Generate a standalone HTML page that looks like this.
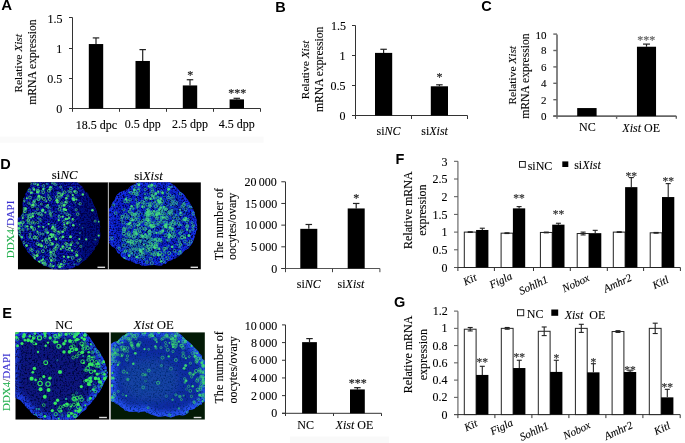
<!DOCTYPE html>
<html><head><meta charset="utf-8"><style>
html,body{margin:0;padding:0;background:#fff;}
body{width:685px;height:443px;overflow:hidden;position:relative;}
svg{position:absolute;left:0;top:0;}
</style></head><body>
<svg width="685" height="443" viewBox="0 0 685 443">
<rect x="0" y="136.6" width="263.5" height="6.2" fill="#fafafa"/>
<rect x="290" y="436.5" width="99" height="6.5" fill="#f9f9f9"/>
<filter id="soft" x="-5%" y="-5%" width="110%" height="110%"><feGaussianBlur stdDeviation="0.4"/></filter>
<filter id="rimblur" x="-10%" y="-10%" width="120%" height="120%"><feGaussianBlur stdDeviation="2.5"/></filter>
<filter id="hazeblur" x="-30%" y="-30%" width="160%" height="160%"><feGaussianBlur stdDeviation="4"/></filter>
<clipPath id="cd1"><rect x="17.8" y="182.2" width="90.2" height="87.4"/></clipPath>
<clipPath id="bd1"><path d="M31.4,181.4 L46.8,180.7 L61.1,180.9 L76.0,181.3 L77.4,182.6 L80.5,185.2 L82.5,186.8 L83.9,189.8 L85.4,192.1 L88.0,193.1 L88.7,196.6 L91.6,199.2 L92.5,202.1 L93.7,205.1 L95.6,208.6 L96.8,211.5 L97.5,214.9 L98.2,217.6 L99.6,221.4 L99.6,223.5 L100.3,226.9 L99.4,228.8 L100.1,232.2 L100.3,234.8 L100.1,238.0 L98.6,240.4 L98.4,243.1 L97.1,245.3 L95.1,247.0 L94.6,249.4 L92.4,251.7 L90.9,254.3 L88.4,256.5 L86.5,259.3 L84.4,260.6 L82.2,262.0 L79.6,264.5 L78.5,265.5 L75.7,266.0 L73.7,268.1 L71.9,268.3 L69.9,268.7 L67.4,270.3 L63.4,269.8 L59.0,269.9 L55.7,269.2 L53.4,269.4 L51.4,268.6 L49.2,267.5 L46.4,266.3 L43.3,265.8 L41.5,263.9 L38.9,262.5 L36.3,260.6 L34.0,259.1 L32.0,256.5 L29.2,253.7 L27.2,251.7 L26.6,249.8 L25.2,247.7 L23.1,245.6 L22.5,242.2 L20.7,239.7 L20.5,237.5 L18.7,235.3 L17.9,232.1 L16.6,230.0 L16.6,226.1 L17.3,222.7 L16.8,219.2 L17.8,218.0 L19.7,216.7 L20.7,216.5 L21.9,213.9 L22.8,212.8 L22.8,210.1 L22.8,207.4 L22.6,203.9 L23.0,200.2 L23.4,198.5 L25.0,195.9 L25.2,193.9 L26.4,192.0 L27.4,190.3 L28.2,188.2 L30.3,186.4 L30.5,183.9Z"/></clipPath>
<filter id="nd1" x="17.8" y="182.2" width="90.2" height="87.4" filterUnits="userSpaceOnUse"><feTurbulence type="fractalNoise" baseFrequency="0.6" numOctaves="2" seed="11"/><feColorMatrix type="matrix" values="0 0 0 0 0.00  0 0 0 0 0.00  0 0 0 0 0.06  3.4 0 0 0 -1.3"/></filter>
<g clip-path="url(#cd1)">
<rect x="17.8" y="182.2" width="90.2" height="87.4" fill="#000"/>
<g filter="url(#soft)">

<path d="M31.4,181.4 L46.8,180.7 L61.1,180.9 L76.0,181.3 L77.4,182.6 L80.5,185.2 L82.5,186.8 L83.9,189.8 L85.4,192.1 L88.0,193.1 L88.7,196.6 L91.6,199.2 L92.5,202.1 L93.7,205.1 L95.6,208.6 L96.8,211.5 L97.5,214.9 L98.2,217.6 L99.6,221.4 L99.6,223.5 L100.3,226.9 L99.4,228.8 L100.1,232.2 L100.3,234.8 L100.1,238.0 L98.6,240.4 L98.4,243.1 L97.1,245.3 L95.1,247.0 L94.6,249.4 L92.4,251.7 L90.9,254.3 L88.4,256.5 L86.5,259.3 L84.4,260.6 L82.2,262.0 L79.6,264.5 L78.5,265.5 L75.7,266.0 L73.7,268.1 L71.9,268.3 L69.9,268.7 L67.4,270.3 L63.4,269.8 L59.0,269.9 L55.7,269.2 L53.4,269.4 L51.4,268.6 L49.2,267.5 L46.4,266.3 L43.3,265.8 L41.5,263.9 L38.9,262.5 L36.3,260.6 L34.0,259.1 L32.0,256.5 L29.2,253.7 L27.2,251.7 L26.6,249.8 L25.2,247.7 L23.1,245.6 L22.5,242.2 L20.7,239.7 L20.5,237.5 L18.7,235.3 L17.9,232.1 L16.6,230.0 L16.6,226.1 L17.3,222.7 L16.8,219.2 L17.8,218.0 L19.7,216.7 L20.7,216.5 L21.9,213.9 L22.8,212.8 L22.8,210.1 L22.8,207.4 L22.6,203.9 L23.0,200.2 L23.4,198.5 L25.0,195.9 L25.2,193.9 L26.4,192.0 L27.4,190.3 L28.2,188.2 L30.3,186.4 L30.5,183.9Z" fill="#0a18b4"/>
<g clip-path="url(#bd1)">
<ellipse cx="90" cy="228" rx="14" ry="42" fill="#000a40" fill-opacity="0.45" filter="url(#hazeblur)"/>
<rect x="17.8" y="182.2" width="90.2" height="87.4" filter="url(#nd1)"/>
<g opacity="0.95"><circle cx="55.1" cy="231.1" r="1.2" fill="none" stroke="#50ee70" stroke-width="0.6"/><circle cx="66.3" cy="198.3" r="1.3" fill="#50ee70"/><circle cx="25.6" cy="208.7" r="1.4" fill="#50ee70"/><circle cx="30.8" cy="183.5" r="0.9" fill="none" stroke="#50ee70" stroke-width="0.6"/><circle cx="37.8" cy="184.8" r="1.2" fill="#50ee70"/><circle cx="60.6" cy="238.2" r="1.3" fill="none" stroke="#50ee70" stroke-width="0.6"/><circle cx="76.2" cy="209.8" r="1.1" fill="none" stroke="#50ee70" stroke-width="0.6"/><circle cx="49.7" cy="265.9" r="0.9" fill="none" stroke="#50ee70" stroke-width="0.6"/><circle cx="50.6" cy="188.6" r="1.4" fill="none" stroke="#50ee70" stroke-width="0.7"/><circle cx="25.0" cy="211.3" r="1.4" fill="none" stroke="#50ee70" stroke-width="0.7"/><circle cx="38.1" cy="191.0" r="1.4" fill="none" stroke="#50ee70" stroke-width="0.7"/><circle cx="63.9" cy="221.3" r="1.3" fill="none" stroke="#50ee70" stroke-width="0.7"/><circle cx="70.9" cy="192.4" r="1.0" fill="none" stroke="#50ee70" stroke-width="0.6"/><circle cx="42.9" cy="259.5" r="1.1" fill="#50ee70"/><circle cx="35.4" cy="204.8" r="1.1" fill="none" stroke="#50ee70" stroke-width="0.6"/><circle cx="65.9" cy="203.4" r="1.1" fill="none" stroke="#50ee70" stroke-width="0.6"/><circle cx="38.4" cy="198.8" r="1.5" fill="none" stroke="#50ee70" stroke-width="0.7"/><circle cx="67.6" cy="219.0" r="0.9" fill="#50ee70"/><circle cx="37.5" cy="243.8" r="1.4" fill="none" stroke="#50ee70" stroke-width="0.7"/><circle cx="42.0" cy="197.5" r="0.9" fill="none" stroke="#50ee70" stroke-width="0.6"/><circle cx="63.9" cy="256.7" r="1.1" fill="#50ee70"/><circle cx="34.6" cy="183.6" r="1.2" fill="none" stroke="#50ee70" stroke-width="0.6"/><circle cx="32.3" cy="214.4" r="1.0" fill="none" stroke="#50ee70" stroke-width="0.6"/><circle cx="72.0" cy="242.6" r="1.0" fill="none" stroke="#50ee70" stroke-width="0.6"/><circle cx="57.6" cy="246.0" r="1.5" fill="none" stroke="#50ee70" stroke-width="0.7"/><circle cx="62.8" cy="246.6" r="1.3" fill="#50ee70"/><circle cx="46.8" cy="242.1" r="1.4" fill="none" stroke="#50ee70" stroke-width="0.7"/><circle cx="69.4" cy="215.6" r="1.3" fill="none" stroke="#50ee70" stroke-width="0.6"/><circle cx="57.5" cy="202.3" r="1.2" fill="#50ee70"/><circle cx="73.7" cy="199.9" r="1.4" fill="#50ee70"/><circle cx="54.3" cy="260.1" r="1.3" fill="none" stroke="#50ee70" stroke-width="0.6"/><circle cx="53.3" cy="252.6" r="1.4" fill="none" stroke="#50ee70" stroke-width="0.7"/><circle cx="65.9" cy="209.9" r="1.2" fill="#50ee70"/><circle cx="40.6" cy="197.0" r="1.1" fill="none" stroke="#50ee70" stroke-width="0.6"/><circle cx="51.9" cy="236.9" r="1.1" fill="#50ee70"/><circle cx="98.8" cy="221.7" r="0.9" fill="#50ee70"/><circle cx="64.9" cy="209.2" r="0.9" fill="none" stroke="#50ee70" stroke-width="0.6"/><circle cx="55.3" cy="184.4" r="1.0" fill="none" stroke="#50ee70" stroke-width="0.6"/><circle cx="21.7" cy="237.2" r="1.3" fill="#50ee70"/><circle cx="74.3" cy="199.6" r="1.0" fill="none" stroke="#50ee70" stroke-width="0.6"/><circle cx="56.8" cy="244.6" r="1.1" fill="none" stroke="#50ee70" stroke-width="0.6"/><circle cx="55.2" cy="236.9" r="1.1" fill="none" stroke="#50ee70" stroke-width="0.6"/><circle cx="56.1" cy="239.1" r="1.3" fill="#50ee70"/><circle cx="70.7" cy="244.9" r="1.4" fill="#50ee70"/><circle cx="44.2" cy="261.7" r="1.1" fill="none" stroke="#50ee70" stroke-width="0.6"/><circle cx="54.2" cy="230.3" r="1.2" fill="none" stroke="#50ee70" stroke-width="0.6"/><circle cx="82.8" cy="194.5" r="1.2" fill="#50ee70"/><circle cx="58.4" cy="265.2" r="1.0" fill="none" stroke="#50ee70" stroke-width="0.6"/><circle cx="41.7" cy="245.9" r="1.2" fill="#50ee70"/><circle cx="64.0" cy="209.4" r="1.4" fill="#50ee70"/><circle cx="35.0" cy="256.6" r="1.2" fill="none" stroke="#50ee70" stroke-width="0.6"/><circle cx="34.4" cy="229.0" r="1.3" fill="none" stroke="#50ee70" stroke-width="0.6"/><circle cx="51.9" cy="265.8" r="1.1" fill="none" stroke="#50ee70" stroke-width="0.6"/><circle cx="28.3" cy="220.1" r="1.4" fill="none" stroke="#50ee70" stroke-width="0.7"/><circle cx="44.0" cy="198.9" r="1.5" fill="none" stroke="#50ee70" stroke-width="0.7"/><circle cx="33.8" cy="202.1" r="1.1" fill="none" stroke="#50ee70" stroke-width="0.6"/><circle cx="68.9" cy="191.4" r="1.0" fill="none" stroke="#50ee70" stroke-width="0.6"/><circle cx="38.5" cy="199.5" r="1.2" fill="none" stroke="#50ee70" stroke-width="0.6"/><circle cx="51.9" cy="228.5" r="1.0" fill="#50ee70"/><circle cx="68.3" cy="257.1" r="1.3" fill="#50ee70"/><circle cx="28.8" cy="203.1" r="1.1" fill="none" stroke="#50ee70" stroke-width="0.6"/><circle cx="28.2" cy="217.4" r="0.9" fill="none" stroke="#50ee70" stroke-width="0.6"/><circle cx="27.3" cy="226.4" r="1.2" fill="#50ee70"/><circle cx="33.4" cy="188.4" r="0.9" fill="none" stroke="#50ee70" stroke-width="0.6"/><circle cx="60.3" cy="231.9" r="1.0" fill="none" stroke="#50ee70" stroke-width="0.6"/><circle cx="55.9" cy="249.0" r="1.2" fill="none" stroke="#50ee70" stroke-width="0.6"/><circle cx="53.3" cy="234.7" r="1.3" fill="#50ee70"/><circle cx="32.8" cy="221.9" r="1.1" fill="none" stroke="#50ee70" stroke-width="0.6"/><circle cx="31.4" cy="227.0" r="1.4" fill="#50ee70"/><circle cx="51.2" cy="234.6" r="1.5" fill="#50ee70"/><circle cx="39.1" cy="261.8" r="1.4" fill="#50ee70"/><circle cx="51.3" cy="260.6" r="1.3" fill="#50ee70"/><circle cx="23.6" cy="212.1" r="0.9" fill="none" stroke="#50ee70" stroke-width="0.6"/><circle cx="70.5" cy="236.7" r="1.5" fill="#50ee70"/><circle cx="45.7" cy="239.9" r="1.2" fill="none" stroke="#50ee70" stroke-width="0.6"/><circle cx="19.7" cy="236.0" r="1.1" fill="none" stroke="#50ee70" stroke-width="0.6"/><circle cx="48.8" cy="190.8" r="1.4" fill="none" stroke="#50ee70" stroke-width="0.7"/><circle cx="59.7" cy="266.7" r="1.5" fill="#50ee70"/><circle cx="67.1" cy="248.6" r="1.5" fill="none" stroke="#50ee70" stroke-width="0.7"/><circle cx="56.7" cy="197.0" r="1.3" fill="none" stroke="#50ee70" stroke-width="0.6"/><circle cx="67.1" cy="214.2" r="1.3" fill="none" stroke="#50ee70" stroke-width="0.6"/><circle cx="41.2" cy="244.8" r="0.9" fill="none" stroke="#50ee70" stroke-width="0.6"/><circle cx="61.0" cy="264.1" r="1.2" fill="#50ee70"/><circle cx="69.3" cy="222.0" r="0.9" fill="none" stroke="#50ee70" stroke-width="0.6"/><circle cx="28.1" cy="220.9" r="1.2" fill="none" stroke="#50ee70" stroke-width="0.6"/><circle cx="65.8" cy="218.9" r="1.2" fill="#50ee70"/><circle cx="37.5" cy="192.2" r="1.4" fill="#50ee70"/><circle cx="47.4" cy="205.9" r="1.2" fill="none" stroke="#50ee70" stroke-width="0.6"/><circle cx="70.0" cy="248.0" r="1.0" fill="#50ee70"/><circle cx="40.1" cy="219.4" r="1.0" fill="none" stroke="#50ee70" stroke-width="0.6"/><circle cx="48.6" cy="224.0" r="1.1" fill="#50ee70"/><circle cx="69.3" cy="249.4" r="1.2" fill="none" stroke="#50ee70" stroke-width="0.6"/><circle cx="63.1" cy="247.4" r="1.2" fill="none" stroke="#50ee70" stroke-width="0.6"/><circle cx="64.3" cy="224.6" r="1.1" fill="#50ee70"/><circle cx="24.1" cy="200.8" r="0.9" fill="none" stroke="#50ee70" stroke-width="0.6"/><circle cx="77.6" cy="242.9" r="1.0" fill="none" stroke="#50ee70" stroke-width="0.6"/><circle cx="77.7" cy="214.2" r="1.3" fill="none" stroke="#50ee70" stroke-width="0.7"/><circle cx="42.9" cy="210.0" r="1.5" fill="#50ee70"/><circle cx="38.3" cy="213.8" r="1.1" fill="none" stroke="#50ee70" stroke-width="0.6"/><circle cx="49.8" cy="199.2" r="1.4" fill="none" stroke="#50ee70" stroke-width="0.7"/><circle cx="80.4" cy="259.2" r="0.9" fill="none" stroke="#50ee70" stroke-width="0.6"/><circle cx="62.7" cy="231.8" r="1.3" fill="#50ee70"/><circle cx="23.1" cy="230.0" r="1.0" fill="none" stroke="#50ee70" stroke-width="0.6"/><circle cx="78.6" cy="260.8" r="1.3" fill="none" stroke="#50ee70" stroke-width="0.6"/><circle cx="79.3" cy="238.9" r="1.0" fill="#50ee70"/><circle cx="60.8" cy="249.0" r="1.1" fill="#50ee70"/><circle cx="73.3" cy="225.3" r="1.3" fill="#50ee70"/><circle cx="76.4" cy="252.3" r="1.2" fill="none" stroke="#50ee70" stroke-width="0.6"/><circle cx="48.8" cy="196.9" r="1.2" fill="none" stroke="#50ee70" stroke-width="0.6"/><circle cx="43.2" cy="192.2" r="1.4" fill="none" stroke="#50ee70" stroke-width="0.7"/><circle cx="22.9" cy="222.3" r="1.4" fill="none" stroke="#50ee70" stroke-width="0.7"/><circle cx="26.8" cy="198.3" r="1.0" fill="#50ee70"/><circle cx="66.9" cy="201.8" r="1.1" fill="none" stroke="#50ee70" stroke-width="0.6"/><circle cx="46.0" cy="230.0" r="1.2" fill="none" stroke="#50ee70" stroke-width="0.6"/><circle cx="60.4" cy="206.2" r="1.3" fill="none" stroke="#50ee70" stroke-width="0.6"/><circle cx="18.7" cy="223.5" r="1.4" fill="#50ee70"/><circle cx="67.8" cy="195.9" r="1.1" fill="none" stroke="#50ee70" stroke-width="0.6"/><circle cx="61.9" cy="195.4" r="0.9" fill="#50ee70"/><circle cx="40.1" cy="244.8" r="1.2" fill="none" stroke="#50ee70" stroke-width="0.6"/><circle cx="42.8" cy="251.2" r="1.5" fill="none" stroke="#50ee70" stroke-width="0.7"/><circle cx="61.2" cy="196.0" r="1.1" fill="none" stroke="#50ee70" stroke-width="0.6"/><circle cx="24.1" cy="208.9" r="1.3" fill="none" stroke="#50ee70" stroke-width="0.7"/><circle cx="74.5" cy="191.4" r="1.2" fill="#50ee70"/><circle cx="86.2" cy="239.4" r="1.1" fill="#50ee70"/><circle cx="37.4" cy="231.5" r="0.9" fill="#50ee70"/><circle cx="41.8" cy="215.1" r="1.1" fill="none" stroke="#50ee70" stroke-width="0.6"/><circle cx="50.2" cy="240.5" r="1.0" fill="#50ee70"/><circle cx="45.0" cy="264.8" r="1.3" fill="none" stroke="#50ee70" stroke-width="0.7"/><circle cx="29.4" cy="190.5" r="1.3" fill="none" stroke="#50ee70" stroke-width="0.7"/><circle cx="51.0" cy="255.3" r="1.0" fill="none" stroke="#50ee70" stroke-width="0.6"/><circle cx="30.8" cy="193.0" r="0.9" fill="#50ee70"/><circle cx="53.0" cy="226.9" r="1.4" fill="#50ee70"/><circle cx="49.6" cy="211.2" r="0.9" fill="none" stroke="#50ee70" stroke-width="0.6"/><circle cx="46.0" cy="239.1" r="1.1" fill="none" stroke="#50ee70" stroke-width="0.6"/><circle cx="30.9" cy="249.2" r="1.2" fill="none" stroke="#50ee70" stroke-width="0.6"/><circle cx="59.1" cy="194.6" r="1.5" fill="none" stroke="#50ee70" stroke-width="0.7"/><circle cx="76.8" cy="255.2" r="1.5" fill="#50ee70"/><circle cx="34.1" cy="189.5" r="1.2" fill="#50ee70"/><circle cx="45.0" cy="263.4" r="1.2" fill="none" stroke="#50ee70" stroke-width="0.6"/><circle cx="64.0" cy="205.3" r="1.5" fill="#50ee70"/><circle cx="41.6" cy="260.6" r="1.2" fill="#50ee70"/><circle cx="33.1" cy="230.1" r="0.9" fill="none" stroke="#50ee70" stroke-width="0.6"/><circle cx="34.3" cy="223.1" r="1.1" fill="none" stroke="#50ee70" stroke-width="0.6"/><circle cx="32.1" cy="227.6" r="1.2" fill="none" stroke="#50ee70" stroke-width="0.6"/><circle cx="67.3" cy="223.3" r="1.3" fill="#50ee70"/><circle cx="64.5" cy="261.3" r="1.2" fill="none" stroke="#50ee70" stroke-width="0.6"/><circle cx="92.4" cy="210.2" r="1.3" fill="#50ee70"/><circle cx="42.9" cy="234.1" r="1.0" fill="none" stroke="#50ee70" stroke-width="0.6"/><circle cx="59.3" cy="216.9" r="1.3" fill="none" stroke="#50ee70" stroke-width="0.7"/><circle cx="37.5" cy="209.0" r="1.0" fill="none" stroke="#50ee70" stroke-width="0.6"/><circle cx="72.7" cy="257.9" r="1.4" fill="none" stroke="#50ee70" stroke-width="0.7"/><circle cx="28.0" cy="229.2" r="0.9" fill="none" stroke="#50ee70" stroke-width="0.6"/><circle cx="42.5" cy="210.6" r="1.4" fill="#50ee70"/><circle cx="50.6" cy="213.4" r="0.9" fill="none" stroke="#50ee70" stroke-width="0.6"/><circle cx="56.8" cy="200.2" r="1.5" fill="#50ee70"/><circle cx="33.9" cy="255.4" r="1.2" fill="none" stroke="#50ee70" stroke-width="0.6"/><circle cx="34.5" cy="237.5" r="1.4" fill="none" stroke="#50ee70" stroke-width="0.7"/><circle cx="26.6" cy="245.6" r="1.4" fill="#50ee70"/><circle cx="95.2" cy="221.1" r="1.0" fill="none" stroke="#50ee70" stroke-width="0.6"/><circle cx="76.4" cy="199.4" r="1.0" fill="#50ee70"/><circle cx="42.6" cy="263.2" r="1.1" fill="#50ee70"/><circle cx="54.1" cy="228.4" r="0.9" fill="none" stroke="#50ee70" stroke-width="0.6"/><circle cx="41.3" cy="204.1" r="1.0" fill="none" stroke="#50ee70" stroke-width="0.6"/><circle cx="80.1" cy="203.7" r="1.2" fill="none" stroke="#50ee70" stroke-width="0.6"/><circle cx="20.6" cy="222.5" r="1.1" fill="#50ee70"/><circle cx="59.0" cy="197.9" r="1.3" fill="none" stroke="#50ee70" stroke-width="0.6"/><circle cx="72.1" cy="250.6" r="1.2" fill="#50ee70"/><circle cx="32.1" cy="250.3" r="1.3" fill="none" stroke="#50ee70" stroke-width="0.6"/><circle cx="54.1" cy="249.8" r="1.4" fill="none" stroke="#50ee70" stroke-width="0.7"/><circle cx="58.1" cy="201.5" r="1.2" fill="none" stroke="#50ee70" stroke-width="0.6"/><circle cx="67.0" cy="244.7" r="1.4" fill="none" stroke="#50ee70" stroke-width="0.7"/><circle cx="58.7" cy="220.2" r="1.1" fill="#50ee70"/><circle cx="64.7" cy="229.7" r="1.0" fill="none" stroke="#50ee70" stroke-width="0.6"/><circle cx="43.5" cy="185.9" r="1.3" fill="none" stroke="#50ee70" stroke-width="0.6"/><circle cx="39.6" cy="233.7" r="1.4" fill="none" stroke="#50ee70" stroke-width="0.7"/><circle cx="38.8" cy="196.2" r="1.4" fill="#50ee70"/><circle cx="22.8" cy="218.1" r="1.0" fill="#50ee70"/><circle cx="21.3" cy="225.0" r="1.5" fill="none" stroke="#50ee70" stroke-width="0.7"/><circle cx="55.4" cy="247.3" r="1.0" fill="#50ee70"/><circle cx="29.5" cy="216.5" r="1.2" fill="none" stroke="#50ee70" stroke-width="0.6"/><circle cx="80.8" cy="246.4" r="1.1" fill="none" stroke="#50ee70" stroke-width="0.6"/><circle cx="37.7" cy="222.5" r="1.1" fill="none" stroke="#50ee70" stroke-width="0.6"/><circle cx="98.7" cy="235.6" r="1.1" fill="#50ee70"/><circle cx="35.6" cy="212.6" r="1.2" fill="none" stroke="#50ee70" stroke-width="0.6"/><circle cx="34.6" cy="200.9" r="1.1" fill="none" stroke="#50ee70" stroke-width="0.6"/><circle cx="23.8" cy="242.6" r="1.1" fill="none" stroke="#50ee70" stroke-width="0.6"/><circle cx="32.8" cy="205.1" r="1.5" fill="#50ee70"/><circle cx="40.0" cy="213.8" r="1.5" fill="none" stroke="#50ee70" stroke-width="0.7"/><circle cx="49.5" cy="189.5" r="1.1" fill="#50ee70"/><circle cx="60.6" cy="187.0" r="1.0" fill="none" stroke="#50ee70" stroke-width="0.6"/><circle cx="30.2" cy="234.2" r="1.1" fill="none" stroke="#50ee70" stroke-width="0.6"/><circle cx="62.7" cy="194.1" r="1.1" fill="#50ee70"/><circle cx="72.8" cy="195.1" r="1.1" fill="#50ee70"/><circle cx="51.2" cy="216.0" r="1.0" fill="none" stroke="#50ee70" stroke-width="0.6"/><circle cx="46.3" cy="201.1" r="0.9" fill="#50ee70"/><circle cx="42.4" cy="240.8" r="1.0" fill="#50ee70"/><circle cx="37.2" cy="237.5" r="1.2" fill="none" stroke="#50ee70" stroke-width="0.6"/><circle cx="22.8" cy="215.7" r="1.2" fill="none" stroke="#50ee70" stroke-width="0.6"/><circle cx="30.9" cy="217.4" r="1.0" fill="#50ee70"/><circle cx="37.6" cy="190.3" r="1.2" fill="none" stroke="#50ee70" stroke-width="0.6"/><circle cx="65.9" cy="243.5" r="1.3" fill="none" stroke="#50ee70" stroke-width="0.7"/><circle cx="50.1" cy="214.0" r="1.1" fill="none" stroke="#50ee70" stroke-width="0.6"/><circle cx="58.7" cy="233.4" r="1.1" fill="none" stroke="#50ee70" stroke-width="0.6"/><circle cx="72.9" cy="198.5" r="1.3" fill="#50ee70"/><circle cx="47.7" cy="232.6" r="1.4" fill="#50ee70"/><circle cx="69.0" cy="218.1" r="1.1" fill="#50ee70"/><circle cx="59.6" cy="209.2" r="1.5" fill="none" stroke="#50ee70" stroke-width="0.7"/><circle cx="33.7" cy="202.2" r="1.0" fill="none" stroke="#50ee70" stroke-width="0.6"/><circle cx="62.7" cy="216.6" r="1.2" fill="#50ee70"/><circle cx="63.0" cy="236.8" r="1.4" fill="#50ee70"/><circle cx="45.3" cy="212.5" r="1.1" fill="#50ee70"/><circle cx="58.3" cy="231.5" r="1.1" fill="#50ee70"/><circle cx="61.8" cy="202.9" r="1.1" fill="none" stroke="#50ee70" stroke-width="0.6"/><circle cx="60.2" cy="193.2" r="0.9" fill="none" stroke="#50ee70" stroke-width="0.6"/><circle cx="75.9" cy="192.1" r="1.4" fill="none" stroke="#50ee70" stroke-width="0.7"/><circle cx="38.7" cy="226.6" r="1.1" fill="#50ee70"/><circle cx="38.6" cy="244.8" r="1.1" fill="#50ee70"/><circle cx="52.5" cy="244.0" r="1.4" fill="#50ee70"/><circle cx="28.1" cy="215.1" r="1.0" fill="none" stroke="#50ee70" stroke-width="0.6"/><circle cx="18.9" cy="233.4" r="1.5" fill="none" stroke="#50ee70" stroke-width="0.7"/><circle cx="50.5" cy="263.8" r="0.9" fill="#50ee70"/><circle cx="41.4" cy="246.1" r="1.0" fill="none" stroke="#50ee70" stroke-width="0.6"/><circle cx="20.0" cy="229.6" r="1.1" fill="none" stroke="#50ee70" stroke-width="0.6"/><circle cx="50.1" cy="236.2" r="1.5" fill="none" stroke="#50ee70" stroke-width="0.7"/><circle cx="29.9" cy="197.5" r="1.5" fill="none" stroke="#50ee70" stroke-width="0.7"/><circle cx="58.1" cy="192.7" r="0.9" fill="none" stroke="#50ee70" stroke-width="0.6"/><circle cx="29.6" cy="236.9" r="1.0" fill="none" stroke="#50ee70" stroke-width="0.6"/><circle cx="48.0" cy="204.9" r="0.9" fill="#50ee70"/><circle cx="43.3" cy="189.1" r="1.2" fill="#50ee70"/><circle cx="34.5" cy="258.0" r="1.1" fill="#50ee70"/><circle cx="50.5" cy="187.2" r="1.3" fill="#50ee70"/><circle cx="54.4" cy="255.1" r="1.0" fill="none" stroke="#50ee70" stroke-width="0.6"/><circle cx="31.7" cy="192.6" r="1.1" fill="#50ee70"/><circle cx="43.4" cy="227.1" r="1.0" fill="#50ee70"/><circle cx="18.7" cy="228.3" r="1.4" fill="#50ee70"/><circle cx="50.7" cy="252.4" r="1.4" fill="#50ee70"/><circle cx="51.0" cy="243.8" r="1.4" fill="none" stroke="#50ee70" stroke-width="0.7"/><circle cx="65.4" cy="202.1" r="1.1" fill="#50ee70"/><circle cx="47.0" cy="206.6" r="1.1" fill="none" stroke="#50ee70" stroke-width="0.6"/><circle cx="45.4" cy="247.0" r="1.3" fill="none" stroke="#50ee70" stroke-width="0.7"/><circle cx="73.9" cy="197.7" r="1.0" fill="none" stroke="#50ee70" stroke-width="0.6"/><circle cx="53.3" cy="183.0" r="1.1" fill="none" stroke="#50ee70" stroke-width="0.6"/><circle cx="62.1" cy="265.4" r="1.4" fill="none" stroke="#50ee70" stroke-width="0.7"/><circle cx="53.3" cy="266.3" r="1.1" fill="#50ee70"/><circle cx="32.5" cy="206.1" r="1.5" fill="none" stroke="#50ee70" stroke-width="0.7"/><circle cx="32.9" cy="213.4" r="1.0" fill="#50ee70"/><circle cx="49.0" cy="238.5" r="1.3" fill="#50ee70"/><circle cx="64.6" cy="192.2" r="1.3" fill="none" stroke="#50ee70" stroke-width="0.7"/><circle cx="72.7" cy="218.9" r="1.0" fill="#50ee70"/><circle cx="65.0" cy="227.2" r="1.3" fill="none" stroke="#50ee70" stroke-width="0.6"/><circle cx="30.3" cy="223.2" r="1.3" fill="none" stroke="#50ee70" stroke-width="0.7"/><circle cx="51.0" cy="258.0" r="1.5" fill="none" stroke="#50ee70" stroke-width="0.7"/><circle cx="37.1" cy="255.6" r="1.5" fill="#50ee70"/><circle cx="55.3" cy="229.1" r="1.0" fill="none" stroke="#50ee70" stroke-width="0.6"/><circle cx="70.9" cy="188.6" r="1.4" fill="none" stroke="#50ee70" stroke-width="0.7"/><circle cx="37.7" cy="252.1" r="1.4" fill="none" stroke="#50ee70" stroke-width="0.7"/><circle cx="30.3" cy="214.2" r="0.9" fill="none" stroke="#50ee70" stroke-width="0.6"/><circle cx="32.8" cy="216.2" r="1.3" fill="#50ee70"/><circle cx="34.9" cy="237.2" r="1.3" fill="none" stroke="#50ee70" stroke-width="0.7"/><circle cx="72.9" cy="219.8" r="1.1" fill="none" stroke="#50ee70" stroke-width="0.6"/></g>
<g opacity="0.6"><circle cx="69.7" cy="206.5" r="0.8" fill="#30c8a0"/><circle cx="28.4" cy="242.8" r="0.6" fill="#30c8a0"/><circle cx="74.9" cy="246.5" r="0.7" fill="#30c8a0"/><circle cx="29.9" cy="237.4" r="0.9" fill="#30c8a0"/><circle cx="55.5" cy="226.5" r="0.7" fill="#30c8a0"/><circle cx="37.2" cy="232.8" r="0.9" fill="#30c8a0"/><circle cx="67.4" cy="221.4" r="0.7" fill="#30c8a0"/><circle cx="54.2" cy="265.6" r="0.8" fill="#30c8a0"/><circle cx="38.0" cy="218.2" r="0.9" fill="#30c8a0"/><circle cx="52.5" cy="212.1" r="0.9" fill="#30c8a0"/><circle cx="62.8" cy="190.9" r="0.5" fill="#30c8a0"/><circle cx="48.7" cy="245.4" r="0.7" fill="#30c8a0"/><circle cx="70.0" cy="223.2" r="0.7" fill="#30c8a0"/><circle cx="50.4" cy="254.6" r="0.9" fill="#30c8a0"/><circle cx="23.3" cy="222.6" r="0.8" fill="#30c8a0"/><circle cx="48.3" cy="194.7" r="0.9" fill="#30c8a0"/><circle cx="31.6" cy="238.9" r="0.9" fill="#30c8a0"/><circle cx="27.7" cy="223.2" r="0.9" fill="#30c8a0"/><circle cx="46.8" cy="229.0" r="0.6" fill="#30c8a0"/><circle cx="42.7" cy="226.5" r="0.8" fill="#30c8a0"/><circle cx="25.1" cy="227.0" r="0.9" fill="#30c8a0"/><circle cx="51.9" cy="186.9" r="0.7" fill="#30c8a0"/><circle cx="55.7" cy="256.6" r="0.9" fill="#30c8a0"/><circle cx="51.9" cy="183.1" r="0.9" fill="#30c8a0"/><circle cx="70.8" cy="256.3" r="0.7" fill="#30c8a0"/><circle cx="39.3" cy="192.0" r="0.7" fill="#30c8a0"/><circle cx="50.3" cy="208.4" r="0.6" fill="#30c8a0"/><circle cx="53.2" cy="223.9" r="0.7" fill="#30c8a0"/><circle cx="22.9" cy="228.3" r="0.7" fill="#30c8a0"/><circle cx="26.0" cy="214.7" r="0.7" fill="#30c8a0"/><circle cx="79.6" cy="224.8" r="0.7" fill="#30c8a0"/><circle cx="18.4" cy="234.1" r="0.7" fill="#30c8a0"/><circle cx="48.2" cy="208.5" r="0.8" fill="#30c8a0"/><circle cx="58.8" cy="227.3" r="0.5" fill="#30c8a0"/><circle cx="38.6" cy="205.8" r="0.7" fill="#30c8a0"/><circle cx="51.0" cy="207.2" r="0.5" fill="#30c8a0"/><circle cx="21.8" cy="236.8" r="1.0" fill="#30c8a0"/><circle cx="79.9" cy="232.9" r="0.9" fill="#30c8a0"/><circle cx="49.0" cy="221.3" r="0.6" fill="#30c8a0"/><circle cx="78.4" cy="188.4" r="0.9" fill="#30c8a0"/><circle cx="63.0" cy="192.1" r="0.7" fill="#30c8a0"/><circle cx="64.0" cy="262.8" r="0.7" fill="#30c8a0"/><circle cx="56.8" cy="184.9" r="0.7" fill="#30c8a0"/><circle cx="49.8" cy="250.2" r="0.9" fill="#30c8a0"/><circle cx="66.1" cy="199.9" r="0.6" fill="#30c8a0"/><circle cx="66.6" cy="227.6" r="0.8" fill="#30c8a0"/><circle cx="47.4" cy="233.2" r="1.0" fill="#30c8a0"/><circle cx="75.3" cy="202.6" r="0.9" fill="#30c8a0"/><circle cx="39.0" cy="187.8" r="0.7" fill="#30c8a0"/><circle cx="53.5" cy="236.2" r="1.0" fill="#30c8a0"/><circle cx="55.4" cy="224.7" r="0.9" fill="#30c8a0"/><circle cx="43.1" cy="256.3" r="0.8" fill="#30c8a0"/><circle cx="63.3" cy="211.3" r="1.0" fill="#30c8a0"/><circle cx="35.8" cy="199.6" r="0.8" fill="#30c8a0"/><circle cx="38.4" cy="184.0" r="0.6" fill="#30c8a0"/><circle cx="38.7" cy="193.7" r="0.6" fill="#30c8a0"/><circle cx="40.7" cy="226.7" r="0.6" fill="#30c8a0"/><circle cx="47.7" cy="251.0" r="0.7" fill="#30c8a0"/><circle cx="64.5" cy="212.7" r="1.0" fill="#30c8a0"/><circle cx="95.4" cy="239.6" r="1.0" fill="#30c8a0"/><circle cx="43.3" cy="258.4" r="0.8" fill="#30c8a0"/><circle cx="20.2" cy="232.1" r="0.8" fill="#30c8a0"/><circle cx="82.5" cy="227.8" r="0.8" fill="#30c8a0"/><circle cx="61.2" cy="213.2" r="0.6" fill="#30c8a0"/><circle cx="52.2" cy="224.7" r="0.7" fill="#30c8a0"/><circle cx="42.6" cy="211.5" r="1.0" fill="#30c8a0"/><circle cx="19.5" cy="225.0" r="0.8" fill="#30c8a0"/><circle cx="68.4" cy="263.8" r="0.8" fill="#30c8a0"/><circle cx="65.7" cy="248.4" r="0.5" fill="#30c8a0"/><circle cx="46.4" cy="183.5" r="0.6" fill="#30c8a0"/><circle cx="61.2" cy="211.5" r="0.7" fill="#30c8a0"/><circle cx="30.2" cy="204.3" r="0.9" fill="#30c8a0"/><circle cx="37.5" cy="239.4" r="0.8" fill="#30c8a0"/><circle cx="42.7" cy="211.0" r="0.8" fill="#30c8a0"/><circle cx="62.4" cy="189.1" r="0.6" fill="#30c8a0"/><circle cx="52.0" cy="268.7" r="0.7" fill="#30c8a0"/><circle cx="29.0" cy="251.2" r="0.7" fill="#30c8a0"/><circle cx="49.1" cy="207.3" r="0.9" fill="#30c8a0"/><circle cx="59.0" cy="215.4" r="1.0" fill="#30c8a0"/><circle cx="34.8" cy="258.9" r="1.0" fill="#30c8a0"/><circle cx="76.7" cy="264.8" r="0.6" fill="#30c8a0"/><circle cx="55.2" cy="214.7" r="0.6" fill="#30c8a0"/><circle cx="23.7" cy="198.4" r="0.5" fill="#30c8a0"/><circle cx="32.9" cy="192.9" r="0.8" fill="#30c8a0"/><circle cx="24.5" cy="201.7" r="0.7" fill="#30c8a0"/><circle cx="45.1" cy="231.9" r="0.9" fill="#30c8a0"/><circle cx="55.7" cy="234.9" r="0.7" fill="#30c8a0"/><circle cx="50.8" cy="186.7" r="0.6" fill="#30c8a0"/><circle cx="35.3" cy="183.9" r="0.9" fill="#30c8a0"/><circle cx="71.6" cy="222.8" r="0.5" fill="#30c8a0"/><circle cx="68.8" cy="214.5" r="0.8" fill="#30c8a0"/><circle cx="47.2" cy="259.5" r="0.7" fill="#30c8a0"/><circle cx="55.8" cy="211.3" r="0.6" fill="#30c8a0"/><circle cx="31.2" cy="226.7" r="0.6" fill="#30c8a0"/><circle cx="41.2" cy="190.7" r="0.7" fill="#30c8a0"/><circle cx="58.8" cy="262.8" r="0.7" fill="#30c8a0"/><circle cx="58.8" cy="205.7" r="0.8" fill="#30c8a0"/><circle cx="25.2" cy="225.7" r="0.8" fill="#30c8a0"/><circle cx="40.9" cy="220.9" r="0.9" fill="#30c8a0"/><circle cx="63.6" cy="264.9" r="0.7" fill="#30c8a0"/><circle cx="34.0" cy="201.0" r="0.9" fill="#30c8a0"/><circle cx="32.3" cy="253.4" r="0.6" fill="#30c8a0"/><circle cx="19.7" cy="226.9" r="0.9" fill="#30c8a0"/><circle cx="64.7" cy="264.7" r="0.7" fill="#30c8a0"/><circle cx="47.0" cy="184.2" r="0.9" fill="#30c8a0"/><circle cx="60.4" cy="209.8" r="0.6" fill="#30c8a0"/><circle cx="74.4" cy="264.5" r="1.0" fill="#30c8a0"/><circle cx="45.3" cy="206.6" r="0.7" fill="#30c8a0"/><circle cx="79.2" cy="204.0" r="0.8" fill="#30c8a0"/><circle cx="44.8" cy="188.3" r="0.7" fill="#30c8a0"/></g>

</g></g>
<rect x="97.5" y="266.6" width="7.6" height="1.4" fill="#ddd"/>
</g>
<clipPath id="cd2"><rect x="108.8" y="182.2" width="92.1" height="87.4"/></clipPath>
<clipPath id="bd2"><path d="M139.5,181.7 L147.8,180.3 L158.7,181.4 L168.1,180.7 L171.1,183.6 L174.3,185.4 L177.2,188.2 L180.2,191.7 L183.0,193.4 L184.7,195.4 L186.2,197.9 L188.9,201.2 L190.9,204.9 L192.4,207.2 L193.1,209.2 L194.5,212.2 L195.3,216.4 L196.1,218.0 L197.0,221.8 L196.9,224.2 L197.2,226.2 L196.7,228.8 L197.5,228.3 L197.0,229.9 L196.3,230.4 L195.3,234.6 L194.3,238.0 L193.0,241.6 L192.1,243.4 L189.8,246.6 L188.3,248.4 L185.0,250.3 L183.3,252.1 L181.2,254.4 L178.7,255.9 L176.3,257.9 L173.1,259.0 L170.9,260.5 L167.9,261.3 L165.7,263.9 L163.8,263.4 L161.9,265.4 L160.0,265.4 L154.3,265.0 L148.7,265.2 L142.6,266.0 L140.2,264.7 L139.3,263.5 L136.1,263.8 L134.0,262.5 L130.9,260.9 L128.7,260.4 L126.1,259.8 L123.5,258.3 L121.0,256.5 L120.5,254.3 L117.7,253.0 L116.2,249.9 L115.4,248.2 L112.1,246.6 L111.2,245.4 L109.4,243.1 L108.2,241.6 L108.4,240.4 L108.6,231.7 L108.6,223.0 L108.0,213.6 L109.1,211.4 L109.0,209.2 L111.1,206.4 L111.6,204.8 L112.5,202.4 L114.2,200.6 L115.2,198.9 L115.7,197.1 L117.4,194.3 L119.6,192.6 L122.0,191.5 L125.0,190.3 L128.5,188.8 L130.2,186.4 L133.0,185.1 L135.4,184.1 L137.3,181.9Z"/></clipPath>
<filter id="nd2" x="108.8" y="182.2" width="92.1" height="87.4" filterUnits="userSpaceOnUse"><feTurbulence type="fractalNoise" baseFrequency="0.6" numOctaves="2" seed="22"/><feColorMatrix type="matrix" values="0 0 0 0 0.00  0 0 0 0 0.00  0 0 0 0 0.06  3.2 0 0 0 -1.35"/></filter>
<g clip-path="url(#cd2)">
<rect x="108.8" y="182.2" width="92.1" height="87.4" fill="#000"/>
<g filter="url(#soft)">

<path d="M139.5,181.7 L147.8,180.3 L158.7,181.4 L168.1,180.7 L171.1,183.6 L174.3,185.4 L177.2,188.2 L180.2,191.7 L183.0,193.4 L184.7,195.4 L186.2,197.9 L188.9,201.2 L190.9,204.9 L192.4,207.2 L193.1,209.2 L194.5,212.2 L195.3,216.4 L196.1,218.0 L197.0,221.8 L196.9,224.2 L197.2,226.2 L196.7,228.8 L197.5,228.3 L197.0,229.9 L196.3,230.4 L195.3,234.6 L194.3,238.0 L193.0,241.6 L192.1,243.4 L189.8,246.6 L188.3,248.4 L185.0,250.3 L183.3,252.1 L181.2,254.4 L178.7,255.9 L176.3,257.9 L173.1,259.0 L170.9,260.5 L167.9,261.3 L165.7,263.9 L163.8,263.4 L161.9,265.4 L160.0,265.4 L154.3,265.0 L148.7,265.2 L142.6,266.0 L140.2,264.7 L139.3,263.5 L136.1,263.8 L134.0,262.5 L130.9,260.9 L128.7,260.4 L126.1,259.8 L123.5,258.3 L121.0,256.5 L120.5,254.3 L117.7,253.0 L116.2,249.9 L115.4,248.2 L112.1,246.6 L111.2,245.4 L109.4,243.1 L108.2,241.6 L108.4,240.4 L108.6,231.7 L108.6,223.0 L108.0,213.6 L109.1,211.4 L109.0,209.2 L111.1,206.4 L111.6,204.8 L112.5,202.4 L114.2,200.6 L115.2,198.9 L115.7,197.1 L117.4,194.3 L119.6,192.6 L122.0,191.5 L125.0,190.3 L128.5,188.8 L130.2,186.4 L133.0,185.1 L135.4,184.1 L137.3,181.9Z" fill="#0b22d0"/>
<g clip-path="url(#bd2)">
<path d="M139.5,181.7 L147.8,180.3 L158.7,181.4 L168.1,180.7 L171.1,183.6 L174.3,185.4 L177.2,188.2 L180.2,191.7 L183.0,193.4 L184.7,195.4 L186.2,197.9 L188.9,201.2 L190.9,204.9 L192.4,207.2 L193.1,209.2 L194.5,212.2 L195.3,216.4 L196.1,218.0 L197.0,221.8 L196.9,224.2 L197.2,226.2 L196.7,228.8 L197.5,228.3 L197.0,229.9 L196.3,230.4 L195.3,234.6 L194.3,238.0 L193.0,241.6 L192.1,243.4 L189.8,246.6 L188.3,248.4 L185.0,250.3 L183.3,252.1 L181.2,254.4 L178.7,255.9 L176.3,257.9 L173.1,259.0 L170.9,260.5 L167.9,261.3 L165.7,263.9 L163.8,263.4 L161.9,265.4 L160.0,265.4 L154.3,265.0 L148.7,265.2 L142.6,266.0 L140.2,264.7 L139.3,263.5 L136.1,263.8 L134.0,262.5 L130.9,260.9 L128.7,260.4 L126.1,259.8 L123.5,258.3 L121.0,256.5 L120.5,254.3 L117.7,253.0 L116.2,249.9 L115.4,248.2 L112.1,246.6 L111.2,245.4 L109.4,243.1 L108.2,241.6 L108.4,240.4 L108.6,231.7 L108.6,223.0 L108.0,213.6 L109.1,211.4 L109.0,209.2 L111.1,206.4 L111.6,204.8 L112.5,202.4 L114.2,200.6 L115.2,198.9 L115.7,197.1 L117.4,194.3 L119.6,192.6 L122.0,191.5 L125.0,190.3 L128.5,188.8 L130.2,186.4 L133.0,185.1 L135.4,184.1 L137.3,181.9Z" fill="none" stroke="#1a3cff" stroke-width="8" stroke-opacity="0.7" filter="url(#rimblur)"/>
<ellipse cx="140" cy="246" rx="16" ry="10" fill="#30e070" fill-opacity="0.35" filter="url(#hazeblur)"/>
<ellipse cx="165" cy="215" rx="20" ry="18" fill="#20c0a0" fill-opacity="0.15" filter="url(#hazeblur)"/>
<rect x="108.8" y="182.2" width="92.1" height="87.4" filter="url(#nd2)"/>
<g opacity="0.9"><circle cx="139.4" cy="256.7" r="1.6" fill="none" stroke="#48ea7c" stroke-width="0.7"/><circle cx="190.7" cy="241.5" r="1.5" fill="none" stroke="#48ea7c" stroke-width="0.6"/><circle cx="168.0" cy="197.7" r="1.3" fill="none" stroke="#48ea7c" stroke-width="0.6"/><circle cx="136.0" cy="213.5" r="1.1" fill="none" stroke="#48ea7c" stroke-width="0.6"/><circle cx="157.0" cy="218.5" r="1.3" fill="none" stroke="#48ea7c" stroke-width="0.6"/><circle cx="124.0" cy="228.0" r="1.1" fill="none" stroke="#48ea7c" stroke-width="0.6"/><circle cx="126.7" cy="240.3" r="1.2" fill="none" stroke="#48ea7c" stroke-width="0.6"/><circle cx="153.0" cy="226.1" r="1.6" fill="none" stroke="#48ea7c" stroke-width="0.7"/><circle cx="150.7" cy="243.1" r="1.1" fill="none" stroke="#48ea7c" stroke-width="0.6"/><circle cx="147.3" cy="204.7" r="1.6" fill="none" stroke="#48ea7c" stroke-width="0.7"/><circle cx="142.3" cy="253.3" r="1.0" fill="none" stroke="#48ea7c" stroke-width="0.6"/><circle cx="150.0" cy="203.1" r="1.1" fill="none" stroke="#48ea7c" stroke-width="0.6"/><circle cx="142.5" cy="235.9" r="1.5" fill="#48ea7c"/><circle cx="154.3" cy="198.0" r="1.0" fill="none" stroke="#48ea7c" stroke-width="0.6"/><circle cx="143.1" cy="237.2" r="1.0" fill="none" stroke="#48ea7c" stroke-width="0.6"/><circle cx="142.5" cy="202.0" r="1.6" fill="none" stroke="#48ea7c" stroke-width="0.7"/><circle cx="155.5" cy="246.5" r="1.6" fill="none" stroke="#48ea7c" stroke-width="0.7"/><circle cx="180.3" cy="251.4" r="0.9" fill="none" stroke="#48ea7c" stroke-width="0.6"/><circle cx="145.3" cy="234.4" r="1.1" fill="#48ea7c"/><circle cx="166.6" cy="209.1" r="1.1" fill="none" stroke="#48ea7c" stroke-width="0.6"/><circle cx="190.9" cy="207.2" r="1.1" fill="none" stroke="#48ea7c" stroke-width="0.6"/><circle cx="148.3" cy="210.0" r="1.2" fill="none" stroke="#48ea7c" stroke-width="0.6"/><circle cx="140.2" cy="250.4" r="1.3" fill="#48ea7c"/><circle cx="193.8" cy="213.6" r="1.6" fill="none" stroke="#48ea7c" stroke-width="0.7"/><circle cx="136.3" cy="193.8" r="1.6" fill="none" stroke="#48ea7c" stroke-width="0.7"/><circle cx="149.5" cy="235.1" r="1.4" fill="none" stroke="#48ea7c" stroke-width="0.6"/><circle cx="168.3" cy="212.4" r="0.9" fill="none" stroke="#48ea7c" stroke-width="0.6"/><circle cx="160.7" cy="207.6" r="1.4" fill="#48ea7c"/><circle cx="138.7" cy="215.6" r="1.0" fill="none" stroke="#48ea7c" stroke-width="0.6"/><circle cx="159.6" cy="232.6" r="1.3" fill="none" stroke="#48ea7c" stroke-width="0.6"/><circle cx="160.3" cy="201.3" r="1.0" fill="none" stroke="#48ea7c" stroke-width="0.6"/><circle cx="172.1" cy="201.7" r="1.2" fill="none" stroke="#48ea7c" stroke-width="0.6"/><circle cx="147.9" cy="250.0" r="1.6" fill="none" stroke="#48ea7c" stroke-width="0.7"/><circle cx="141.7" cy="222.1" r="1.0" fill="none" stroke="#48ea7c" stroke-width="0.6"/><circle cx="131.3" cy="219.4" r="1.4" fill="none" stroke="#48ea7c" stroke-width="0.6"/><circle cx="170.0" cy="227.3" r="1.6" fill="#48ea7c"/><circle cx="148.9" cy="214.5" r="1.3" fill="#48ea7c"/><circle cx="143.3" cy="206.4" r="1.5" fill="none" stroke="#48ea7c" stroke-width="0.6"/><circle cx="133.8" cy="236.0" r="1.5" fill="none" stroke="#48ea7c" stroke-width="0.6"/><circle cx="182.6" cy="220.3" r="0.9" fill="none" stroke="#48ea7c" stroke-width="0.6"/><circle cx="164.8" cy="207.9" r="1.4" fill="none" stroke="#48ea7c" stroke-width="0.6"/><circle cx="125.5" cy="214.9" r="1.5" fill="none" stroke="#48ea7c" stroke-width="0.6"/><circle cx="188.5" cy="244.0" r="1.5" fill="none" stroke="#48ea7c" stroke-width="0.6"/><circle cx="129.1" cy="211.7" r="1.0" fill="none" stroke="#48ea7c" stroke-width="0.6"/><circle cx="146.9" cy="246.4" r="1.1" fill="none" stroke="#48ea7c" stroke-width="0.6"/><circle cx="140.3" cy="241.4" r="0.9" fill="none" stroke="#48ea7c" stroke-width="0.6"/><circle cx="143.6" cy="258.5" r="1.0" fill="none" stroke="#48ea7c" stroke-width="0.6"/><circle cx="178.5" cy="223.0" r="1.3" fill="none" stroke="#48ea7c" stroke-width="0.6"/><circle cx="154.4" cy="202.3" r="0.9" fill="none" stroke="#48ea7c" stroke-width="0.6"/><circle cx="158.1" cy="224.4" r="1.0" fill="none" stroke="#48ea7c" stroke-width="0.6"/><circle cx="168.8" cy="240.1" r="1.3" fill="none" stroke="#48ea7c" stroke-width="0.6"/><circle cx="136.0" cy="249.3" r="1.0" fill="none" stroke="#48ea7c" stroke-width="0.6"/><circle cx="137.7" cy="204.5" r="1.0" fill="none" stroke="#48ea7c" stroke-width="0.6"/><circle cx="151.9" cy="226.1" r="1.0" fill="none" stroke="#48ea7c" stroke-width="0.6"/><circle cx="151.7" cy="223.6" r="1.6" fill="none" stroke="#48ea7c" stroke-width="0.7"/><circle cx="157.2" cy="239.5" r="1.6" fill="none" stroke="#48ea7c" stroke-width="0.7"/><circle cx="161.5" cy="215.4" r="1.4" fill="none" stroke="#48ea7c" stroke-width="0.6"/><circle cx="171.5" cy="230.0" r="0.9" fill="none" stroke="#48ea7c" stroke-width="0.6"/><circle cx="150.2" cy="186.4" r="1.0" fill="none" stroke="#48ea7c" stroke-width="0.6"/><circle cx="155.1" cy="186.2" r="1.0" fill="none" stroke="#48ea7c" stroke-width="0.6"/><circle cx="154.2" cy="254.5" r="1.5" fill="none" stroke="#48ea7c" stroke-width="0.6"/><circle cx="157.1" cy="242.7" r="1.3" fill="none" stroke="#48ea7c" stroke-width="0.6"/><circle cx="157.9" cy="211.9" r="1.2" fill="none" stroke="#48ea7c" stroke-width="0.6"/><circle cx="132.9" cy="208.3" r="1.1" fill="none" stroke="#48ea7c" stroke-width="0.6"/><circle cx="155.3" cy="244.7" r="1.0" fill="none" stroke="#48ea7c" stroke-width="0.6"/><circle cx="166.9" cy="248.0" r="1.0" fill="none" stroke="#48ea7c" stroke-width="0.6"/><circle cx="153.4" cy="245.0" r="1.3" fill="none" stroke="#48ea7c" stroke-width="0.6"/><circle cx="158.5" cy="201.6" r="0.9" fill="none" stroke="#48ea7c" stroke-width="0.6"/><circle cx="181.9" cy="231.1" r="1.3" fill="none" stroke="#48ea7c" stroke-width="0.6"/><circle cx="164.8" cy="213.9" r="1.0" fill="none" stroke="#48ea7c" stroke-width="0.6"/><circle cx="135.3" cy="219.6" r="1.3" fill="none" stroke="#48ea7c" stroke-width="0.6"/><circle cx="123.4" cy="222.6" r="1.4" fill="none" stroke="#48ea7c" stroke-width="0.6"/><circle cx="184.9" cy="219.7" r="1.3" fill="#48ea7c"/><circle cx="165.0" cy="248.7" r="1.2" fill="none" stroke="#48ea7c" stroke-width="0.6"/><circle cx="153.8" cy="226.6" r="1.1" fill="#48ea7c"/><circle cx="139.8" cy="222.3" r="1.1" fill="none" stroke="#48ea7c" stroke-width="0.6"/><circle cx="132.1" cy="213.5" r="1.2" fill="none" stroke="#48ea7c" stroke-width="0.6"/><circle cx="179.3" cy="247.1" r="0.9" fill="none" stroke="#48ea7c" stroke-width="0.6"/><circle cx="126.5" cy="218.2" r="1.1" fill="none" stroke="#48ea7c" stroke-width="0.6"/><circle cx="148.5" cy="186.5" r="1.0" fill="#48ea7c"/><circle cx="148.1" cy="222.7" r="1.2" fill="none" stroke="#48ea7c" stroke-width="0.6"/><circle cx="173.8" cy="200.6" r="0.9" fill="none" stroke="#48ea7c" stroke-width="0.6"/><circle cx="180.3" cy="193.8" r="1.2" fill="none" stroke="#48ea7c" stroke-width="0.6"/><circle cx="131.7" cy="241.5" r="1.6" fill="none" stroke="#48ea7c" stroke-width="0.7"/><circle cx="161.9" cy="209.7" r="1.0" fill="none" stroke="#48ea7c" stroke-width="0.6"/><circle cx="155.5" cy="239.1" r="0.9" fill="none" stroke="#48ea7c" stroke-width="0.6"/><circle cx="152.1" cy="246.2" r="1.2" fill="none" stroke="#48ea7c" stroke-width="0.6"/><circle cx="126.3" cy="235.2" r="1.5" fill="none" stroke="#48ea7c" stroke-width="0.6"/><circle cx="118.9" cy="248.2" r="1.1" fill="none" stroke="#48ea7c" stroke-width="0.6"/><circle cx="165.0" cy="225.8" r="1.2" fill="#48ea7c"/><circle cx="158.4" cy="200.4" r="1.2" fill="#48ea7c"/><circle cx="172.2" cy="246.8" r="1.4" fill="#48ea7c"/><circle cx="149.9" cy="232.1" r="1.5" fill="none" stroke="#48ea7c" stroke-width="0.7"/><circle cx="148.3" cy="220.4" r="1.3" fill="#48ea7c"/><circle cx="164.2" cy="251.1" r="1.0" fill="none" stroke="#48ea7c" stroke-width="0.6"/><circle cx="156.9" cy="248.1" r="1.2" fill="none" stroke="#48ea7c" stroke-width="0.6"/><circle cx="150.1" cy="238.0" r="1.1" fill="none" stroke="#48ea7c" stroke-width="0.6"/><circle cx="129.2" cy="255.8" r="1.3" fill="#48ea7c"/><circle cx="181.1" cy="214.3" r="1.4" fill="none" stroke="#48ea7c" stroke-width="0.6"/><circle cx="123.9" cy="209.8" r="1.1" fill="none" stroke="#48ea7c" stroke-width="0.6"/><circle cx="162.9" cy="230.7" r="1.4" fill="#48ea7c"/><circle cx="130.5" cy="235.5" r="1.2" fill="none" stroke="#48ea7c" stroke-width="0.6"/><circle cx="166.5" cy="227.6" r="1.1" fill="#48ea7c"/><circle cx="161.6" cy="191.8" r="1.0" fill="none" stroke="#48ea7c" stroke-width="0.6"/><circle cx="142.5" cy="206.7" r="1.2" fill="#48ea7c"/><circle cx="149.8" cy="215.7" r="1.1" fill="none" stroke="#48ea7c" stroke-width="0.6"/><circle cx="165.2" cy="222.6" r="1.5" fill="none" stroke="#48ea7c" stroke-width="0.6"/><circle cx="159.0" cy="213.8" r="1.1" fill="#48ea7c"/><circle cx="152.0" cy="226.6" r="1.3" fill="none" stroke="#48ea7c" stroke-width="0.6"/><circle cx="113.6" cy="205.0" r="1.1" fill="none" stroke="#48ea7c" stroke-width="0.6"/><circle cx="158.3" cy="255.2" r="1.2" fill="#48ea7c"/><circle cx="173.4" cy="236.2" r="1.5" fill="none" stroke="#48ea7c" stroke-width="0.6"/><circle cx="130.2" cy="222.9" r="1.4" fill="#48ea7c"/><circle cx="123.8" cy="233.6" r="1.6" fill="none" stroke="#48ea7c" stroke-width="0.7"/><circle cx="151.2" cy="212.2" r="1.4" fill="none" stroke="#48ea7c" stroke-width="0.6"/><circle cx="137.0" cy="240.6" r="1.2" fill="none" stroke="#48ea7c" stroke-width="0.6"/><circle cx="170.9" cy="198.4" r="1.0" fill="none" stroke="#48ea7c" stroke-width="0.6"/><circle cx="160.9" cy="232.6" r="1.3" fill="none" stroke="#48ea7c" stroke-width="0.6"/><circle cx="179.8" cy="252.6" r="1.6" fill="none" stroke="#48ea7c" stroke-width="0.7"/><circle cx="149.8" cy="186.0" r="1.4" fill="none" stroke="#48ea7c" stroke-width="0.6"/><circle cx="159.3" cy="209.6" r="1.3" fill="#48ea7c"/><circle cx="124.0" cy="229.3" r="1.6" fill="none" stroke="#48ea7c" stroke-width="0.7"/><circle cx="147.2" cy="219.5" r="1.2" fill="none" stroke="#48ea7c" stroke-width="0.6"/><circle cx="158.0" cy="213.6" r="1.5" fill="none" stroke="#48ea7c" stroke-width="0.6"/><circle cx="145.0" cy="193.8" r="0.9" fill="none" stroke="#48ea7c" stroke-width="0.6"/><circle cx="147.2" cy="237.3" r="1.1" fill="none" stroke="#48ea7c" stroke-width="0.6"/><circle cx="149.6" cy="230.7" r="1.1" fill="none" stroke="#48ea7c" stroke-width="0.6"/><circle cx="163.7" cy="206.9" r="1.2" fill="#48ea7c"/><circle cx="126.0" cy="199.2" r="1.2" fill="#48ea7c"/><circle cx="132.5" cy="220.2" r="1.3" fill="#48ea7c"/><circle cx="140.1" cy="240.5" r="0.9" fill="none" stroke="#48ea7c" stroke-width="0.6"/><circle cx="152.3" cy="195.8" r="1.0" fill="none" stroke="#48ea7c" stroke-width="0.6"/><circle cx="161.8" cy="201.3" r="1.6" fill="none" stroke="#48ea7c" stroke-width="0.7"/><circle cx="152.3" cy="214.3" r="1.3" fill="none" stroke="#48ea7c" stroke-width="0.6"/><circle cx="111.9" cy="238.4" r="1.4" fill="none" stroke="#48ea7c" stroke-width="0.6"/><circle cx="169.2" cy="253.2" r="1.6" fill="none" stroke="#48ea7c" stroke-width="0.7"/><circle cx="157.4" cy="254.0" r="1.5" fill="none" stroke="#48ea7c" stroke-width="0.6"/><circle cx="125.4" cy="251.2" r="1.1" fill="none" stroke="#48ea7c" stroke-width="0.6"/><circle cx="176.0" cy="215.2" r="0.9" fill="none" stroke="#48ea7c" stroke-width="0.6"/><circle cx="168.6" cy="189.3" r="1.5" fill="#48ea7c"/><circle cx="135.4" cy="232.9" r="1.0" fill="none" stroke="#48ea7c" stroke-width="0.6"/><circle cx="163.2" cy="217.7" r="1.5" fill="none" stroke="#48ea7c" stroke-width="0.6"/><circle cx="132.4" cy="214.4" r="1.5" fill="none" stroke="#48ea7c" stroke-width="0.6"/><circle cx="172.8" cy="220.7" r="1.0" fill="#48ea7c"/><circle cx="154.2" cy="254.9" r="1.1" fill="none" stroke="#48ea7c" stroke-width="0.6"/><circle cx="162.0" cy="231.7" r="1.3" fill="none" stroke="#48ea7c" stroke-width="0.6"/><circle cx="154.7" cy="248.1" r="0.9" fill="#48ea7c"/><circle cx="168.8" cy="234.1" r="1.0" fill="none" stroke="#48ea7c" stroke-width="0.6"/><circle cx="149.5" cy="219.4" r="1.3" fill="none" stroke="#48ea7c" stroke-width="0.6"/><circle cx="159.2" cy="248.8" r="1.2" fill="#48ea7c"/><circle cx="137.3" cy="225.5" r="1.0" fill="#48ea7c"/><circle cx="149.3" cy="221.4" r="1.2" fill="none" stroke="#48ea7c" stroke-width="0.6"/><circle cx="126.8" cy="224.5" r="0.9" fill="none" stroke="#48ea7c" stroke-width="0.6"/><circle cx="148.8" cy="211.1" r="0.9" fill="none" stroke="#48ea7c" stroke-width="0.6"/><circle cx="145.9" cy="221.3" r="1.4" fill="none" stroke="#48ea7c" stroke-width="0.6"/><circle cx="155.9" cy="206.2" r="1.6" fill="none" stroke="#48ea7c" stroke-width="0.7"/><circle cx="169.8" cy="235.0" r="1.5" fill="#48ea7c"/><circle cx="124.1" cy="258.6" r="1.4" fill="#48ea7c"/><circle cx="121.4" cy="219.6" r="1.3" fill="none" stroke="#48ea7c" stroke-width="0.6"/><circle cx="152.4" cy="198.0" r="1.4" fill="none" stroke="#48ea7c" stroke-width="0.6"/><circle cx="168.6" cy="230.9" r="1.4" fill="none" stroke="#48ea7c" stroke-width="0.6"/><circle cx="169.1" cy="187.5" r="1.3" fill="none" stroke="#48ea7c" stroke-width="0.6"/><circle cx="161.6" cy="217.9" r="1.2" fill="none" stroke="#48ea7c" stroke-width="0.6"/><circle cx="174.6" cy="250.8" r="1.3" fill="none" stroke="#48ea7c" stroke-width="0.6"/><circle cx="147.2" cy="217.4" r="1.0" fill="none" stroke="#48ea7c" stroke-width="0.6"/><circle cx="164.1" cy="248.6" r="1.4" fill="none" stroke="#48ea7c" stroke-width="0.6"/><circle cx="184.5" cy="235.6" r="1.2" fill="none" stroke="#48ea7c" stroke-width="0.6"/><circle cx="131.2" cy="252.9" r="1.1" fill="none" stroke="#48ea7c" stroke-width="0.6"/><circle cx="174.7" cy="221.8" r="0.9" fill="none" stroke="#48ea7c" stroke-width="0.6"/><circle cx="133.9" cy="236.8" r="1.5" fill="none" stroke="#48ea7c" stroke-width="0.6"/><circle cx="182.1" cy="237.7" r="1.5" fill="none" stroke="#48ea7c" stroke-width="0.6"/><circle cx="133.7" cy="193.6" r="1.2" fill="none" stroke="#48ea7c" stroke-width="0.6"/><circle cx="134.7" cy="215.1" r="1.1" fill="none" stroke="#48ea7c" stroke-width="0.6"/><circle cx="143.3" cy="249.0" r="1.0" fill="#48ea7c"/><circle cx="139.7" cy="202.8" r="0.9" fill="#48ea7c"/><circle cx="139.1" cy="249.2" r="1.1" fill="none" stroke="#48ea7c" stroke-width="0.6"/><circle cx="178.8" cy="239.1" r="1.2" fill="none" stroke="#48ea7c" stroke-width="0.6"/><circle cx="154.7" cy="196.8" r="1.3" fill="none" stroke="#48ea7c" stroke-width="0.6"/><circle cx="136.2" cy="199.6" r="0.9" fill="none" stroke="#48ea7c" stroke-width="0.6"/><circle cx="140.9" cy="251.2" r="1.3" fill="#48ea7c"/><circle cx="148.6" cy="211.8" r="1.5" fill="none" stroke="#48ea7c" stroke-width="0.6"/><circle cx="129.5" cy="240.5" r="1.5" fill="none" stroke="#48ea7c" stroke-width="0.6"/><circle cx="166.5" cy="224.9" r="1.6" fill="none" stroke="#48ea7c" stroke-width="0.7"/><circle cx="182.3" cy="206.7" r="1.4" fill="none" stroke="#48ea7c" stroke-width="0.6"/><circle cx="160.2" cy="240.3" r="1.2" fill="none" stroke="#48ea7c" stroke-width="0.6"/><circle cx="151.3" cy="204.0" r="1.3" fill="none" stroke="#48ea7c" stroke-width="0.6"/><circle cx="145.3" cy="236.0" r="1.5" fill="none" stroke="#48ea7c" stroke-width="0.6"/><circle cx="152.7" cy="191.1" r="1.2" fill="none" stroke="#48ea7c" stroke-width="0.6"/><circle cx="154.7" cy="239.4" r="1.1" fill="none" stroke="#48ea7c" stroke-width="0.6"/><circle cx="158.9" cy="240.1" r="1.2" fill="none" stroke="#48ea7c" stroke-width="0.6"/><circle cx="185.0" cy="241.4" r="1.4" fill="none" stroke="#48ea7c" stroke-width="0.6"/><circle cx="171.1" cy="213.9" r="1.5" fill="none" stroke="#48ea7c" stroke-width="0.6"/><circle cx="135.0" cy="186.5" r="1.4" fill="none" stroke="#48ea7c" stroke-width="0.6"/><circle cx="179.5" cy="225.0" r="1.2" fill="none" stroke="#48ea7c" stroke-width="0.6"/><circle cx="171.2" cy="223.0" r="1.2" fill="none" stroke="#48ea7c" stroke-width="0.6"/><circle cx="145.7" cy="229.3" r="1.0" fill="none" stroke="#48ea7c" stroke-width="0.6"/><circle cx="128.1" cy="201.6" r="1.3" fill="none" stroke="#48ea7c" stroke-width="0.6"/><circle cx="148.9" cy="246.7" r="1.5" fill="none" stroke="#48ea7c" stroke-width="0.6"/><circle cx="171.9" cy="210.2" r="1.1" fill="none" stroke="#48ea7c" stroke-width="0.6"/><circle cx="172.7" cy="224.4" r="1.6" fill="none" stroke="#48ea7c" stroke-width="0.7"/><circle cx="146.3" cy="214.4" r="1.3" fill="none" stroke="#48ea7c" stroke-width="0.6"/><circle cx="157.6" cy="198.4" r="1.3" fill="none" stroke="#48ea7c" stroke-width="0.6"/><circle cx="134.4" cy="189.9" r="1.4" fill="#48ea7c"/><circle cx="154.7" cy="247.4" r="1.5" fill="#48ea7c"/><circle cx="170.8" cy="212.2" r="1.5" fill="none" stroke="#48ea7c" stroke-width="0.6"/><circle cx="138.2" cy="223.9" r="1.5" fill="none" stroke="#48ea7c" stroke-width="0.6"/><circle cx="151.9" cy="214.2" r="1.1" fill="none" stroke="#48ea7c" stroke-width="0.6"/><circle cx="141.6" cy="251.3" r="1.3" fill="none" stroke="#48ea7c" stroke-width="0.6"/><circle cx="134.4" cy="224.2" r="1.1" fill="none" stroke="#48ea7c" stroke-width="0.6"/><circle cx="185.1" cy="237.8" r="1.1" fill="#48ea7c"/><circle cx="187.0" cy="221.3" r="1.3" fill="none" stroke="#48ea7c" stroke-width="0.6"/><circle cx="157.5" cy="205.5" r="1.2" fill="none" stroke="#48ea7c" stroke-width="0.6"/><circle cx="149.0" cy="197.6" r="1.0" fill="none" stroke="#48ea7c" stroke-width="0.6"/><circle cx="131.1" cy="192.8" r="1.4" fill="none" stroke="#48ea7c" stroke-width="0.6"/><circle cx="185.6" cy="209.5" r="1.5" fill="none" stroke="#48ea7c" stroke-width="0.6"/><circle cx="163.8" cy="261.6" r="1.1" fill="none" stroke="#48ea7c" stroke-width="0.6"/><circle cx="166.9" cy="218.2" r="1.5" fill="none" stroke="#48ea7c" stroke-width="0.6"/><circle cx="153.9" cy="232.2" r="1.3" fill="none" stroke="#48ea7c" stroke-width="0.6"/><circle cx="155.8" cy="216.6" r="1.2" fill="none" stroke="#48ea7c" stroke-width="0.6"/><circle cx="122.7" cy="216.8" r="1.3" fill="none" stroke="#48ea7c" stroke-width="0.6"/><circle cx="167.4" cy="192.6" r="1.1" fill="none" stroke="#48ea7c" stroke-width="0.6"/><circle cx="173.7" cy="217.6" r="1.0" fill="none" stroke="#48ea7c" stroke-width="0.6"/><circle cx="134.8" cy="232.5" r="1.5" fill="none" stroke="#48ea7c" stroke-width="0.6"/><circle cx="162.4" cy="255.1" r="1.6" fill="none" stroke="#48ea7c" stroke-width="0.7"/><circle cx="160.7" cy="203.6" r="1.5" fill="none" stroke="#48ea7c" stroke-width="0.7"/><circle cx="146.3" cy="197.8" r="1.0" fill="none" stroke="#48ea7c" stroke-width="0.6"/><circle cx="162.6" cy="193.0" r="1.4" fill="#48ea7c"/><circle cx="159.2" cy="213.0" r="0.9" fill="#48ea7c"/><circle cx="186.0" cy="218.1" r="1.1" fill="#48ea7c"/><circle cx="169.5" cy="211.6" r="1.2" fill="none" stroke="#48ea7c" stroke-width="0.6"/><circle cx="193.5" cy="225.5" r="1.0" fill="none" stroke="#48ea7c" stroke-width="0.6"/><circle cx="188.0" cy="219.4" r="1.2" fill="none" stroke="#48ea7c" stroke-width="0.6"/><circle cx="134.4" cy="242.5" r="1.6" fill="none" stroke="#48ea7c" stroke-width="0.7"/><circle cx="130.3" cy="208.7" r="1.0" fill="#48ea7c"/><circle cx="136.7" cy="257.1" r="1.3" fill="#48ea7c"/><circle cx="155.8" cy="212.5" r="1.2" fill="none" stroke="#48ea7c" stroke-width="0.6"/><circle cx="146.5" cy="199.2" r="1.3" fill="none" stroke="#48ea7c" stroke-width="0.6"/><circle cx="115.7" cy="213.1" r="1.4" fill="none" stroke="#48ea7c" stroke-width="0.6"/><circle cx="127.3" cy="227.8" r="1.1" fill="none" stroke="#48ea7c" stroke-width="0.6"/><circle cx="152.1" cy="189.6" r="1.3" fill="none" stroke="#48ea7c" stroke-width="0.6"/><circle cx="163.8" cy="226.8" r="1.3" fill="none" stroke="#48ea7c" stroke-width="0.6"/><circle cx="157.2" cy="217.1" r="1.2" fill="none" stroke="#48ea7c" stroke-width="0.6"/><circle cx="141.5" cy="236.4" r="1.5" fill="none" stroke="#48ea7c" stroke-width="0.6"/><circle cx="170.4" cy="224.0" r="1.2" fill="none" stroke="#48ea7c" stroke-width="0.6"/><circle cx="159.9" cy="254.8" r="1.0" fill="none" stroke="#48ea7c" stroke-width="0.6"/><circle cx="187.4" cy="225.4" r="1.3" fill="none" stroke="#48ea7c" stroke-width="0.6"/><circle cx="169.6" cy="195.1" r="1.2" fill="none" stroke="#48ea7c" stroke-width="0.6"/><circle cx="156.7" cy="214.5" r="1.6" fill="#48ea7c"/><circle cx="154.0" cy="211.1" r="1.1" fill="#48ea7c"/><circle cx="150.9" cy="193.5" r="1.4" fill="none" stroke="#48ea7c" stroke-width="0.6"/><circle cx="163.1" cy="217.6" r="1.2" fill="#48ea7c"/><circle cx="161.6" cy="259.1" r="1.4" fill="none" stroke="#48ea7c" stroke-width="0.6"/><circle cx="154.7" cy="213.6" r="1.5" fill="none" stroke="#48ea7c" stroke-width="0.6"/><circle cx="137.0" cy="204.9" r="1.0" fill="none" stroke="#48ea7c" stroke-width="0.6"/><circle cx="151.9" cy="239.3" r="1.1" fill="none" stroke="#48ea7c" stroke-width="0.6"/><circle cx="151.8" cy="263.1" r="1.5" fill="none" stroke="#48ea7c" stroke-width="0.6"/><circle cx="151.5" cy="212.5" r="1.0" fill="none" stroke="#48ea7c" stroke-width="0.6"/><circle cx="163.5" cy="210.0" r="1.4" fill="none" stroke="#48ea7c" stroke-width="0.6"/><circle cx="187.5" cy="226.4" r="1.2" fill="none" stroke="#48ea7c" stroke-width="0.6"/><circle cx="123.5" cy="239.6" r="1.3" fill="none" stroke="#48ea7c" stroke-width="0.6"/><circle cx="147.5" cy="213.1" r="1.5" fill="none" stroke="#48ea7c" stroke-width="0.6"/><circle cx="156.2" cy="246.4" r="1.5" fill="none" stroke="#48ea7c" stroke-width="0.6"/><circle cx="176.7" cy="202.6" r="1.0" fill="none" stroke="#48ea7c" stroke-width="0.6"/><circle cx="132.8" cy="214.6" r="1.3" fill="none" stroke="#48ea7c" stroke-width="0.6"/><circle cx="123.8" cy="231.3" r="1.3" fill="none" stroke="#48ea7c" stroke-width="0.6"/><circle cx="165.6" cy="226.6" r="1.4" fill="#48ea7c"/><circle cx="149.7" cy="206.1" r="1.4" fill="none" stroke="#48ea7c" stroke-width="0.6"/><circle cx="147.1" cy="214.0" r="1.3" fill="none" stroke="#48ea7c" stroke-width="0.6"/><circle cx="139.4" cy="224.2" r="1.1" fill="#48ea7c"/><circle cx="156.7" cy="202.1" r="1.5" fill="none" stroke="#48ea7c" stroke-width="0.6"/><circle cx="184.9" cy="219.1" r="1.6" fill="none" stroke="#48ea7c" stroke-width="0.7"/><circle cx="150.7" cy="225.3" r="1.5" fill="#48ea7c"/><circle cx="133.0" cy="249.0" r="1.0" fill="none" stroke="#48ea7c" stroke-width="0.6"/><circle cx="158.2" cy="213.4" r="1.3" fill="none" stroke="#48ea7c" stroke-width="0.6"/><circle cx="149.0" cy="232.1" r="1.4" fill="none" stroke="#48ea7c" stroke-width="0.6"/><circle cx="138.3" cy="205.7" r="1.3" fill="none" stroke="#48ea7c" stroke-width="0.6"/><circle cx="150.9" cy="258.7" r="1.5" fill="none" stroke="#48ea7c" stroke-width="0.6"/><circle cx="136.6" cy="234.0" r="1.4" fill="#48ea7c"/><circle cx="138.6" cy="183.9" r="1.2" fill="none" stroke="#48ea7c" stroke-width="0.6"/><circle cx="138.2" cy="219.7" r="1.4" fill="none" stroke="#48ea7c" stroke-width="0.6"/><circle cx="162.0" cy="213.3" r="1.5" fill="none" stroke="#48ea7c" stroke-width="0.6"/><circle cx="173.9" cy="203.9" r="1.3" fill="none" stroke="#48ea7c" stroke-width="0.6"/><circle cx="151.2" cy="253.7" r="1.0" fill="none" stroke="#48ea7c" stroke-width="0.6"/><circle cx="159.9" cy="252.9" r="1.6" fill="none" stroke="#48ea7c" stroke-width="0.7"/><circle cx="148.1" cy="209.2" r="1.1" fill="none" stroke="#48ea7c" stroke-width="0.6"/><circle cx="146.9" cy="210.6" r="1.2" fill="none" stroke="#48ea7c" stroke-width="0.6"/><circle cx="180.0" cy="209.7" r="0.9" fill="#48ea7c"/><circle cx="139.5" cy="231.1" r="1.2" fill="none" stroke="#48ea7c" stroke-width="0.6"/><circle cx="147.7" cy="212.0" r="1.3" fill="#48ea7c"/><circle cx="137.2" cy="230.7" r="1.5" fill="none" stroke="#48ea7c" stroke-width="0.6"/><circle cx="177.9" cy="218.6" r="1.5" fill="none" stroke="#48ea7c" stroke-width="0.6"/><circle cx="192.7" cy="226.4" r="1.1" fill="none" stroke="#48ea7c" stroke-width="0.6"/><circle cx="150.3" cy="206.2" r="1.0" fill="none" stroke="#48ea7c" stroke-width="0.6"/><circle cx="131.3" cy="219.4" r="1.3" fill="none" stroke="#48ea7c" stroke-width="0.6"/><circle cx="168.6" cy="214.4" r="0.9" fill="none" stroke="#48ea7c" stroke-width="0.6"/><circle cx="140.3" cy="253.5" r="1.3" fill="none" stroke="#48ea7c" stroke-width="0.6"/><circle cx="147.5" cy="214.7" r="1.2" fill="none" stroke="#48ea7c" stroke-width="0.6"/><circle cx="125.4" cy="251.1" r="1.2" fill="none" stroke="#48ea7c" stroke-width="0.6"/><circle cx="182.1" cy="237.1" r="1.6" fill="none" stroke="#48ea7c" stroke-width="0.7"/><circle cx="145.3" cy="198.0" r="1.2" fill="none" stroke="#48ea7c" stroke-width="0.6"/><circle cx="143.9" cy="244.7" r="0.9" fill="#48ea7c"/><circle cx="124.9" cy="229.9" r="1.1" fill="none" stroke="#48ea7c" stroke-width="0.6"/><circle cx="166.0" cy="225.1" r="1.3" fill="#48ea7c"/><circle cx="154.9" cy="251.9" r="1.0" fill="none" stroke="#48ea7c" stroke-width="0.6"/><circle cx="129.4" cy="236.5" r="1.1" fill="none" stroke="#48ea7c" stroke-width="0.6"/><circle cx="153.3" cy="195.1" r="1.3" fill="none" stroke="#48ea7c" stroke-width="0.6"/><circle cx="128.9" cy="232.7" r="1.5" fill="none" stroke="#48ea7c" stroke-width="0.6"/><circle cx="137.3" cy="207.2" r="1.0" fill="none" stroke="#48ea7c" stroke-width="0.6"/><circle cx="155.0" cy="225.3" r="1.2" fill="none" stroke="#48ea7c" stroke-width="0.6"/><circle cx="166.0" cy="235.2" r="1.4" fill="none" stroke="#48ea7c" stroke-width="0.6"/><circle cx="156.5" cy="232.9" r="1.1" fill="#48ea7c"/><circle cx="192.0" cy="222.7" r="1.0" fill="none" stroke="#48ea7c" stroke-width="0.6"/><circle cx="151.9" cy="185.0" r="1.6" fill="#48ea7c"/><circle cx="150.1" cy="249.2" r="1.5" fill="none" stroke="#48ea7c" stroke-width="0.6"/><circle cx="140.2" cy="233.5" r="1.5" fill="none" stroke="#48ea7c" stroke-width="0.6"/><circle cx="147.0" cy="262.1" r="1.3" fill="none" stroke="#48ea7c" stroke-width="0.6"/><circle cx="150.6" cy="198.9" r="1.2" fill="#48ea7c"/><circle cx="180.6" cy="212.6" r="1.1" fill="#48ea7c"/><circle cx="174.4" cy="234.7" r="1.4" fill="none" stroke="#48ea7c" stroke-width="0.6"/><circle cx="128.5" cy="233.9" r="1.4" fill="none" stroke="#48ea7c" stroke-width="0.6"/><circle cx="128.9" cy="224.1" r="1.5" fill="#48ea7c"/><circle cx="134.2" cy="218.2" r="1.4" fill="none" stroke="#48ea7c" stroke-width="0.6"/><circle cx="172.5" cy="228.6" r="1.3" fill="#48ea7c"/><circle cx="138.9" cy="188.9" r="1.1" fill="none" stroke="#48ea7c" stroke-width="0.6"/><circle cx="161.0" cy="261.4" r="1.2" fill="#48ea7c"/><circle cx="144.9" cy="228.8" r="1.6" fill="none" stroke="#48ea7c" stroke-width="0.7"/><circle cx="153.0" cy="196.4" r="0.9" fill="none" stroke="#48ea7c" stroke-width="0.6"/><circle cx="156.9" cy="244.6" r="1.0" fill="none" stroke="#48ea7c" stroke-width="0.6"/><circle cx="161.2" cy="241.2" r="1.1" fill="none" stroke="#48ea7c" stroke-width="0.6"/><circle cx="155.8" cy="193.5" r="1.5" fill="#48ea7c"/><circle cx="184.1" cy="203.5" r="1.1" fill="none" stroke="#48ea7c" stroke-width="0.6"/><circle cx="170.3" cy="235.8" r="1.0" fill="none" stroke="#48ea7c" stroke-width="0.6"/><circle cx="161.0" cy="221.8" r="1.4" fill="none" stroke="#48ea7c" stroke-width="0.6"/><circle cx="166.0" cy="217.2" r="1.4" fill="none" stroke="#48ea7c" stroke-width="0.6"/><circle cx="128.3" cy="216.7" r="1.1" fill="none" stroke="#48ea7c" stroke-width="0.6"/><circle cx="174.9" cy="223.7" r="1.1" fill="none" stroke="#48ea7c" stroke-width="0.6"/><circle cx="142.8" cy="220.5" r="1.1" fill="none" stroke="#48ea7c" stroke-width="0.6"/><circle cx="180.2" cy="245.0" r="1.2" fill="none" stroke="#48ea7c" stroke-width="0.6"/><circle cx="188.6" cy="206.2" r="1.1" fill="none" stroke="#48ea7c" stroke-width="0.6"/><circle cx="188.9" cy="235.6" r="1.5" fill="#48ea7c"/><circle cx="149.0" cy="241.8" r="1.2" fill="none" stroke="#48ea7c" stroke-width="0.6"/><circle cx="129.8" cy="242.3" r="1.2" fill="none" stroke="#48ea7c" stroke-width="0.6"/><circle cx="123.8" cy="245.5" r="1.4" fill="none" stroke="#48ea7c" stroke-width="0.6"/><circle cx="159.6" cy="202.2" r="1.6" fill="#48ea7c"/><circle cx="165.9" cy="209.4" r="1.0" fill="none" stroke="#48ea7c" stroke-width="0.6"/><circle cx="146.5" cy="236.9" r="1.5" fill="none" stroke="#48ea7c" stroke-width="0.6"/><circle cx="158.3" cy="191.7" r="1.2" fill="#48ea7c"/><circle cx="151.4" cy="226.9" r="1.3" fill="none" stroke="#48ea7c" stroke-width="0.6"/><circle cx="157.8" cy="253.7" r="1.0" fill="#48ea7c"/><circle cx="130.2" cy="199.7" r="1.3" fill="none" stroke="#48ea7c" stroke-width="0.6"/><circle cx="145.7" cy="219.2" r="1.0" fill="none" stroke="#48ea7c" stroke-width="0.6"/><circle cx="155.3" cy="241.1" r="1.6" fill="none" stroke="#48ea7c" stroke-width="0.7"/><circle cx="138.9" cy="184.9" r="1.3" fill="#48ea7c"/><circle cx="122.1" cy="216.6" r="1.4" fill="none" stroke="#48ea7c" stroke-width="0.6"/><circle cx="148.9" cy="213.2" r="1.6" fill="none" stroke="#48ea7c" stroke-width="0.7"/><circle cx="138.4" cy="227.8" r="1.2" fill="none" stroke="#48ea7c" stroke-width="0.6"/><circle cx="180.0" cy="233.3" r="1.3" fill="none" stroke="#48ea7c" stroke-width="0.6"/><circle cx="160.7" cy="198.6" r="1.3" fill="#48ea7c"/><circle cx="133.9" cy="192.0" r="1.0" fill="none" stroke="#48ea7c" stroke-width="0.6"/><circle cx="173.2" cy="196.9" r="1.3" fill="none" stroke="#48ea7c" stroke-width="0.6"/><circle cx="147.4" cy="216.2" r="1.2" fill="none" stroke="#48ea7c" stroke-width="0.6"/><circle cx="160.5" cy="212.8" r="1.4" fill="none" stroke="#48ea7c" stroke-width="0.6"/><circle cx="134.4" cy="232.9" r="1.5" fill="none" stroke="#48ea7c" stroke-width="0.6"/><circle cx="179.3" cy="241.9" r="1.1" fill="none" stroke="#48ea7c" stroke-width="0.6"/><circle cx="167.4" cy="258.1" r="1.5" fill="none" stroke="#48ea7c" stroke-width="0.6"/><circle cx="131.8" cy="244.0" r="1.4" fill="none" stroke="#48ea7c" stroke-width="0.6"/><circle cx="128.0" cy="242.0" r="1.0" fill="#48ea7c"/><circle cx="143.1" cy="254.5" r="1.5" fill="none" stroke="#48ea7c" stroke-width="0.6"/><circle cx="148.1" cy="225.9" r="1.1" fill="none" stroke="#48ea7c" stroke-width="0.6"/><circle cx="147.8" cy="219.5" r="1.4" fill="none" stroke="#48ea7c" stroke-width="0.6"/><circle cx="137.5" cy="202.9" r="1.2" fill="none" stroke="#48ea7c" stroke-width="0.6"/><circle cx="180.7" cy="244.3" r="1.1" fill="none" stroke="#48ea7c" stroke-width="0.6"/><circle cx="131.2" cy="241.8" r="1.5" fill="none" stroke="#48ea7c" stroke-width="0.6"/><circle cx="173.0" cy="231.5" r="1.5" fill="none" stroke="#48ea7c" stroke-width="0.6"/><circle cx="141.8" cy="228.1" r="1.4" fill="none" stroke="#48ea7c" stroke-width="0.6"/><circle cx="158.1" cy="222.7" r="1.4" fill="none" stroke="#48ea7c" stroke-width="0.6"/><circle cx="192.9" cy="229.3" r="1.0" fill="none" stroke="#48ea7c" stroke-width="0.6"/><circle cx="125.4" cy="201.1" r="1.6" fill="none" stroke="#48ea7c" stroke-width="0.7"/><circle cx="145.9" cy="224.4" r="0.9" fill="none" stroke="#48ea7c" stroke-width="0.6"/><circle cx="171.0" cy="204.7" r="1.0" fill="none" stroke="#48ea7c" stroke-width="0.6"/><circle cx="129.6" cy="250.6" r="1.2" fill="none" stroke="#48ea7c" stroke-width="0.6"/><circle cx="151.1" cy="244.8" r="1.4" fill="none" stroke="#48ea7c" stroke-width="0.6"/><circle cx="145.9" cy="223.8" r="1.4" fill="none" stroke="#48ea7c" stroke-width="0.6"/><circle cx="143.9" cy="202.7" r="1.3" fill="none" stroke="#48ea7c" stroke-width="0.6"/><circle cx="189.9" cy="231.2" r="1.0" fill="none" stroke="#48ea7c" stroke-width="0.6"/><circle cx="168.8" cy="237.3" r="1.2" fill="#48ea7c"/><circle cx="183.7" cy="205.1" r="1.6" fill="none" stroke="#48ea7c" stroke-width="0.7"/><circle cx="187.2" cy="229.8" r="1.1" fill="#48ea7c"/><circle cx="131.6" cy="206.2" r="1.3" fill="#48ea7c"/><circle cx="186.8" cy="227.2" r="1.4" fill="none" stroke="#48ea7c" stroke-width="0.6"/><circle cx="131.0" cy="227.0" r="1.4" fill="none" stroke="#48ea7c" stroke-width="0.6"/><circle cx="171.8" cy="237.3" r="1.0" fill="none" stroke="#48ea7c" stroke-width="0.6"/><circle cx="135.2" cy="231.0" r="1.6" fill="none" stroke="#48ea7c" stroke-width="0.7"/><circle cx="138.8" cy="212.4" r="1.5" fill="none" stroke="#48ea7c" stroke-width="0.6"/><circle cx="138.0" cy="190.7" r="1.6" fill="none" stroke="#48ea7c" stroke-width="0.7"/><circle cx="135.1" cy="214.8" r="1.4" fill="none" stroke="#48ea7c" stroke-width="0.6"/><circle cx="150.0" cy="234.2" r="1.1" fill="none" stroke="#48ea7c" stroke-width="0.6"/><circle cx="145.1" cy="189.5" r="1.1" fill="none" stroke="#48ea7c" stroke-width="0.6"/><circle cx="137.3" cy="194.7" r="1.1" fill="none" stroke="#48ea7c" stroke-width="0.6"/><circle cx="129.8" cy="211.5" r="1.5" fill="none" stroke="#48ea7c" stroke-width="0.6"/></g>
<g opacity="0.6"><circle cx="141.4" cy="249.7" r="1.0" fill="#30d0a0"/><circle cx="137.6" cy="209.9" r="0.6" fill="#30d0a0"/><circle cx="165.9" cy="239.2" r="0.8" fill="#30d0a0"/><circle cx="181.0" cy="248.3" r="0.6" fill="#30d0a0"/><circle cx="139.1" cy="225.1" r="1.0" fill="#30d0a0"/><circle cx="163.9" cy="208.0" r="0.7" fill="#30d0a0"/><circle cx="163.2" cy="258.7" r="0.6" fill="#30d0a0"/><circle cx="150.1" cy="252.4" r="0.6" fill="#30d0a0"/><circle cx="160.9" cy="219.4" r="0.9" fill="#30d0a0"/><circle cx="136.5" cy="218.4" r="0.9" fill="#30d0a0"/><circle cx="169.2" cy="233.8" r="1.0" fill="#30d0a0"/><circle cx="160.3" cy="219.0" r="0.8" fill="#30d0a0"/><circle cx="180.7" cy="213.3" r="0.6" fill="#30d0a0"/><circle cx="159.1" cy="222.3" r="0.6" fill="#30d0a0"/><circle cx="133.7" cy="221.1" r="0.5" fill="#30d0a0"/><circle cx="172.8" cy="236.6" r="0.7" fill="#30d0a0"/><circle cx="137.4" cy="207.7" r="0.8" fill="#30d0a0"/><circle cx="151.3" cy="195.6" r="0.5" fill="#30d0a0"/><circle cx="143.7" cy="219.1" r="0.6" fill="#30d0a0"/><circle cx="175.8" cy="202.0" r="0.6" fill="#30d0a0"/><circle cx="145.0" cy="201.4" r="0.6" fill="#30d0a0"/><circle cx="134.9" cy="190.0" r="0.7" fill="#30d0a0"/><circle cx="175.9" cy="252.2" r="0.8" fill="#30d0a0"/><circle cx="141.3" cy="226.1" r="0.7" fill="#30d0a0"/><circle cx="131.4" cy="225.6" r="1.0" fill="#30d0a0"/><circle cx="152.4" cy="220.9" r="0.5" fill="#30d0a0"/><circle cx="167.3" cy="200.7" r="0.6" fill="#30d0a0"/><circle cx="134.3" cy="254.8" r="0.9" fill="#30d0a0"/><circle cx="167.4" cy="240.4" r="1.0" fill="#30d0a0"/><circle cx="142.8" cy="248.6" r="0.7" fill="#30d0a0"/><circle cx="171.6" cy="233.3" r="0.7" fill="#30d0a0"/><circle cx="123.5" cy="252.2" r="0.6" fill="#30d0a0"/><circle cx="154.2" cy="239.5" r="0.9" fill="#30d0a0"/><circle cx="175.0" cy="223.0" r="0.6" fill="#30d0a0"/><circle cx="133.6" cy="208.8" r="0.8" fill="#30d0a0"/><circle cx="175.2" cy="209.8" r="0.5" fill="#30d0a0"/><circle cx="126.6" cy="197.5" r="0.9" fill="#30d0a0"/><circle cx="158.7" cy="193.4" r="0.5" fill="#30d0a0"/><circle cx="126.5" cy="242.8" r="0.6" fill="#30d0a0"/><circle cx="176.6" cy="237.0" r="0.8" fill="#30d0a0"/><circle cx="136.9" cy="235.3" r="0.6" fill="#30d0a0"/><circle cx="158.1" cy="196.7" r="1.0" fill="#30d0a0"/><circle cx="135.8" cy="214.1" r="1.0" fill="#30d0a0"/><circle cx="123.2" cy="252.5" r="0.7" fill="#30d0a0"/><circle cx="129.1" cy="192.3" r="0.9" fill="#30d0a0"/><circle cx="137.2" cy="216.9" r="0.8" fill="#30d0a0"/><circle cx="154.9" cy="192.0" r="0.6" fill="#30d0a0"/><circle cx="145.0" cy="240.8" r="0.9" fill="#30d0a0"/><circle cx="161.4" cy="238.6" r="0.9" fill="#30d0a0"/><circle cx="129.3" cy="255.1" r="1.0" fill="#30d0a0"/><circle cx="164.0" cy="222.0" r="0.9" fill="#30d0a0"/><circle cx="184.5" cy="214.8" r="0.6" fill="#30d0a0"/><circle cx="134.6" cy="251.5" r="0.8" fill="#30d0a0"/><circle cx="158.8" cy="212.0" r="0.7" fill="#30d0a0"/><circle cx="146.4" cy="197.6" r="0.8" fill="#30d0a0"/><circle cx="168.0" cy="235.1" r="0.9" fill="#30d0a0"/><circle cx="168.7" cy="245.8" r="0.9" fill="#30d0a0"/><circle cx="179.2" cy="232.9" r="0.9" fill="#30d0a0"/><circle cx="128.4" cy="199.7" r="0.6" fill="#30d0a0"/><circle cx="168.7" cy="224.6" r="0.6" fill="#30d0a0"/><circle cx="153.8" cy="222.3" r="0.7" fill="#30d0a0"/><circle cx="158.1" cy="232.5" r="0.7" fill="#30d0a0"/><circle cx="176.8" cy="204.5" r="0.7" fill="#30d0a0"/><circle cx="159.2" cy="238.5" r="0.9" fill="#30d0a0"/><circle cx="172.6" cy="186.1" r="0.7" fill="#30d0a0"/><circle cx="145.9" cy="213.1" r="0.6" fill="#30d0a0"/><circle cx="151.7" cy="253.5" r="0.6" fill="#30d0a0"/><circle cx="153.8" cy="216.0" r="0.9" fill="#30d0a0"/><circle cx="154.5" cy="221.9" r="0.8" fill="#30d0a0"/><circle cx="131.8" cy="253.6" r="0.9" fill="#30d0a0"/><circle cx="167.9" cy="224.5" r="0.6" fill="#30d0a0"/><circle cx="152.0" cy="186.9" r="0.8" fill="#30d0a0"/><circle cx="177.3" cy="244.9" r="0.9" fill="#30d0a0"/><circle cx="165.4" cy="253.0" r="0.9" fill="#30d0a0"/><circle cx="131.6" cy="241.4" r="0.5" fill="#30d0a0"/><circle cx="153.6" cy="222.8" r="0.8" fill="#30d0a0"/><circle cx="167.9" cy="205.6" r="0.8" fill="#30d0a0"/><circle cx="147.4" cy="193.8" r="0.6" fill="#30d0a0"/><circle cx="161.0" cy="221.1" r="0.9" fill="#30d0a0"/><circle cx="188.5" cy="235.9" r="0.6" fill="#30d0a0"/><circle cx="152.1" cy="240.7" r="0.8" fill="#30d0a0"/><circle cx="149.4" cy="234.4" r="0.9" fill="#30d0a0"/><circle cx="157.3" cy="199.9" r="0.7" fill="#30d0a0"/><circle cx="150.2" cy="205.5" r="0.8" fill="#30d0a0"/><circle cx="165.7" cy="224.5" r="0.6" fill="#30d0a0"/><circle cx="127.0" cy="223.8" r="0.8" fill="#30d0a0"/><circle cx="145.3" cy="213.0" r="0.9" fill="#30d0a0"/><circle cx="144.4" cy="215.5" r="1.0" fill="#30d0a0"/><circle cx="181.6" cy="225.2" r="0.9" fill="#30d0a0"/><circle cx="135.6" cy="233.1" r="0.7" fill="#30d0a0"/><circle cx="179.6" cy="224.9" r="0.7" fill="#30d0a0"/><circle cx="134.5" cy="229.4" r="0.9" fill="#30d0a0"/><circle cx="158.8" cy="251.3" r="0.5" fill="#30d0a0"/><circle cx="181.3" cy="232.8" r="0.6" fill="#30d0a0"/><circle cx="151.3" cy="240.4" r="0.7" fill="#30d0a0"/><circle cx="145.6" cy="237.4" r="0.7" fill="#30d0a0"/><circle cx="171.2" cy="187.0" r="1.0" fill="#30d0a0"/><circle cx="154.1" cy="198.9" r="0.6" fill="#30d0a0"/><circle cx="175.3" cy="244.4" r="0.7" fill="#30d0a0"/><circle cx="167.4" cy="222.0" r="0.8" fill="#30d0a0"/><circle cx="161.0" cy="240.2" r="0.6" fill="#30d0a0"/><circle cx="149.5" cy="230.7" r="0.9" fill="#30d0a0"/><circle cx="168.3" cy="246.6" r="0.6" fill="#30d0a0"/><circle cx="158.5" cy="199.3" r="0.6" fill="#30d0a0"/><circle cx="177.9" cy="254.4" r="0.7" fill="#30d0a0"/><circle cx="164.2" cy="236.5" r="0.7" fill="#30d0a0"/><circle cx="163.9" cy="196.6" r="0.9" fill="#30d0a0"/><circle cx="140.4" cy="242.6" r="0.8" fill="#30d0a0"/><circle cx="175.0" cy="230.4" r="0.8" fill="#30d0a0"/><circle cx="134.6" cy="226.5" r="0.9" fill="#30d0a0"/><circle cx="144.5" cy="206.9" r="0.7" fill="#30d0a0"/><circle cx="149.8" cy="223.6" r="0.8" fill="#30d0a0"/><circle cx="141.9" cy="213.7" r="0.8" fill="#30d0a0"/><circle cx="134.8" cy="205.7" r="0.7" fill="#30d0a0"/><circle cx="157.0" cy="210.7" r="0.9" fill="#30d0a0"/><circle cx="154.8" cy="229.4" r="0.8" fill="#30d0a0"/><circle cx="136.5" cy="193.4" r="0.6" fill="#30d0a0"/><circle cx="156.7" cy="252.1" r="0.6" fill="#30d0a0"/><circle cx="172.0" cy="246.5" r="0.7" fill="#30d0a0"/><circle cx="179.8" cy="213.7" r="0.7" fill="#30d0a0"/></g>

</g></g>
<rect x="190.6" y="266.6" width="7.4" height="1.4" fill="#ddd"/>
</g>
<clipPath id="ce1"><rect x="15.3" y="332.2" width="93.8" height="87.5"/></clipPath>
<clipPath id="be1"><path d="M11.7,331.1 L36.2,331.1 L60.8,330.5 L84.4,331.4 L87.0,334.1 L90.1,337.8 L92.2,341.3 L93.9,343.5 L95.8,347.0 L97.5,349.5 L99.6,351.7 L101.5,355.3 L102.9,357.6 L104.7,361.2 L105.6,364.7 L106.8,367.7 L106.7,369.5 L107.2,371.6 L108.1,372.5 L106.9,374.3 L107.6,376.3 L107.0,377.8 L105.4,380.4 L103.8,383.2 L102.7,386.1 L101.1,388.9 L99.5,391.9 L97.5,393.7 L96.0,397.1 L94.3,399.1 L92.3,401.2 L90.3,404.1 L87.5,406.0 L86.0,409.6 L83.0,411.5 L81.2,412.8 L79.0,415.6 L77.9,416.5 L75.8,418.2 L74.2,420.3 L64.0,421.1 L53.1,421.1 L42.5,420.0 L40.7,418.6 L38.1,417.7 L36.5,416.0 L33.4,414.7 L31.2,412.7 L29.4,409.9 L26.4,407.2 L24.1,404.4 L21.6,401.6 L19.9,400.0 L17.1,398.8 L14.7,396.8 L14.6,396.7 L13.1,395.7 L11.9,396.1 L11.4,374.5 L12.2,352.1Z"/></clipPath>
<filter id="ne1" x="15.3" y="332.2" width="93.8" height="87.5" filterUnits="userSpaceOnUse"><feTurbulence type="fractalNoise" baseFrequency="0.55" numOctaves="2" seed="33"/><feColorMatrix type="matrix" values="0 0 0 0 0.00  0 0 0 0 0.00  0 0 0 0 0.03  2.8 0 0 0 -1.25"/></filter>
<g clip-path="url(#ce1)">
<rect x="15.3" y="332.2" width="93.8" height="87.5" fill="#000"/>
<g filter="url(#soft)">

<path d="M11.7,331.1 L36.2,331.1 L60.8,330.5 L84.4,331.4 L87.0,334.1 L90.1,337.8 L92.2,341.3 L93.9,343.5 L95.8,347.0 L97.5,349.5 L99.6,351.7 L101.5,355.3 L102.9,357.6 L104.7,361.2 L105.6,364.7 L106.8,367.7 L106.7,369.5 L107.2,371.6 L108.1,372.5 L106.9,374.3 L107.6,376.3 L107.0,377.8 L105.4,380.4 L103.8,383.2 L102.7,386.1 L101.1,388.9 L99.5,391.9 L97.5,393.7 L96.0,397.1 L94.3,399.1 L92.3,401.2 L90.3,404.1 L87.5,406.0 L86.0,409.6 L83.0,411.5 L81.2,412.8 L79.0,415.6 L77.9,416.5 L75.8,418.2 L74.2,420.3 L64.0,421.1 L53.1,421.1 L42.5,420.0 L40.7,418.6 L38.1,417.7 L36.5,416.0 L33.4,414.7 L31.2,412.7 L29.4,409.9 L26.4,407.2 L24.1,404.4 L21.6,401.6 L19.9,400.0 L17.1,398.8 L14.7,396.8 L14.6,396.7 L13.1,395.7 L11.9,396.1 L11.4,374.5 L12.2,352.1Z" fill="#0a1680"/>
<g clip-path="url(#be1)">
<path d="M11.7,331.1 L36.2,331.1 L60.8,330.5 L84.4,331.4 L87.0,334.1 L90.1,337.8 L92.2,341.3 L93.9,343.5 L95.8,347.0 L97.5,349.5 L99.6,351.7 L101.5,355.3 L102.9,357.6 L104.7,361.2 L105.6,364.7 L106.8,367.7 L106.7,369.5 L107.2,371.6 L108.1,372.5 L106.9,374.3 L107.6,376.3 L107.0,377.8 L105.4,380.4 L103.8,383.2 L102.7,386.1 L101.1,388.9 L99.5,391.9 L97.5,393.7 L96.0,397.1 L94.3,399.1 L92.3,401.2 L90.3,404.1 L87.5,406.0 L86.0,409.6 L83.0,411.5 L81.2,412.8 L79.0,415.6 L77.9,416.5 L75.8,418.2 L74.2,420.3 L64.0,421.1 L53.1,421.1 L42.5,420.0 L40.7,418.6 L38.1,417.7 L36.5,416.0 L33.4,414.7 L31.2,412.7 L29.4,409.9 L26.4,407.2 L24.1,404.4 L21.6,401.6 L19.9,400.0 L17.1,398.8 L14.7,396.8 L14.6,396.7 L13.1,395.7 L11.9,396.1 L11.4,374.5 L12.2,352.1Z" fill="none" stroke="#2248ff" stroke-width="12" stroke-opacity="0.85" filter="url(#rimblur)"/>
<rect x="15.3" y="332.2" width="93.8" height="87.5" filter="url(#ne1)"/>
<g opacity="1.0"><circle cx="104.9" cy="378.4" r="1.8" fill="#34e860"/><circle cx="84.8" cy="343.0" r="1.2" fill="none" stroke="#34e860" stroke-width="0.6"/><circle cx="84.6" cy="381.2" r="1.1" fill="none" stroke="#34e860" stroke-width="0.6"/><circle cx="44.7" cy="337.2" r="1.2" fill="none" stroke="#34e860" stroke-width="0.6"/><circle cx="104.5" cy="374.4" r="1.4" fill="#34e860"/><circle cx="81.3" cy="386.6" r="1.6" fill="#34e860"/><circle cx="73.3" cy="395.3" r="1.1" fill="none" stroke="#34e860" stroke-width="0.6"/><circle cx="78.4" cy="332.8" r="1.4" fill="#34e860"/><circle cx="90.8" cy="344.3" r="1.0" fill="#34e860"/><circle cx="88.7" cy="352.2" r="1.3" fill="#34e860"/><circle cx="85.3" cy="405.3" r="1.0" fill="#34e860"/><circle cx="34.1" cy="343.4" r="1.4" fill="none" stroke="#34e860" stroke-width="0.7"/><circle cx="89.5" cy="379.9" r="1.6" fill="none" stroke="#34e860" stroke-width="0.8"/><circle cx="17.5" cy="339.1" r="1.3" fill="none" stroke="#34e860" stroke-width="0.7"/><circle cx="43.7" cy="405.1" r="1.4" fill="none" stroke="#34e860" stroke-width="0.7"/><circle cx="75.1" cy="415.9" r="1.7" fill="none" stroke="#34e860" stroke-width="0.9"/><circle cx="88.5" cy="366.0" r="1.1" fill="#34e860"/><circle cx="55.2" cy="403.3" r="1.7" fill="#34e860"/><circle cx="86.6" cy="346.0" r="1.0" fill="none" stroke="#34e860" stroke-width="0.6"/><circle cx="100.4" cy="382.0" r="1.8" fill="#34e860"/><circle cx="98.7" cy="378.7" r="1.5" fill="#34e860"/><circle cx="101.9" cy="362.9" r="1.0" fill="none" stroke="#34e860" stroke-width="0.6"/><circle cx="81.8" cy="337.7" r="1.3" fill="#34e860"/><circle cx="81.6" cy="343.7" r="1.7" fill="none" stroke="#34e860" stroke-width="0.9"/><circle cx="73.3" cy="357.5" r="1.5" fill="none" stroke="#34e860" stroke-width="0.7"/><circle cx="74.6" cy="398.7" r="1.6" fill="none" stroke="#34e860" stroke-width="0.8"/><circle cx="77.0" cy="339.5" r="1.7" fill="#34e860"/><circle cx="86.3" cy="380.3" r="1.6" fill="#34e860"/><circle cx="102.2" cy="386.5" r="1.7" fill="none" stroke="#34e860" stroke-width="0.8"/><circle cx="89.7" cy="364.2" r="1.8" fill="#34e860"/><circle cx="98.1" cy="363.6" r="1.7" fill="#34e860"/><circle cx="66.5" cy="405.0" r="1.7" fill="none" stroke="#34e860" stroke-width="0.9"/><circle cx="50.3" cy="377.8" r="1.2" fill="none" stroke="#34e860" stroke-width="0.6"/><circle cx="76.2" cy="349.4" r="1.9" fill="#34e860"/><circle cx="91.1" cy="381.1" r="1.1" fill="none" stroke="#34e860" stroke-width="0.6"/><circle cx="97.5" cy="351.7" r="1.3" fill="none" stroke="#34e860" stroke-width="0.7"/><circle cx="66.1" cy="334.5" r="1.2" fill="none" stroke="#34e860" stroke-width="0.6"/><circle cx="96.3" cy="362.0" r="1.6" fill="none" stroke="#34e860" stroke-width="0.8"/><circle cx="78.8" cy="339.5" r="1.1" fill="#34e860"/><circle cx="67.1" cy="404.1" r="1.7" fill="#34e860"/><circle cx="69.4" cy="351.9" r="1.8" fill="#34e860"/><circle cx="75.2" cy="415.5" r="1.4" fill="none" stroke="#34e860" stroke-width="0.7"/><circle cx="15.9" cy="332.8" r="1.8" fill="#34e860"/><circle cx="44.9" cy="416.3" r="1.4" fill="#34e860"/><circle cx="80.3" cy="409.9" r="1.5" fill="#34e860"/><circle cx="97.2" cy="374.1" r="1.7" fill="#34e860"/><circle cx="84.3" cy="339.2" r="1.7" fill="#34e860"/><circle cx="95.5" cy="378.4" r="1.8" fill="#34e860"/><circle cx="78.8" cy="411.1" r="1.9" fill="#34e860"/><circle cx="75.8" cy="334.4" r="1.3" fill="none" stroke="#34e860" stroke-width="0.7"/><circle cx="93.0" cy="365.1" r="1.3" fill="none" stroke="#34e860" stroke-width="0.6"/><circle cx="25.0" cy="340.3" r="1.3" fill="#34e860"/><circle cx="88.9" cy="384.2" r="1.9" fill="#34e860"/><circle cx="73.5" cy="398.7" r="1.7" fill="none" stroke="#34e860" stroke-width="0.8"/><circle cx="87.7" cy="368.3" r="1.9" fill="none" stroke="#34e860" stroke-width="0.9"/><circle cx="70.3" cy="405.1" r="1.3" fill="none" stroke="#34e860" stroke-width="0.6"/><circle cx="92.0" cy="364.6" r="1.7" fill="#34e860"/><circle cx="98.2" cy="365.6" r="1.8" fill="none" stroke="#34e860" stroke-width="0.9"/><circle cx="75.9" cy="333.7" r="1.4" fill="none" stroke="#34e860" stroke-width="0.7"/><circle cx="92.0" cy="357.4" r="1.1" fill="#34e860"/><circle cx="78.4" cy="406.9" r="1.9" fill="none" stroke="#34e860" stroke-width="0.9"/><circle cx="78.0" cy="404.3" r="1.7" fill="#34e860"/><circle cx="84.9" cy="335.2" r="1.8" fill="#34e860"/><circle cx="80.5" cy="397.1" r="1.7" fill="none" stroke="#34e860" stroke-width="0.8"/><circle cx="91.9" cy="361.3" r="1.8" fill="none" stroke="#34e860" stroke-width="0.9"/><circle cx="65.5" cy="341.0" r="1.4" fill="#34e860"/><circle cx="72.2" cy="341.7" r="1.4" fill="none" stroke="#34e860" stroke-width="0.7"/><circle cx="35.6" cy="379.9" r="1.3" fill="#34e860"/><circle cx="75.7" cy="334.6" r="1.2" fill="none" stroke="#34e860" stroke-width="0.6"/><circle cx="75.5" cy="410.7" r="1.3" fill="#34e860"/><circle cx="103.9" cy="361.7" r="1.6" fill="#34e860"/><circle cx="89.4" cy="379.1" r="1.6" fill="none" stroke="#34e860" stroke-width="0.8"/><circle cx="17.7" cy="332.4" r="1.3" fill="#34e860"/><circle cx="90.6" cy="381.5" r="1.8" fill="#34e860"/><circle cx="70.6" cy="333.9" r="1.3" fill="none" stroke="#34e860" stroke-width="0.7"/><circle cx="82.3" cy="352.2" r="1.8" fill="#34e860"/><circle cx="59.5" cy="409.7" r="1.8" fill="none" stroke="#34e860" stroke-width="0.9"/><circle cx="88.3" cy="381.1" r="1.6" fill="none" stroke="#34e860" stroke-width="0.8"/><circle cx="58.9" cy="337.4" r="1.2" fill="none" stroke="#34e860" stroke-width="0.6"/><circle cx="82.5" cy="345.6" r="1.3" fill="#34e860"/><circle cx="36.1" cy="344.0" r="1.2" fill="#34e860"/><circle cx="73.2" cy="414.4" r="1.1" fill="none" stroke="#34e860" stroke-width="0.6"/><circle cx="33.5" cy="338.3" r="1.5" fill="#34e860"/><circle cx="87.8" cy="348.0" r="1.6" fill="none" stroke="#34e860" stroke-width="0.8"/><circle cx="95.3" cy="391.5" r="1.3" fill="none" stroke="#34e860" stroke-width="0.7"/><circle cx="89.2" cy="356.2" r="1.2" fill="#34e860"/><circle cx="78.1" cy="333.5" r="1.2" fill="#34e860"/><circle cx="92.3" cy="352.4" r="1.2" fill="none" stroke="#34e860" stroke-width="0.6"/><circle cx="94.1" cy="357.0" r="1.0" fill="none" stroke="#34e860" stroke-width="0.6"/><circle cx="93.3" cy="389.6" r="1.4" fill="#34e860"/><circle cx="55.7" cy="414.1" r="1.7" fill="none" stroke="#34e860" stroke-width="0.8"/><circle cx="23.6" cy="336.6" r="1.7" fill="#34e860"/><circle cx="75.2" cy="340.3" r="1.1" fill="#34e860"/><circle cx="60.1" cy="334.3" r="1.8" fill="none" stroke="#34e860" stroke-width="0.9"/><circle cx="82.2" cy="352.2" r="1.5" fill="#34e860"/><circle cx="77.4" cy="401.8" r="1.4" fill="none" stroke="#34e860" stroke-width="0.7"/><circle cx="74.4" cy="399.3" r="1.9" fill="none" stroke="#34e860" stroke-width="0.9"/><circle cx="94.7" cy="371.1" r="1.5" fill="#34e860"/><circle cx="80.6" cy="408.5" r="1.4" fill="none" stroke="#34e860" stroke-width="0.7"/><circle cx="84.3" cy="348.8" r="1.6" fill="none" stroke="#34e860" stroke-width="0.8"/><circle cx="83.7" cy="362.9" r="1.2" fill="#34e860"/><circle cx="69.1" cy="413.5" r="1.6" fill="none" stroke="#34e860" stroke-width="0.8"/><circle cx="73.4" cy="346.4" r="1.7" fill="none" stroke="#34e860" stroke-width="0.8"/><circle cx="72.8" cy="333.5" r="1.1" fill="none" stroke="#34e860" stroke-width="0.6"/><circle cx="85.0" cy="370.1" r="1.1" fill="none" stroke="#34e860" stroke-width="0.6"/><circle cx="76.6" cy="335.1" r="1.4" fill="#34e860"/><circle cx="102.9" cy="373.4" r="1.4" fill="none" stroke="#34e860" stroke-width="0.7"/><circle cx="71.5" cy="413.3" r="1.4" fill="#34e860"/><circle cx="82.6" cy="361.7" r="1.8" fill="none" stroke="#34e860" stroke-width="0.9"/><circle cx="45.0" cy="332.7" r="1.7" fill="#34e860"/><circle cx="60.5" cy="346.5" r="1.1" fill="none" stroke="#34e860" stroke-width="0.6"/><circle cx="73.9" cy="404.8" r="1.6" fill="none" stroke="#34e860" stroke-width="0.8"/><circle cx="64.1" cy="405.2" r="1.1" fill="#34e860"/><circle cx="88.2" cy="360.0" r="1.3" fill="none" stroke="#34e860" stroke-width="0.7"/><circle cx="90.4" cy="378.1" r="1.6" fill="#34e860"/><circle cx="60.5" cy="407.1" r="1.5" fill="none" stroke="#34e860" stroke-width="0.7"/><circle cx="82.5" cy="348.8" r="1.1" fill="none" stroke="#34e860" stroke-width="0.6"/><circle cx="79.3" cy="353.3" r="1.6" fill="none" stroke="#34e860" stroke-width="0.8"/><circle cx="40.4" cy="379.0" r="1.1" fill="none" stroke="#34e860" stroke-width="0.6"/><circle cx="91.1" cy="371.7" r="1.8" fill="none" stroke="#34e860" stroke-width="0.9"/><circle cx="45.3" cy="336.0" r="1.3" fill="#34e860"/><circle cx="68.6" cy="415.9" r="1.7" fill="#34e860"/><circle cx="71.0" cy="406.6" r="1.1" fill="#34e860"/><circle cx="31.6" cy="341.1" r="1.8" fill="#34e860"/><circle cx="96.0" cy="365.8" r="1.5" fill="none" stroke="#34e860" stroke-width="0.7"/><circle cx="99.4" cy="381.8" r="1.6" fill="#34e860"/><circle cx="58.8" cy="418.8" r="1.0" fill="#34e860"/><circle cx="99.5" cy="355.3" r="1.2" fill="none" stroke="#34e860" stroke-width="0.6"/><circle cx="63.9" cy="343.8" r="1.8" fill="#34e860"/><circle cx="69.0" cy="332.8" r="1.2" fill="none" stroke="#34e860" stroke-width="0.6"/><circle cx="57.6" cy="400.3" r="1.7" fill="#34e860"/><circle cx="48.0" cy="342.6" r="1.2" fill="#34e860"/><circle cx="95.1" cy="387.3" r="1.2" fill="none" stroke="#34e860" stroke-width="0.6"/><circle cx="90.3" cy="398.3" r="1.5" fill="#34e860"/><circle cx="24.3" cy="335.2" r="1.4" fill="none" stroke="#34e860" stroke-width="0.7"/><circle cx="33.8" cy="337.1" r="1.5" fill="none" stroke="#34e860" stroke-width="0.8"/><circle cx="81.7" cy="399.5" r="1.8" fill="none" stroke="#34e860" stroke-width="0.9"/><circle cx="86.5" cy="370.3" r="1.3" fill="none" stroke="#34e860" stroke-width="0.7"/><circle cx="88.7" cy="357.3" r="1.4" fill="none" stroke="#34e860" stroke-width="0.7"/><circle cx="61.6" cy="411.0" r="1.1" fill="#34e860"/><circle cx="104.7" cy="378.9" r="1.4" fill="none" stroke="#34e860" stroke-width="0.7"/><circle cx="98.2" cy="378.8" r="1.1" fill="none" stroke="#34e860" stroke-width="0.6"/><circle cx="76.7" cy="356.3" r="1.5" fill="none" stroke="#34e860" stroke-width="0.8"/><circle cx="35.3" cy="415.4" r="1.2" fill="none" stroke="#34e860" stroke-width="0.6"/><circle cx="60.1" cy="411.4" r="1.4" fill="none" stroke="#34e860" stroke-width="0.7"/><circle cx="77.0" cy="397.9" r="1.8" fill="none" stroke="#34e860" stroke-width="0.9"/><circle cx="63.2" cy="406.4" r="1.2" fill="none" stroke="#34e860" stroke-width="0.6"/><circle cx="57.1" cy="342.1" r="1.3" fill="#34e860"/><circle cx="74.4" cy="336.7" r="1.7" fill="#34e860"/><circle cx="71.1" cy="347.5" r="1.7" fill="none" stroke="#34e860" stroke-width="0.9"/></g>
<g opacity="0.7"><circle cx="55.3" cy="339.2" r="1.1" fill="#2ad090"/><circle cx="52.5" cy="340.6" r="0.9" fill="none" stroke="#2ad090" stroke-width="0.6"/><circle cx="75.9" cy="341.8" r="0.9" fill="#2ad090"/><circle cx="87.2" cy="359.9" r="0.7" fill="#2ad090"/><circle cx="99.0" cy="386.9" r="0.9" fill="none" stroke="#2ad090" stroke-width="0.6"/><circle cx="85.2" cy="345.7" r="0.8" fill="none" stroke="#2ad090" stroke-width="0.6"/><circle cx="95.0" cy="396.3" r="0.9" fill="none" stroke="#2ad090" stroke-width="0.6"/><circle cx="94.0" cy="358.5" r="1.1" fill="none" stroke="#2ad090" stroke-width="0.6"/><circle cx="75.9" cy="334.5" r="1.0" fill="#2ad090"/><circle cx="99.5" cy="373.5" r="0.9" fill="#2ad090"/><circle cx="92.0" cy="376.8" r="1.1" fill="none" stroke="#2ad090" stroke-width="0.6"/><circle cx="72.0" cy="333.8" r="0.8" fill="#2ad090"/><circle cx="43.7" cy="332.9" r="0.9" fill="#2ad090"/><circle cx="57.6" cy="337.4" r="1.2" fill="#2ad090"/><circle cx="90.9" cy="385.1" r="0.9" fill="#2ad090"/><circle cx="69.5" cy="408.8" r="1.1" fill="none" stroke="#2ad090" stroke-width="0.6"/><circle cx="105.6" cy="370.8" r="1.1" fill="#2ad090"/><circle cx="57.4" cy="360.2" r="0.7" fill="none" stroke="#2ad090" stroke-width="0.6"/><circle cx="90.7" cy="348.2" r="0.7" fill="#2ad090"/><circle cx="93.8" cy="384.2" r="0.8" fill="#2ad090"/><circle cx="89.9" cy="358.2" r="0.8" fill="none" stroke="#2ad090" stroke-width="0.6"/><circle cx="40.8" cy="414.2" r="0.9" fill="none" stroke="#2ad090" stroke-width="0.6"/><circle cx="106.4" cy="376.7" r="1.0" fill="#2ad090"/><circle cx="101.7" cy="383.7" r="1.0" fill="#2ad090"/><circle cx="95.3" cy="349.0" r="1.0" fill="#2ad090"/><circle cx="90.3" cy="382.2" r="0.9" fill="none" stroke="#2ad090" stroke-width="0.6"/><circle cx="90.7" cy="391.0" r="0.8" fill="#2ad090"/><circle cx="66.1" cy="398.9" r="1.2" fill="#2ad090"/><circle cx="92.5" cy="345.1" r="1.1" fill="none" stroke="#2ad090" stroke-width="0.6"/><circle cx="99.6" cy="360.7" r="1.1" fill="#2ad090"/><circle cx="90.9" cy="377.5" r="0.9" fill="#2ad090"/><circle cx="85.4" cy="333.4" r="1.2" fill="#2ad090"/><circle cx="83.3" cy="348.0" r="0.7" fill="none" stroke="#2ad090" stroke-width="0.6"/><circle cx="83.2" cy="356.0" r="1.0" fill="#2ad090"/><circle cx="89.2" cy="400.2" r="0.8" fill="none" stroke="#2ad090" stroke-width="0.6"/><circle cx="88.9" cy="370.3" r="1.0" fill="#2ad090"/><circle cx="36.5" cy="408.9" r="0.9" fill="#2ad090"/><circle cx="100.8" cy="368.9" r="0.8" fill="none" stroke="#2ad090" stroke-width="0.6"/><circle cx="94.6" cy="390.5" r="1.0" fill="#2ad090"/><circle cx="87.6" cy="400.0" r="0.8" fill="none" stroke="#2ad090" stroke-width="0.6"/><circle cx="93.4" cy="351.8" r="1.1" fill="none" stroke="#2ad090" stroke-width="0.6"/><circle cx="76.5" cy="392.9" r="1.1" fill="none" stroke="#2ad090" stroke-width="0.6"/><circle cx="65.1" cy="338.3" r="0.7" fill="none" stroke="#2ad090" stroke-width="0.6"/><circle cx="23.8" cy="338.2" r="1.2" fill="none" stroke="#2ad090" stroke-width="0.6"/><circle cx="62.3" cy="415.2" r="1.0" fill="none" stroke="#2ad090" stroke-width="0.6"/><circle cx="99.5" cy="366.7" r="1.1" fill="#2ad090"/><circle cx="38.9" cy="409.1" r="1.1" fill="#2ad090"/><circle cx="101.7" cy="384.4" r="1.1" fill="none" stroke="#2ad090" stroke-width="0.6"/><circle cx="76.4" cy="333.4" r="0.9" fill="none" stroke="#2ad090" stroke-width="0.6"/><circle cx="88.4" cy="366.5" r="0.8" fill="#2ad090"/></g>
<circle cx="31.6" cy="378.7" r="2.11" fill="#34e860"/><circle cx="40.1" cy="383.5" r="2.2" fill="none" stroke="#34e860" stroke-width="1.1"/><circle cx="48" cy="384" r="2.2" fill="none" stroke="#34e860" stroke-width="1.1"/><circle cx="40.6" cy="389.3" r="2.02" fill="#34e860"/><circle cx="48.6" cy="389.9" r="2.02" fill="#34e860"/><circle cx="44.8" cy="396.8" r="1.94" fill="#34e860"/><circle cx="43.8" cy="376.6" r="1.58" fill="#34e860"/><circle cx="49.6" cy="378.2" r="1.5" fill="#34e860"/><circle cx="52.3" cy="410.6" r="1.58" fill="#34e860"/><circle cx="34.4" cy="368.4" r="1.76" fill="#34e860"/><circle cx="32.8" cy="372.3" r="1.41" fill="#34e860"/><circle cx="45.7" cy="362.7" r="1.94" fill="none" stroke="#34e860" stroke-width="1.1"/><circle cx="45.7" cy="345.8" r="1.23" fill="#34e860"/><circle cx="16.4" cy="337.3" r="1.58" fill="#34e860"/><circle cx="24.3" cy="334.5" r="1.58" fill="#34e860"/><circle cx="28.2" cy="340.2" r="1.85" fill="#34e860"/><circle cx="22" cy="343.5" r="1.58" fill="#34e860"/><circle cx="17.5" cy="345.8" r="1.5" fill="#34e860"/><circle cx="29.9" cy="336.2" r="1.32" fill="#34e860"/><circle cx="39.5" cy="337.9" r="2.02" fill="none" stroke="#34e860" stroke-width="1.1"/><circle cx="50.2" cy="337.9" r="1.67" fill="#34e860"/><circle cx="55.3" cy="336.2" r="1.58" fill="none" stroke="#34e860" stroke-width="1.1"/><circle cx="54.8" cy="341.9" r="1.76" fill="#34e860"/><circle cx="58.7" cy="346.4" r="1.85" fill="none" stroke="#34e860" stroke-width="1.1"/><circle cx="59.3" cy="335.1" r="1.41" fill="#34e860"/><circle cx="35" cy="333.5" r="1.32" fill="#34e860"/><circle cx="45" cy="334" r="1.41" fill="#34e860"/><circle cx="66" cy="334" r="1.58" fill="#34e860"/><circle cx="70" cy="341" r="1.94" fill="#34e860"/><circle cx="64" cy="352" r="1.76" fill="#34e860"/><circle cx="72" cy="350" r="1.58" fill="none" stroke="#34e860" stroke-width="1.1"/><circle cx="38" cy="352" r="1.14" fill="#34e860"/><circle cx="60" cy="372" r="2.11" fill="#34e860"/>
</g></g>
<rect x="99.1" y="416.8" width="7.8" height="1.4" fill="#ddd"/>
</g>
<clipPath id="ce2"><rect x="111" y="332.2" width="93.9" height="87.5"/></clipPath>
<clipPath id="be2"><path d="M110.2,344.5 L112.5,343.1 L113.9,342.1 L117.5,341.3 L119.3,338.9 L121.1,337.5 L122.6,335.8 L124.1,335.4 L126.7,333.4 L128.0,330.4 L143.2,331.2 L160.0,331.6 L176.3,330.3 L178.0,333.1 L179.9,334.1 L182.1,335.8 L185.8,339.7 L188.0,341.2 L191.5,344.2 L194.0,347.3 L195.8,349.0 L198.5,351.6 L199.2,353.5 L201.8,355.2 L201.9,358.4 L203.4,359.7 L204.8,360.8 L206.9,362.0 L205.8,374.8 L206.2,387.8 L205.7,401.5 L204.6,401.9 L204.5,401.8 L201.9,402.8 L201.7,404.6 L199.3,405.1 L197.7,406.4 L195.3,407.6 L194.7,408.8 L192.2,409.5 L188.8,410.1 L188.3,412.8 L185.1,414.9 L182.7,415.4 L179.2,415.0 L176.6,415.6 L170.9,417.5 L165.3,416.1 L159.2,416.7 L157.6,416.4 L153.8,415.2 L152.2,415.1 L148.6,413.3 L146.2,412.4 L145.1,411.3 L141.1,411.7 L138.6,412.5 L135.5,411.5 L134.5,411.4 L132.7,411.7 L129.2,411.7 L126.7,410.7 L124.9,410.5 L123.8,408.7 L120.2,406.5 L118.4,404.6 L116.2,404.0 L113.8,401.8 L113.0,402.0 L110.9,400.9 L111.0,382.7 L111.0,364.3Z"/></clipPath>
<filter id="ne2" x="111" y="332.2" width="93.9" height="87.5" filterUnits="userSpaceOnUse"><feTurbulence type="fractalNoise" baseFrequency="0.6" numOctaves="2" seed="44"/><feColorMatrix type="matrix" values="0 0 0 0 0.00  0 0 0 0 0.02  0 0 0 0 0.16  2.8 0 0 0 -1.3"/></filter>
<g clip-path="url(#ce2)">
<rect x="111" y="332.2" width="93.9" height="87.5" fill="#031a06"/>
<g filter="url(#soft)">

<path d="M110.2,344.5 L112.5,343.1 L113.9,342.1 L117.5,341.3 L119.3,338.9 L121.1,337.5 L122.6,335.8 L124.1,335.4 L126.7,333.4 L128.0,330.4 L143.2,331.2 L160.0,331.6 L176.3,330.3 L178.0,333.1 L179.9,334.1 L182.1,335.8 L185.8,339.7 L188.0,341.2 L191.5,344.2 L194.0,347.3 L195.8,349.0 L198.5,351.6 L199.2,353.5 L201.8,355.2 L201.9,358.4 L203.4,359.7 L204.8,360.8 L206.9,362.0 L205.8,374.8 L206.2,387.8 L205.7,401.5 L204.6,401.9 L204.5,401.8 L201.9,402.8 L201.7,404.6 L199.3,405.1 L197.7,406.4 L195.3,407.6 L194.7,408.8 L192.2,409.5 L188.8,410.1 L188.3,412.8 L185.1,414.9 L182.7,415.4 L179.2,415.0 L176.6,415.6 L170.9,417.5 L165.3,416.1 L159.2,416.7 L157.6,416.4 L153.8,415.2 L152.2,415.1 L148.6,413.3 L146.2,412.4 L145.1,411.3 L141.1,411.7 L138.6,412.5 L135.5,411.5 L134.5,411.4 L132.7,411.7 L129.2,411.7 L126.7,410.7 L124.9,410.5 L123.8,408.7 L120.2,406.5 L118.4,404.6 L116.2,404.0 L113.8,401.8 L113.0,402.0 L110.9,400.9 L111.0,382.7 L111.0,364.3Z" fill="#0e2aa4"/>
<g clip-path="url(#be2)">
<path d="M110.2,344.5 L112.5,343.1 L113.9,342.1 L117.5,341.3 L119.3,338.9 L121.1,337.5 L122.6,335.8 L124.1,335.4 L126.7,333.4 L128.0,330.4 L143.2,331.2 L160.0,331.6 L176.3,330.3 L178.0,333.1 L179.9,334.1 L182.1,335.8 L185.8,339.7 L188.0,341.2 L191.5,344.2 L194.0,347.3 L195.8,349.0 L198.5,351.6 L199.2,353.5 L201.8,355.2 L201.9,358.4 L203.4,359.7 L204.8,360.8 L206.9,362.0 L205.8,374.8 L206.2,387.8 L205.7,401.5 L204.6,401.9 L204.5,401.8 L201.9,402.8 L201.7,404.6 L199.3,405.1 L197.7,406.4 L195.3,407.6 L194.7,408.8 L192.2,409.5 L188.8,410.1 L188.3,412.8 L185.1,414.9 L182.7,415.4 L179.2,415.0 L176.6,415.6 L170.9,417.5 L165.3,416.1 L159.2,416.7 L157.6,416.4 L153.8,415.2 L152.2,415.1 L148.6,413.3 L146.2,412.4 L145.1,411.3 L141.1,411.7 L138.6,412.5 L135.5,411.5 L134.5,411.4 L132.7,411.7 L129.2,411.7 L126.7,410.7 L124.9,410.5 L123.8,408.7 L120.2,406.5 L118.4,404.6 L116.2,404.0 L113.8,401.8 L113.0,402.0 L110.9,400.9 L111.0,382.7 L111.0,364.3Z" fill="none" stroke="#2858ff" stroke-width="10" stroke-opacity="0.9" filter="url(#rimblur)"/>
<ellipse cx="150" cy="380" rx="30" ry="22" fill="#20a0a0" fill-opacity="0.2" filter="url(#hazeblur)"/>
<rect x="111" y="332.2" width="93.9" height="87.5" filter="url(#ne2)"/>
<g opacity="0.9"><circle cx="127.6" cy="351.4" r="1.0" fill="none" stroke="#3ee070" stroke-width="0.6"/><circle cx="175.9" cy="360.0" r="1.5" fill="none" stroke="#3ee070" stroke-width="0.7"/><circle cx="121.5" cy="338.2" r="1.6" fill="none" stroke="#3ee070" stroke-width="0.7"/><circle cx="169.7" cy="414.9" r="1.2" fill="none" stroke="#3ee070" stroke-width="0.6"/><circle cx="135.3" cy="353.3" r="1.4" fill="#3ee070"/><circle cx="152.0" cy="335.4" r="1.4" fill="none" stroke="#3ee070" stroke-width="0.6"/><circle cx="115.1" cy="345.6" r="0.9" fill="none" stroke="#3ee070" stroke-width="0.6"/><circle cx="144.5" cy="349.2" r="1.1" fill="#3ee070"/><circle cx="168.0" cy="337.3" r="0.9" fill="none" stroke="#3ee070" stroke-width="0.6"/><circle cx="122.5" cy="347.5" r="1.5" fill="none" stroke="#3ee070" stroke-width="0.7"/><circle cx="111.6" cy="355.6" r="1.3" fill="none" stroke="#3ee070" stroke-width="0.6"/><circle cx="172.7" cy="338.5" r="1.4" fill="#3ee070"/><circle cx="183.4" cy="356.0" r="1.5" fill="none" stroke="#3ee070" stroke-width="0.7"/><circle cx="201.4" cy="395.5" r="1.2" fill="none" stroke="#3ee070" stroke-width="0.6"/><circle cx="175.9" cy="394.9" r="1.1" fill="none" stroke="#3ee070" stroke-width="0.6"/><circle cx="130.9" cy="343.2" r="0.9" fill="none" stroke="#3ee070" stroke-width="0.6"/><circle cx="185.7" cy="342.2" r="1.0" fill="none" stroke="#3ee070" stroke-width="0.6"/><circle cx="194.3" cy="402.7" r="1.1" fill="none" stroke="#3ee070" stroke-width="0.6"/><circle cx="173.0" cy="346.9" r="1.2" fill="#3ee070"/><circle cx="193.4" cy="374.5" r="1.2" fill="#3ee070"/><circle cx="114.9" cy="351.4" r="0.9" fill="none" stroke="#3ee070" stroke-width="0.6"/><circle cx="199.6" cy="369.5" r="1.5" fill="none" stroke="#3ee070" stroke-width="0.7"/><circle cx="142.9" cy="374.6" r="1.3" fill="none" stroke="#3ee070" stroke-width="0.6"/><circle cx="117.9" cy="364.9" r="1.1" fill="#3ee070"/><circle cx="203.3" cy="377.6" r="1.3" fill="#3ee070"/><circle cx="113.5" cy="348.9" r="1.4" fill="none" stroke="#3ee070" stroke-width="0.6"/><circle cx="112.3" cy="353.3" r="1.3" fill="none" stroke="#3ee070" stroke-width="0.6"/><circle cx="166.2" cy="345.8" r="1.4" fill="none" stroke="#3ee070" stroke-width="0.6"/><circle cx="196.1" cy="371.0" r="1.6" fill="none" stroke="#3ee070" stroke-width="0.7"/><circle cx="202.9" cy="379.9" r="1.1" fill="#3ee070"/><circle cx="197.2" cy="380.7" r="1.5" fill="none" stroke="#3ee070" stroke-width="0.7"/><circle cx="197.7" cy="379.1" r="1.3" fill="none" stroke="#3ee070" stroke-width="0.6"/><circle cx="143.7" cy="334.1" r="1.3" fill="none" stroke="#3ee070" stroke-width="0.6"/><circle cx="196.8" cy="362.1" r="0.9" fill="none" stroke="#3ee070" stroke-width="0.6"/><circle cx="184.7" cy="378.8" r="1.2" fill="none" stroke="#3ee070" stroke-width="0.6"/><circle cx="200.4" cy="358.4" r="1.0" fill="none" stroke="#3ee070" stroke-width="0.6"/><circle cx="112.9" cy="358.9" r="1.1" fill="none" stroke="#3ee070" stroke-width="0.6"/><circle cx="198.1" cy="358.7" r="1.6" fill="none" stroke="#3ee070" stroke-width="0.7"/><circle cx="118.3" cy="391.4" r="1.0" fill="none" stroke="#3ee070" stroke-width="0.6"/><circle cx="112.0" cy="361.5" r="1.6" fill="none" stroke="#3ee070" stroke-width="0.7"/><circle cx="113.9" cy="396.0" r="1.5" fill="none" stroke="#3ee070" stroke-width="0.7"/><circle cx="187.3" cy="412.4" r="0.9" fill="none" stroke="#3ee070" stroke-width="0.6"/><circle cx="190.2" cy="390.9" r="1.4" fill="none" stroke="#3ee070" stroke-width="0.6"/><circle cx="189.3" cy="356.7" r="1.0" fill="none" stroke="#3ee070" stroke-width="0.6"/><circle cx="203.5" cy="365.5" r="1.5" fill="#3ee070"/><circle cx="130.5" cy="338.3" r="1.4" fill="none" stroke="#3ee070" stroke-width="0.6"/><circle cx="117.5" cy="341.9" r="1.1" fill="#3ee070"/><circle cx="202.7" cy="401.3" r="1.0" fill="#3ee070"/><circle cx="150.1" cy="335.0" r="1.1" fill="none" stroke="#3ee070" stroke-width="0.6"/><circle cx="114.4" cy="393.4" r="1.1" fill="none" stroke="#3ee070" stroke-width="0.6"/><circle cx="181.4" cy="399.6" r="1.0" fill="none" stroke="#3ee070" stroke-width="0.6"/><circle cx="121.7" cy="349.9" r="1.0" fill="none" stroke="#3ee070" stroke-width="0.6"/><circle cx="203.8" cy="385.3" r="1.5" fill="none" stroke="#3ee070" stroke-width="0.7"/><circle cx="156.1" cy="340.0" r="1.0" fill="none" stroke="#3ee070" stroke-width="0.6"/><circle cx="178.8" cy="341.6" r="1.2" fill="#3ee070"/><circle cx="149.9" cy="336.2" r="1.4" fill="none" stroke="#3ee070" stroke-width="0.6"/><circle cx="161.7" cy="339.4" r="1.0" fill="none" stroke="#3ee070" stroke-width="0.6"/><circle cx="201.0" cy="376.4" r="1.1" fill="none" stroke="#3ee070" stroke-width="0.6"/><circle cx="142.8" cy="332.4" r="1.3" fill="none" stroke="#3ee070" stroke-width="0.6"/><circle cx="195.8" cy="357.5" r="1.3" fill="none" stroke="#3ee070" stroke-width="0.6"/><circle cx="203.1" cy="360.7" r="1.0" fill="none" stroke="#3ee070" stroke-width="0.6"/><circle cx="176.1" cy="339.0" r="1.1" fill="none" stroke="#3ee070" stroke-width="0.6"/><circle cx="127.5" cy="356.0" r="1.2" fill="none" stroke="#3ee070" stroke-width="0.6"/><circle cx="190.1" cy="373.6" r="1.4" fill="none" stroke="#3ee070" stroke-width="0.6"/><circle cx="117.5" cy="349.6" r="1.2" fill="none" stroke="#3ee070" stroke-width="0.6"/><circle cx="158.1" cy="382.8" r="1.6" fill="none" stroke="#3ee070" stroke-width="0.7"/><circle cx="126.9" cy="359.7" r="1.3" fill="none" stroke="#3ee070" stroke-width="0.6"/><circle cx="204.7" cy="382.8" r="1.4" fill="none" stroke="#3ee070" stroke-width="0.6"/><circle cx="145.2" cy="332.9" r="1.1" fill="#3ee070"/><circle cx="196.3" cy="361.7" r="1.4" fill="none" stroke="#3ee070" stroke-width="0.6"/><circle cx="185.6" cy="340.5" r="1.3" fill="#3ee070"/><circle cx="136.6" cy="335.5" r="1.6" fill="none" stroke="#3ee070" stroke-width="0.7"/><circle cx="175.7" cy="345.9" r="1.5" fill="none" stroke="#3ee070" stroke-width="0.7"/><circle cx="126.7" cy="338.6" r="1.1" fill="none" stroke="#3ee070" stroke-width="0.6"/><circle cx="168.7" cy="356.4" r="1.2" fill="#3ee070"/><circle cx="203.9" cy="381.6" r="1.0" fill="none" stroke="#3ee070" stroke-width="0.6"/><circle cx="197.4" cy="391.1" r="0.9" fill="#3ee070"/><circle cx="127.5" cy="348.0" r="1.4" fill="none" stroke="#3ee070" stroke-width="0.6"/><circle cx="197.1" cy="353.3" r="1.0" fill="#3ee070"/><circle cx="130.1" cy="339.4" r="1.0" fill="none" stroke="#3ee070" stroke-width="0.6"/><circle cx="167.0" cy="335.9" r="0.9" fill="none" stroke="#3ee070" stroke-width="0.6"/><circle cx="191.5" cy="396.4" r="1.2" fill="none" stroke="#3ee070" stroke-width="0.6"/><circle cx="202.8" cy="376.4" r="1.3" fill="none" stroke="#3ee070" stroke-width="0.6"/><circle cx="175.4" cy="335.8" r="1.6" fill="#3ee070"/><circle cx="128.4" cy="338.4" r="1.0" fill="none" stroke="#3ee070" stroke-width="0.6"/><circle cx="204.8" cy="396.0" r="1.3" fill="none" stroke="#3ee070" stroke-width="0.6"/><circle cx="201.0" cy="382.4" r="1.0" fill="none" stroke="#3ee070" stroke-width="0.6"/><circle cx="197.0" cy="360.2" r="1.4" fill="none" stroke="#3ee070" stroke-width="0.6"/><circle cx="131.8" cy="345.4" r="1.0" fill="none" stroke="#3ee070" stroke-width="0.6"/><circle cx="190.4" cy="363.2" r="1.1" fill="none" stroke="#3ee070" stroke-width="0.6"/><circle cx="162.5" cy="357.7" r="1.5" fill="none" stroke="#3ee070" stroke-width="0.7"/><circle cx="131.9" cy="345.6" r="1.4" fill="#3ee070"/><circle cx="204.1" cy="398.2" r="1.3" fill="none" stroke="#3ee070" stroke-width="0.6"/><circle cx="112.4" cy="373.1" r="1.1" fill="#3ee070"/><circle cx="133.3" cy="348.3" r="1.1" fill="none" stroke="#3ee070" stroke-width="0.6"/><circle cx="191.6" cy="345.7" r="1.2" fill="#3ee070"/><circle cx="117.8" cy="350.5" r="1.0" fill="none" stroke="#3ee070" stroke-width="0.6"/><circle cx="133.9" cy="336.0" r="1.6" fill="none" stroke="#3ee070" stroke-width="0.7"/><circle cx="111.2" cy="377.5" r="1.2" fill="none" stroke="#3ee070" stroke-width="0.6"/><circle cx="124.1" cy="349.2" r="1.2" fill="#3ee070"/><circle cx="167.7" cy="349.9" r="1.5" fill="none" stroke="#3ee070" stroke-width="0.7"/><circle cx="184.5" cy="342.2" r="1.0" fill="none" stroke="#3ee070" stroke-width="0.6"/><circle cx="124.0" cy="337.2" r="1.3" fill="none" stroke="#3ee070" stroke-width="0.6"/><circle cx="115.5" cy="361.4" r="1.1" fill="none" stroke="#3ee070" stroke-width="0.6"/><circle cx="123.8" cy="371.6" r="1.5" fill="none" stroke="#3ee070" stroke-width="0.7"/><circle cx="188.6" cy="386.3" r="1.2" fill="none" stroke="#3ee070" stroke-width="0.6"/><circle cx="203.2" cy="366.1" r="1.5" fill="none" stroke="#3ee070" stroke-width="0.7"/><circle cx="131.1" cy="341.9" r="1.0" fill="none" stroke="#3ee070" stroke-width="0.6"/><circle cx="204.9" cy="394.7" r="1.4" fill="none" stroke="#3ee070" stroke-width="0.6"/><circle cx="183.1" cy="352.9" r="1.2" fill="none" stroke="#3ee070" stroke-width="0.6"/><circle cx="156.8" cy="342.0" r="0.9" fill="#3ee070"/><circle cx="199.7" cy="394.9" r="1.5" fill="#3ee070"/><circle cx="191.6" cy="376.9" r="1.2" fill="none" stroke="#3ee070" stroke-width="0.6"/><circle cx="182.1" cy="345.7" r="1.5" fill="none" stroke="#3ee070" stroke-width="0.7"/><circle cx="184.1" cy="338.2" r="1.0" fill="none" stroke="#3ee070" stroke-width="0.6"/><circle cx="156.1" cy="348.3" r="0.9" fill="none" stroke="#3ee070" stroke-width="0.6"/><circle cx="183.3" cy="341.6" r="1.5" fill="none" stroke="#3ee070" stroke-width="0.7"/><circle cx="138.1" cy="345.6" r="1.6" fill="none" stroke="#3ee070" stroke-width="0.7"/><circle cx="173.9" cy="341.1" r="1.3" fill="none" stroke="#3ee070" stroke-width="0.6"/><circle cx="126.2" cy="334.0" r="1.1" fill="none" stroke="#3ee070" stroke-width="0.6"/><circle cx="125.7" cy="335.3" r="1.2" fill="#3ee070"/><circle cx="124.7" cy="350.9" r="1.3" fill="none" stroke="#3ee070" stroke-width="0.6"/><circle cx="151.5" cy="335.3" r="1.0" fill="none" stroke="#3ee070" stroke-width="0.6"/><circle cx="195.1" cy="372.7" r="1.0" fill="none" stroke="#3ee070" stroke-width="0.6"/><circle cx="115.3" cy="353.0" r="1.4" fill="#3ee070"/><circle cx="185.6" cy="365.5" r="1.5" fill="#3ee070"/><circle cx="158.7" cy="332.3" r="1.5" fill="#3ee070"/><circle cx="183.0" cy="347.8" r="1.4" fill="none" stroke="#3ee070" stroke-width="0.6"/><circle cx="199.7" cy="371.7" r="1.4" fill="none" stroke="#3ee070" stroke-width="0.6"/><circle cx="174.7" cy="338.4" r="1.4" fill="none" stroke="#3ee070" stroke-width="0.6"/><circle cx="162.8" cy="338.4" r="1.3" fill="none" stroke="#3ee070" stroke-width="0.6"/><circle cx="132.8" cy="335.8" r="1.2" fill="none" stroke="#3ee070" stroke-width="0.6"/><circle cx="170.2" cy="337.7" r="0.9" fill="none" stroke="#3ee070" stroke-width="0.6"/><circle cx="201.8" cy="362.7" r="1.5" fill="#3ee070"/><circle cx="172.6" cy="342.7" r="1.3" fill="none" stroke="#3ee070" stroke-width="0.6"/><circle cx="176.0" cy="343.7" r="1.6" fill="none" stroke="#3ee070" stroke-width="0.7"/><circle cx="171.7" cy="335.5" r="1.1" fill="none" stroke="#3ee070" stroke-width="0.6"/><circle cx="203.7" cy="382.9" r="1.5" fill="#3ee070"/><circle cx="126.2" cy="395.8" r="1.0" fill="#3ee070"/><circle cx="202.7" cy="371.9" r="1.2" fill="none" stroke="#3ee070" stroke-width="0.6"/><circle cx="166.8" cy="334.8" r="1.0" fill="none" stroke="#3ee070" stroke-width="0.6"/><circle cx="195.0" cy="356.2" r="1.5" fill="#3ee070"/><circle cx="155.4" cy="346.4" r="1.2" fill="#3ee070"/><circle cx="139.6" cy="342.8" r="1.4" fill="none" stroke="#3ee070" stroke-width="0.6"/><circle cx="138.1" cy="344.7" r="1.4" fill="#3ee070"/><circle cx="165.1" cy="336.8" r="1.2" fill="none" stroke="#3ee070" stroke-width="0.6"/><circle cx="202.1" cy="395.7" r="0.9" fill="none" stroke="#3ee070" stroke-width="0.6"/><circle cx="135.8" cy="338.4" r="1.1" fill="none" stroke="#3ee070" stroke-width="0.6"/><circle cx="111.3" cy="378.3" r="1.2" fill="#3ee070"/><circle cx="200.6" cy="385.8" r="1.2" fill="none" stroke="#3ee070" stroke-width="0.6"/><circle cx="184.1" cy="368.3" r="1.4" fill="#3ee070"/><circle cx="114.0" cy="356.3" r="1.6" fill="none" stroke="#3ee070" stroke-width="0.7"/><circle cx="173.0" cy="351.6" r="1.1" fill="none" stroke="#3ee070" stroke-width="0.6"/><circle cx="124.9" cy="347.9" r="1.4" fill="none" stroke="#3ee070" stroke-width="0.6"/><circle cx="131.5" cy="343.9" r="1.5" fill="none" stroke="#3ee070" stroke-width="0.7"/><circle cx="200.7" cy="387.7" r="1.3" fill="none" stroke="#3ee070" stroke-width="0.6"/><circle cx="111.1" cy="364.5" r="0.9" fill="#3ee070"/><circle cx="121.0" cy="347.1" r="1.0" fill="none" stroke="#3ee070" stroke-width="0.6"/><circle cx="204.6" cy="372.1" r="1.5" fill="none" stroke="#3ee070" stroke-width="0.7"/><circle cx="122.3" cy="342.5" r="1.1" fill="#3ee070"/><circle cx="178.3" cy="335.3" r="1.2" fill="none" stroke="#3ee070" stroke-width="0.6"/><circle cx="112.3" cy="397.4" r="1.4" fill="#3ee070"/><circle cx="181.2" cy="345.7" r="1.5" fill="none" stroke="#3ee070" stroke-width="0.7"/><circle cx="148.7" cy="349.3" r="1.0" fill="none" stroke="#3ee070" stroke-width="0.6"/><circle cx="152.0" cy="332.9" r="1.2" fill="none" stroke="#3ee070" stroke-width="0.6"/><circle cx="203.0" cy="372.6" r="1.1" fill="#3ee070"/><circle cx="185.9" cy="358.3" r="1.0" fill="#3ee070"/><circle cx="153.0" cy="335.9" r="1.2" fill="#3ee070"/><circle cx="119.4" cy="342.9" r="1.0" fill="none" stroke="#3ee070" stroke-width="0.6"/><circle cx="174.5" cy="340.7" r="1.1" fill="none" stroke="#3ee070" stroke-width="0.6"/><circle cx="138.2" cy="344.8" r="1.6" fill="none" stroke="#3ee070" stroke-width="0.7"/><circle cx="119.1" cy="362.8" r="1.1" fill="none" stroke="#3ee070" stroke-width="0.6"/><circle cx="121.8" cy="355.8" r="1.0" fill="#3ee070"/><circle cx="175.8" cy="343.6" r="0.9" fill="none" stroke="#3ee070" stroke-width="0.6"/><circle cx="203.0" cy="394.3" r="0.9" fill="none" stroke="#3ee070" stroke-width="0.6"/><circle cx="143.2" cy="387.4" r="1.4" fill="none" stroke="#3ee070" stroke-width="0.6"/><circle cx="198.6" cy="399.5" r="1.0" fill="none" stroke="#3ee070" stroke-width="0.6"/><circle cx="197.8" cy="389.7" r="1.6" fill="none" stroke="#3ee070" stroke-width="0.7"/><circle cx="200.4" cy="389.3" r="1.3" fill="none" stroke="#3ee070" stroke-width="0.6"/><circle cx="175.1" cy="347.5" r="1.0" fill="none" stroke="#3ee070" stroke-width="0.6"/><circle cx="113.2" cy="378.0" r="1.5" fill="#3ee070"/><circle cx="203.3" cy="380.7" r="1.4" fill="none" stroke="#3ee070" stroke-width="0.6"/><circle cx="112.9" cy="354.6" r="1.3" fill="none" stroke="#3ee070" stroke-width="0.6"/><circle cx="183.3" cy="337.9" r="1.0" fill="none" stroke="#3ee070" stroke-width="0.6"/><circle cx="194.6" cy="353.1" r="1.0" fill="none" stroke="#3ee070" stroke-width="0.6"/><circle cx="118.2" cy="340.5" r="1.4" fill="#3ee070"/><circle cx="161.0" cy="347.7" r="1.1" fill="none" stroke="#3ee070" stroke-width="0.6"/><circle cx="192.7" cy="386.2" r="1.2" fill="#3ee070"/><circle cx="200.1" cy="370.6" r="1.1" fill="none" stroke="#3ee070" stroke-width="0.6"/><circle cx="169.4" cy="342.8" r="0.9" fill="#3ee070"/><circle cx="172.7" cy="344.6" r="1.4" fill="#3ee070"/><circle cx="148.1" cy="407.7" r="1.0" fill="none" stroke="#3ee070" stroke-width="0.6"/><circle cx="177.3" cy="332.8" r="1.1" fill="#3ee070"/><circle cx="161.4" cy="365.5" r="1.0" fill="none" stroke="#3ee070" stroke-width="0.6"/><circle cx="186.2" cy="380.7" r="1.3" fill="#3ee070"/><circle cx="200.9" cy="377.9" r="1.3" fill="none" stroke="#3ee070" stroke-width="0.6"/><circle cx="127.5" cy="334.1" r="1.0" fill="none" stroke="#3ee070" stroke-width="0.6"/><circle cx="148.8" cy="370.5" r="1.4" fill="none" stroke="#3ee070" stroke-width="0.6"/><circle cx="166.5" cy="335.5" r="1.5" fill="none" stroke="#3ee070" stroke-width="0.7"/><circle cx="171.0" cy="339.3" r="1.1" fill="#3ee070"/><circle cx="133.3" cy="363.7" r="1.3" fill="#3ee070"/><circle cx="193.8" cy="401.6" r="0.9" fill="none" stroke="#3ee070" stroke-width="0.6"/><circle cx="202.7" cy="365.3" r="1.1" fill="none" stroke="#3ee070" stroke-width="0.6"/><circle cx="122.4" cy="354.7" r="1.0" fill="none" stroke="#3ee070" stroke-width="0.6"/><circle cx="201.5" cy="372.4" r="1.1" fill="none" stroke="#3ee070" stroke-width="0.6"/><circle cx="128.9" cy="340.4" r="1.0" fill="none" stroke="#3ee070" stroke-width="0.6"/><circle cx="111.8" cy="385.5" r="1.5" fill="#3ee070"/><circle cx="165.5" cy="342.5" r="1.0" fill="none" stroke="#3ee070" stroke-width="0.6"/><circle cx="112.6" cy="399.5" r="1.5" fill="none" stroke="#3ee070" stroke-width="0.7"/><circle cx="155.1" cy="339.0" r="1.3" fill="none" stroke="#3ee070" stroke-width="0.6"/></g>
<g opacity="0.6"><circle cx="145.5" cy="381.1" r="1.0" fill="none" stroke="#38d070" stroke-width="0.6"/><circle cx="122.9" cy="394.6" r="1.0" fill="none" stroke="#38d070" stroke-width="0.6"/><circle cx="184.9" cy="382.4" r="1.3" fill="#38d070"/><circle cx="145.3" cy="374.8" r="1.5" fill="#38d070"/><circle cx="183.6" cy="395.6" r="1.1" fill="#38d070"/><circle cx="172.6" cy="399.8" r="1.2" fill="#38d070"/><circle cx="120.8" cy="355.4" r="1.4" fill="none" stroke="#38d070" stroke-width="0.7"/><circle cx="127.2" cy="372.8" r="1.1" fill="#38d070"/><circle cx="190.0" cy="373.1" r="1.6" fill="#38d070"/><circle cx="113.9" cy="349.6" r="1.3" fill="#38d070"/><circle cx="127.8" cy="379.4" r="1.6" fill="#38d070"/><circle cx="171.0" cy="368.6" r="1.5" fill="none" stroke="#38d070" stroke-width="0.8"/><circle cx="192.8" cy="353.2" r="1.6" fill="none" stroke="#38d070" stroke-width="0.8"/><circle cx="117.4" cy="354.5" r="1.7" fill="#38d070"/><circle cx="178.9" cy="408.4" r="1.2" fill="#38d070"/><circle cx="174.9" cy="332.3" r="1.4" fill="none" stroke="#38d070" stroke-width="0.7"/><circle cx="122.1" cy="356.2" r="0.9" fill="none" stroke="#38d070" stroke-width="0.6"/><circle cx="130.9" cy="333.8" r="1.5" fill="#38d070"/><circle cx="132.6" cy="346.7" r="1.4" fill="none" stroke="#38d070" stroke-width="0.7"/><circle cx="166.4" cy="396.3" r="1.1" fill="none" stroke="#38d070" stroke-width="0.6"/><circle cx="195.1" cy="349.4" r="1.3" fill="none" stroke="#38d070" stroke-width="0.7"/><circle cx="179.8" cy="396.5" r="1.8" fill="#38d070"/><circle cx="172.3" cy="341.2" r="1.1" fill="none" stroke="#38d070" stroke-width="0.6"/><circle cx="186.7" cy="389.2" r="1.2" fill="none" stroke="#38d070" stroke-width="0.6"/><circle cx="198.4" cy="404.9" r="1.1" fill="none" stroke="#38d070" stroke-width="0.6"/></g>

</g></g>
<rect x="193.7" y="416.8" width="7.7" height="1.4" fill="#ddd"/>
</g>
<rect x="107.8" y="182.2" width="1" height="87.4" fill="#999"/>
<rect x="109.3" y="332.2" width="1.7" height="87.5" fill="#aaa"/>
<line x1="72.50" y1="17.50" x2="72.50" y2="109.00" stroke="#333" stroke-width="1"/>
<line x1="69.00" y1="108.50" x2="260.50" y2="108.50" stroke="#333" stroke-width="1"/>
<line x1="69.00" y1="108.50" x2="72.50" y2="108.50" stroke="#333" stroke-width="1"/>
<line x1="69.00" y1="78.50" x2="72.50" y2="78.50" stroke="#333" stroke-width="1"/>
<line x1="69.00" y1="48.50" x2="72.50" y2="48.50" stroke="#333" stroke-width="1"/>
<line x1="69.00" y1="17.50" x2="72.50" y2="17.50" stroke="#333" stroke-width="1"/>
<line x1="72.50" y1="108.50" x2="72.50" y2="111.80" stroke="#333" stroke-width="1"/>
<line x1="119.50" y1="108.50" x2="119.50" y2="111.80" stroke="#333" stroke-width="1"/>
<line x1="166.50" y1="108.50" x2="166.50" y2="111.80" stroke="#333" stroke-width="1"/>
<line x1="213.50" y1="108.50" x2="213.50" y2="111.80" stroke="#333" stroke-width="1"/>
<line x1="260.50" y1="108.50" x2="260.50" y2="111.80" stroke="#333" stroke-width="1"/>
<line x1="96.00" y1="37.91" x2="96.00" y2="44.04" stroke="#222" stroke-width="1.2"/>
<line x1="92.75" y1="37.91" x2="99.25" y2="37.91" stroke="#222" stroke-width="1.2"/>
<rect x="88.80" y="44.04" width="14.40" height="64.46" fill="#000"/>
<line x1="142.70" y1="49.62" x2="142.70" y2="60.97" stroke="#222" stroke-width="1.2"/>
<line x1="139.45" y1="49.62" x2="145.95" y2="49.62" stroke="#222" stroke-width="1.2"/>
<rect x="135.50" y="60.97" width="14.40" height="47.53" fill="#000"/>
<line x1="190.00" y1="79.73" x2="190.00" y2="85.43" stroke="#222" stroke-width="1.2"/>
<line x1="186.75" y1="79.73" x2="193.25" y2="79.73" stroke="#222" stroke-width="1.2"/>
<rect x="182.80" y="85.43" width="14.40" height="23.07" fill="#000"/>
<line x1="236.80" y1="98.30" x2="236.80" y2="99.39" stroke="#222" stroke-width="1.2"/>
<line x1="233.55" y1="98.30" x2="240.05" y2="98.30" stroke="#222" stroke-width="1.2"/>
<rect x="229.60" y="99.39" width="14.40" height="9.11" fill="#000"/>
<line x1="355.50" y1="25.50" x2="355.50" y2="116.00" stroke="#333" stroke-width="1"/>
<line x1="352.00" y1="115.50" x2="467.50" y2="115.50" stroke="#333" stroke-width="1"/>
<line x1="352.00" y1="115.50" x2="355.50" y2="115.50" stroke="#333" stroke-width="1"/>
<line x1="352.00" y1="85.50" x2="355.50" y2="85.50" stroke="#333" stroke-width="1"/>
<line x1="352.00" y1="55.50" x2="355.50" y2="55.50" stroke="#333" stroke-width="1"/>
<line x1="352.00" y1="25.50" x2="355.50" y2="25.50" stroke="#333" stroke-width="1"/>
<line x1="355.50" y1="115.50" x2="355.50" y2="119.00" stroke="#333" stroke-width="1"/>
<line x1="411.50" y1="115.50" x2="411.50" y2="119.00" stroke="#333" stroke-width="1"/>
<line x1="467.50" y1="115.50" x2="467.50" y2="119.00" stroke="#333" stroke-width="1"/>
<line x1="383.60" y1="49.28" x2="383.60" y2="52.89" stroke="#222" stroke-width="1.2"/>
<line x1="380.35" y1="49.28" x2="386.85" y2="49.28" stroke="#222" stroke-width="1.2"/>
<rect x="375.00" y="52.89" width="17.20" height="62.61" fill="#000"/>
<line x1="439.40" y1="84.80" x2="439.40" y2="86.30" stroke="#222" stroke-width="1.2"/>
<line x1="436.15" y1="84.80" x2="442.65" y2="84.80" stroke="#222" stroke-width="1.2"/>
<rect x="430.80" y="86.30" width="17.20" height="29.20" fill="#000"/>
<line x1="557.00" y1="34.40" x2="557.00" y2="116.90" stroke="#666" stroke-width="1.6"/>
<line x1="553.30" y1="116.10" x2="676.30" y2="116.10" stroke="#666" stroke-width="1.6"/>
<line x1="553.30" y1="116.10" x2="557.00" y2="116.10" stroke="#666" stroke-width="1.4"/>
<line x1="553.30" y1="99.70" x2="557.00" y2="99.70" stroke="#666" stroke-width="1.4"/>
<line x1="553.30" y1="83.30" x2="557.00" y2="83.30" stroke="#666" stroke-width="1.4"/>
<line x1="553.30" y1="66.90" x2="557.00" y2="66.90" stroke="#666" stroke-width="1.4"/>
<line x1="553.30" y1="50.50" x2="557.00" y2="50.50" stroke="#666" stroke-width="1.4"/>
<line x1="553.30" y1="34.10" x2="557.00" y2="34.10" stroke="#666" stroke-width="1.4"/>
<line x1="557.00" y1="116.10" x2="557.00" y2="118.80" stroke="#666" stroke-width="1.4"/>
<line x1="616.60" y1="116.10" x2="616.60" y2="118.80" stroke="#666" stroke-width="1.4"/>
<line x1="676.30" y1="116.10" x2="676.30" y2="118.80" stroke="#666" stroke-width="1.4"/>
<rect x="577.20" y="108.06" width="19.40" height="8.04" fill="#000"/>
<line x1="646.50" y1="44.10" x2="646.50" y2="46.73" stroke="#222" stroke-width="1.2"/>
<line x1="643.00" y1="44.10" x2="650.00" y2="44.10" stroke="#222" stroke-width="1.2"/>
<rect x="636.95" y="46.73" width="19.10" height="69.37" fill="#000"/>
<line x1="285.50" y1="181.90" x2="285.50" y2="269.00" stroke="#333" stroke-width="1"/>
<line x1="281.30" y1="268.50" x2="379.90" y2="268.50" stroke="#555" stroke-width="1"/>
<line x1="281.30" y1="268.50" x2="285.50" y2="268.50" stroke="#333" stroke-width="1"/>
<line x1="281.30" y1="246.82" x2="285.50" y2="246.82" stroke="#333" stroke-width="1"/>
<line x1="281.30" y1="225.14" x2="285.50" y2="225.14" stroke="#333" stroke-width="1"/>
<line x1="281.30" y1="203.46" x2="285.50" y2="203.46" stroke="#333" stroke-width="1"/>
<line x1="281.30" y1="181.78" x2="285.50" y2="181.78" stroke="#333" stroke-width="1"/>
<line x1="285.50" y1="268.50" x2="285.50" y2="272.20" stroke="#444" stroke-width="1"/>
<line x1="332.50" y1="268.50" x2="332.50" y2="272.20" stroke="#444" stroke-width="1"/>
<line x1="379.90" y1="268.50" x2="379.90" y2="272.20" stroke="#444" stroke-width="1"/>
<line x1="308.80" y1="224.49" x2="308.80" y2="228.83" stroke="#222" stroke-width="1.2"/>
<line x1="305.55" y1="224.49" x2="312.05" y2="224.49" stroke="#222" stroke-width="1.2"/>
<rect x="300.30" y="228.83" width="17.00" height="39.67" fill="#000"/>
<line x1="356.20" y1="203.46" x2="356.20" y2="208.45" stroke="#222" stroke-width="1.2"/>
<line x1="352.95" y1="203.46" x2="359.45" y2="203.46" stroke="#222" stroke-width="1.2"/>
<rect x="347.70" y="208.45" width="17.00" height="60.05" fill="#000"/>
<line x1="285.50" y1="324.90" x2="285.50" y2="413.80" stroke="#333" stroke-width="1"/>
<line x1="282.00" y1="413.30" x2="381.50" y2="413.30" stroke="#333" stroke-width="1"/>
<line x1="282.00" y1="413.30" x2="285.50" y2="413.30" stroke="#333" stroke-width="1"/>
<line x1="282.00" y1="395.62" x2="285.50" y2="395.62" stroke="#333" stroke-width="1"/>
<line x1="282.00" y1="377.94" x2="285.50" y2="377.94" stroke="#333" stroke-width="1"/>
<line x1="282.00" y1="360.26" x2="285.50" y2="360.26" stroke="#333" stroke-width="1"/>
<line x1="282.00" y1="342.58" x2="285.50" y2="342.58" stroke="#333" stroke-width="1"/>
<line x1="282.00" y1="324.90" x2="285.50" y2="324.90" stroke="#333" stroke-width="1"/>
<line x1="285.50" y1="413.30" x2="285.50" y2="416.00" stroke="#333" stroke-width="1"/>
<line x1="333.50" y1="413.30" x2="333.50" y2="416.00" stroke="#333" stroke-width="1"/>
<line x1="381.50" y1="413.30" x2="381.50" y2="416.00" stroke="#333" stroke-width="1"/>
<line x1="309.50" y1="338.60" x2="309.50" y2="342.14" stroke="#222" stroke-width="1.2"/>
<line x1="306.25" y1="338.60" x2="312.75" y2="338.60" stroke="#222" stroke-width="1.2"/>
<rect x="302.10" y="342.14" width="14.80" height="71.16" fill="#000"/>
<line x1="357.40" y1="387.66" x2="357.40" y2="389.43" stroke="#222" stroke-width="1.2"/>
<line x1="354.15" y1="387.66" x2="360.65" y2="387.66" stroke="#222" stroke-width="1.2"/>
<rect x="350.00" y="389.43" width="14.80" height="23.87" fill="#000"/>
<line x1="457.90" y1="161.20" x2="457.90" y2="268.00" stroke="#888" stroke-width="1.5"/>
<line x1="454.00" y1="267.50" x2="680.40" y2="267.50" stroke="#333" stroke-width="1"/>
<line x1="454.00" y1="267.50" x2="457.90" y2="267.50" stroke="#555" stroke-width="1"/>
<line x1="454.00" y1="249.80" x2="457.90" y2="249.80" stroke="#555" stroke-width="1"/>
<line x1="454.00" y1="232.10" x2="457.90" y2="232.10" stroke="#555" stroke-width="1"/>
<line x1="454.00" y1="214.40" x2="457.90" y2="214.40" stroke="#555" stroke-width="1"/>
<line x1="454.00" y1="196.70" x2="457.90" y2="196.70" stroke="#555" stroke-width="1"/>
<line x1="454.00" y1="179.00" x2="457.90" y2="179.00" stroke="#555" stroke-width="1"/>
<line x1="454.00" y1="161.30" x2="457.90" y2="161.30" stroke="#555" stroke-width="1"/>
<line x1="457.90" y1="267.50" x2="457.90" y2="271.00" stroke="#333" stroke-width="1"/>
<line x1="494.40" y1="267.50" x2="494.40" y2="271.00" stroke="#333" stroke-width="1"/>
<line x1="533.50" y1="267.50" x2="533.50" y2="271.00" stroke="#333" stroke-width="1"/>
<line x1="570.30" y1="267.50" x2="570.30" y2="271.00" stroke="#333" stroke-width="1"/>
<line x1="607.30" y1="267.50" x2="607.30" y2="271.00" stroke="#333" stroke-width="1"/>
<line x1="643.60" y1="267.50" x2="643.60" y2="271.00" stroke="#333" stroke-width="1"/>
<line x1="680.40" y1="267.50" x2="680.40" y2="271.00" stroke="#333" stroke-width="1"/>
<rect x="464.30" y="232.10" width="11.80" height="35.40" fill="#fff" stroke="#222" stroke-width="1"/>
<line x1="470.20" y1="231.75" x2="470.20" y2="232.10" stroke="#222" stroke-width="1.1"/>
<line x1="467.70" y1="231.75" x2="472.70" y2="231.75" stroke="#222" stroke-width="1.1"/>
<line x1="470.20" y1="232.10" x2="470.20" y2="232.45" stroke="#222" stroke-width="1.1"/>
<line x1="467.70" y1="232.45" x2="472.70" y2="232.45" stroke="#222" stroke-width="1.1"/>
<line x1="482.30" y1="228.21" x2="482.30" y2="229.98" stroke="#222" stroke-width="1.1"/>
<line x1="479.80" y1="228.21" x2="484.80" y2="228.21" stroke="#222" stroke-width="1.1"/>
<rect x="476.10" y="229.98" width="12.30" height="37.52" fill="#000"/>
<rect x="501.10" y="233.16" width="11.80" height="34.34" fill="#fff" stroke="#222" stroke-width="1"/>
<line x1="507.00" y1="232.81" x2="507.00" y2="233.16" stroke="#222" stroke-width="1.1"/>
<line x1="504.50" y1="232.81" x2="509.50" y2="232.81" stroke="#222" stroke-width="1.1"/>
<line x1="507.00" y1="233.16" x2="507.00" y2="233.52" stroke="#222" stroke-width="1.1"/>
<line x1="504.50" y1="233.52" x2="509.50" y2="233.52" stroke="#222" stroke-width="1.1"/>
<line x1="519.10" y1="206.61" x2="519.10" y2="208.38" stroke="#222" stroke-width="1.1"/>
<line x1="516.60" y1="206.61" x2="521.60" y2="206.61" stroke="#222" stroke-width="1.1"/>
<rect x="512.90" y="208.38" width="12.30" height="59.12" fill="#000"/>
<rect x="540.40" y="232.45" width="11.80" height="35.05" fill="#fff" stroke="#222" stroke-width="1"/>
<line x1="546.30" y1="232.10" x2="546.30" y2="232.45" stroke="#222" stroke-width="1.1"/>
<line x1="543.80" y1="232.10" x2="548.80" y2="232.10" stroke="#222" stroke-width="1.1"/>
<line x1="546.30" y1="232.45" x2="546.30" y2="232.81" stroke="#222" stroke-width="1.1"/>
<line x1="543.80" y1="232.81" x2="548.80" y2="232.81" stroke="#222" stroke-width="1.1"/>
<line x1="558.40" y1="223.25" x2="558.40" y2="224.67" stroke="#222" stroke-width="1.1"/>
<line x1="555.90" y1="223.25" x2="560.90" y2="223.25" stroke="#222" stroke-width="1.1"/>
<rect x="552.20" y="224.67" width="12.30" height="42.83" fill="#000"/>
<rect x="577.20" y="233.52" width="11.80" height="33.98" fill="#fff" stroke="#222" stroke-width="1"/>
<line x1="583.10" y1="232.10" x2="583.10" y2="233.52" stroke="#222" stroke-width="1.1"/>
<line x1="580.60" y1="232.10" x2="585.60" y2="232.10" stroke="#222" stroke-width="1.1"/>
<line x1="583.10" y1="233.52" x2="583.10" y2="234.93" stroke="#222" stroke-width="1.1"/>
<line x1="580.60" y1="234.93" x2="585.60" y2="234.93" stroke="#222" stroke-width="1.1"/>
<line x1="595.20" y1="230.33" x2="595.20" y2="233.16" stroke="#222" stroke-width="1.1"/>
<line x1="592.70" y1="230.33" x2="597.70" y2="230.33" stroke="#222" stroke-width="1.1"/>
<rect x="589.00" y="233.16" width="12.30" height="34.34" fill="#000"/>
<rect x="613.30" y="232.10" width="11.80" height="35.40" fill="#fff" stroke="#222" stroke-width="1"/>
<line x1="619.20" y1="231.75" x2="619.20" y2="232.10" stroke="#222" stroke-width="1.1"/>
<line x1="616.70" y1="231.75" x2="621.70" y2="231.75" stroke="#222" stroke-width="1.1"/>
<line x1="619.20" y1="232.10" x2="619.20" y2="232.45" stroke="#222" stroke-width="1.1"/>
<line x1="616.70" y1="232.45" x2="621.70" y2="232.45" stroke="#222" stroke-width="1.1"/>
<line x1="631.30" y1="177.58" x2="631.30" y2="187.14" stroke="#222" stroke-width="1.1"/>
<line x1="628.80" y1="177.58" x2="633.80" y2="177.58" stroke="#222" stroke-width="1.1"/>
<rect x="625.10" y="187.14" width="12.30" height="80.36" fill="#000"/>
<rect x="650.20" y="232.81" width="11.80" height="34.69" fill="#fff" stroke="#222" stroke-width="1"/>
<line x1="656.10" y1="232.45" x2="656.10" y2="232.81" stroke="#222" stroke-width="1.1"/>
<line x1="653.60" y1="232.45" x2="658.60" y2="232.45" stroke="#222" stroke-width="1.1"/>
<line x1="656.10" y1="232.81" x2="656.10" y2="233.16" stroke="#222" stroke-width="1.1"/>
<line x1="653.60" y1="233.16" x2="658.60" y2="233.16" stroke="#222" stroke-width="1.1"/>
<line x1="668.20" y1="183.60" x2="668.20" y2="197.05" stroke="#222" stroke-width="1.1"/>
<line x1="665.70" y1="183.60" x2="670.70" y2="183.60" stroke="#222" stroke-width="1.1"/>
<rect x="662.00" y="197.05" width="12.30" height="70.45" fill="#000"/>
<line x1="457.90" y1="311.20" x2="457.90" y2="415.10" stroke="#888" stroke-width="1.5"/>
<line x1="454.00" y1="414.60" x2="680.20" y2="414.60" stroke="#333" stroke-width="1"/>
<line x1="454.00" y1="414.60" x2="457.90" y2="414.60" stroke="#555" stroke-width="1"/>
<line x1="454.00" y1="397.35" x2="457.90" y2="397.35" stroke="#555" stroke-width="1"/>
<line x1="454.00" y1="380.10" x2="457.90" y2="380.10" stroke="#555" stroke-width="1"/>
<line x1="454.00" y1="362.85" x2="457.90" y2="362.85" stroke="#555" stroke-width="1"/>
<line x1="454.00" y1="345.60" x2="457.90" y2="345.60" stroke="#555" stroke-width="1"/>
<line x1="454.00" y1="328.35" x2="457.90" y2="328.35" stroke="#555" stroke-width="1"/>
<line x1="454.00" y1="311.10" x2="457.90" y2="311.10" stroke="#555" stroke-width="1"/>
<line x1="457.90" y1="414.60" x2="457.90" y2="418.10" stroke="#333" stroke-width="1"/>
<line x1="494.90" y1="414.60" x2="494.90" y2="418.10" stroke="#333" stroke-width="1"/>
<line x1="531.90" y1="414.60" x2="531.90" y2="418.10" stroke="#333" stroke-width="1"/>
<line x1="568.90" y1="414.60" x2="568.90" y2="418.10" stroke="#333" stroke-width="1"/>
<line x1="605.90" y1="414.60" x2="605.90" y2="418.10" stroke="#333" stroke-width="1"/>
<line x1="642.90" y1="414.60" x2="642.90" y2="418.10" stroke="#333" stroke-width="1"/>
<line x1="680.20" y1="414.60" x2="680.20" y2="418.10" stroke="#333" stroke-width="1"/>
<rect x="464.30" y="329.21" width="11.80" height="85.39" fill="#fff" stroke="#222" stroke-width="1"/>
<line x1="470.20" y1="327.49" x2="470.20" y2="329.21" stroke="#222" stroke-width="1.1"/>
<line x1="467.70" y1="327.49" x2="472.70" y2="327.49" stroke="#222" stroke-width="1.1"/>
<line x1="470.20" y1="329.21" x2="470.20" y2="330.94" stroke="#222" stroke-width="1.1"/>
<line x1="467.70" y1="330.94" x2="472.70" y2="330.94" stroke="#222" stroke-width="1.1"/>
<line x1="482.30" y1="366.30" x2="482.30" y2="374.93" stroke="#222" stroke-width="1.1"/>
<line x1="479.80" y1="366.30" x2="484.80" y2="366.30" stroke="#222" stroke-width="1.1"/>
<rect x="476.10" y="374.93" width="12.30" height="39.68" fill="#000"/>
<rect x="501.30" y="328.35" width="11.80" height="86.25" fill="#fff" stroke="#222" stroke-width="1"/>
<line x1="507.20" y1="327.49" x2="507.20" y2="328.35" stroke="#222" stroke-width="1.1"/>
<line x1="504.70" y1="327.49" x2="509.70" y2="327.49" stroke="#222" stroke-width="1.1"/>
<line x1="507.20" y1="328.35" x2="507.20" y2="329.21" stroke="#222" stroke-width="1.1"/>
<line x1="504.70" y1="329.21" x2="509.70" y2="329.21" stroke="#222" stroke-width="1.1"/>
<line x1="519.30" y1="360.26" x2="519.30" y2="368.03" stroke="#222" stroke-width="1.1"/>
<line x1="516.80" y1="360.26" x2="521.80" y2="360.26" stroke="#222" stroke-width="1.1"/>
<rect x="513.10" y="368.03" width="12.30" height="46.57" fill="#000"/>
<rect x="538.30" y="331.28" width="11.80" height="83.32" fill="#fff" stroke="#222" stroke-width="1"/>
<line x1="544.20" y1="326.97" x2="544.20" y2="331.28" stroke="#222" stroke-width="1.1"/>
<line x1="541.70" y1="326.97" x2="546.70" y2="326.97" stroke="#222" stroke-width="1.1"/>
<line x1="544.20" y1="331.28" x2="544.20" y2="335.60" stroke="#222" stroke-width="1.1"/>
<line x1="541.70" y1="335.60" x2="546.70" y2="335.60" stroke="#222" stroke-width="1.1"/>
<line x1="556.30" y1="360.26" x2="556.30" y2="371.91" stroke="#222" stroke-width="1.1"/>
<line x1="553.80" y1="360.26" x2="558.80" y2="360.26" stroke="#222" stroke-width="1.1"/>
<rect x="550.10" y="371.91" width="12.30" height="42.69" fill="#000"/>
<rect x="575.40" y="328.35" width="11.80" height="86.25" fill="#fff" stroke="#222" stroke-width="1"/>
<line x1="581.30" y1="324.30" x2="581.30" y2="328.35" stroke="#222" stroke-width="1.1"/>
<line x1="578.80" y1="324.30" x2="583.80" y2="324.30" stroke="#222" stroke-width="1.1"/>
<line x1="581.30" y1="328.35" x2="581.30" y2="332.40" stroke="#222" stroke-width="1.1"/>
<line x1="578.80" y1="332.40" x2="583.80" y2="332.40" stroke="#222" stroke-width="1.1"/>
<line x1="593.40" y1="363.71" x2="593.40" y2="372.34" stroke="#222" stroke-width="1.1"/>
<line x1="590.90" y1="363.71" x2="595.90" y2="363.71" stroke="#222" stroke-width="1.1"/>
<rect x="587.20" y="372.34" width="12.30" height="42.26" fill="#000"/>
<rect x="612.10" y="331.54" width="11.80" height="83.06" fill="#fff" stroke="#222" stroke-width="1"/>
<line x1="618.00" y1="330.68" x2="618.00" y2="331.54" stroke="#222" stroke-width="1.1"/>
<line x1="615.50" y1="330.68" x2="620.50" y2="330.68" stroke="#222" stroke-width="1.1"/>
<line x1="618.00" y1="331.54" x2="618.00" y2="332.40" stroke="#222" stroke-width="1.1"/>
<line x1="615.50" y1="332.40" x2="620.50" y2="332.40" stroke="#222" stroke-width="1.1"/>
<line x1="630.10" y1="370.79" x2="630.10" y2="371.99" stroke="#222" stroke-width="1.1"/>
<line x1="627.60" y1="370.79" x2="632.60" y2="370.79" stroke="#222" stroke-width="1.1"/>
<rect x="623.90" y="371.99" width="12.30" height="42.61" fill="#000"/>
<rect x="649.30" y="328.35" width="11.80" height="86.25" fill="#fff" stroke="#222" stroke-width="1"/>
<line x1="655.20" y1="323.18" x2="655.20" y2="328.35" stroke="#222" stroke-width="1.1"/>
<line x1="652.70" y1="323.18" x2="657.70" y2="323.18" stroke="#222" stroke-width="1.1"/>
<line x1="655.20" y1="328.35" x2="655.20" y2="333.53" stroke="#222" stroke-width="1.1"/>
<line x1="652.70" y1="333.53" x2="657.70" y2="333.53" stroke="#222" stroke-width="1.1"/>
<line x1="667.30" y1="389.33" x2="667.30" y2="397.35" stroke="#222" stroke-width="1.1"/>
<line x1="664.80" y1="389.33" x2="669.80" y2="389.33" stroke="#222" stroke-width="1.1"/>
<rect x="661.10" y="397.35" width="12.30" height="17.25" fill="#000"/>
<rect x="519.50" y="161.50" width="5.80" height="5.80" fill="#fff" stroke="#222" stroke-width="1"/>
<rect x="562.30" y="161.40" width="6.00" height="5.60" fill="#000"/>
<rect x="517.50" y="309.70" width="6.20" height="6.00" fill="#fff" stroke="#222" stroke-width="1"/>
<rect x="551.30" y="309.50" width="6.90" height="6.30" fill="#000"/>
<text x="1.20" y="10.00" font-size="15" font-weight="bold" font-family="'Liberation Sans',Arial,sans-serif" fill="#000">A</text>
<text transform="translate(22.10,63.30) rotate(-90)" font-size="11.4" font-family="'Liberation Serif','Times New Roman',serif" text-anchor="middle" fill="#000" stroke="#000" stroke-width="0.1" >Relative <tspan font-style="italic">Xist</tspan></text>
<text transform="translate(35.55,62.00) rotate(-90)" font-size="11.6" font-family="'Liberation Serif','Times New Roman',serif" text-anchor="middle" fill="#000" stroke="#000" stroke-width="0.1" >mRNA expression</text>
<text x="62.30" y="112.70" font-size="12" font-family="'Liberation Serif','Times New Roman',serif" text-anchor="end" fill="#000" stroke="#000" stroke-width="0.1" >0</text>
<text x="62.30" y="82.70" font-size="12" font-family="'Liberation Serif','Times New Roman',serif" text-anchor="end" fill="#000" stroke="#000" stroke-width="0.1" >0.5</text>
<text x="62.30" y="52.70" font-size="12" font-family="'Liberation Serif','Times New Roman',serif" text-anchor="end" fill="#000" stroke="#000" stroke-width="0.1" >1</text>
<text x="62.45" y="22.50" font-size="12" font-family="'Liberation Serif','Times New Roman',serif" text-anchor="end" fill="#000" stroke="#000" stroke-width="0.1" >1.5</text>
<text x="96.30" y="128.70" font-size="12" font-family="'Liberation Serif','Times New Roman',serif" text-anchor="middle" fill="#000" stroke="#000" stroke-width="0.1" >18.5 dpc</text>
<text x="142.70" y="127.50" font-size="12" font-family="'Liberation Serif','Times New Roman',serif" text-anchor="middle" fill="#000" stroke="#000" stroke-width="0.1" >0.5 dpp</text>
<text x="190.00" y="127.50" font-size="12" font-family="'Liberation Serif','Times New Roman',serif" text-anchor="middle" fill="#000" stroke="#000" stroke-width="0.1" >2.5 dpp</text>
<text x="190.30" y="79.33" font-size="12" font-family="'Liberation Serif','Times New Roman',serif" text-anchor="middle" fill="#222" stroke="#222" stroke-width="0.2" >*</text>
<text x="236.80" y="127.50" font-size="12" font-family="'Liberation Serif','Times New Roman',serif" text-anchor="middle" fill="#000" stroke="#000" stroke-width="0.1" >4.5 dpp</text>
<text x="237.15" y="96.95" font-size="12" font-family="'Liberation Serif','Times New Roman',serif" text-anchor="middle" fill="#222" stroke="#222" stroke-width="0.2" >***</text>
<text x="275.35" y="11.55" font-size="14.5" font-weight="bold" font-family="'Liberation Sans',Arial,sans-serif" fill="#000">B</text>
<text transform="translate(308.65,69.90) rotate(-90)" font-size="11.4" font-family="'Liberation Serif','Times New Roman',serif" text-anchor="middle" fill="#000" stroke="#000" stroke-width="0.1" >Relative <tspan font-style="italic">Xist</tspan></text>
<text transform="translate(322.80,69.25) rotate(-90)" font-size="11.6" font-family="'Liberation Serif','Times New Roman',serif" text-anchor="middle" fill="#000" stroke="#000" stroke-width="0.1" >mRNA expression</text>
<text x="345.50" y="119.70" font-size="12" font-family="'Liberation Serif','Times New Roman',serif" text-anchor="end" fill="#000" stroke="#000" stroke-width="0.1" >0</text>
<text x="345.50" y="89.70" font-size="12" font-family="'Liberation Serif','Times New Roman',serif" text-anchor="end" fill="#000" stroke="#000" stroke-width="0.1" >0.5</text>
<text x="345.50" y="59.70" font-size="12" font-family="'Liberation Serif','Times New Roman',serif" text-anchor="end" fill="#000" stroke="#000" stroke-width="0.1" >1</text>
<text x="345.90" y="30.40" font-size="12" font-family="'Liberation Serif','Times New Roman',serif" text-anchor="end" fill="#000" stroke="#000" stroke-width="0.1" >1.5</text>
<text x="439.60" y="81.30" font-size="12" font-family="'Liberation Serif','Times New Roman',serif" text-anchor="middle" fill="#222" stroke="#222" stroke-width="0.2" >*</text>
<text x="376.55" y="134.65" font-size="12" font-family="'Liberation Serif','Times New Roman',serif" text-anchor="start" fill="#000" stroke="#000" stroke-width="0.1" >si<tspan font-style="italic">NC</tspan></text>
<text x="421.25" y="134.80" font-size="12" font-family="'Liberation Serif','Times New Roman',serif" text-anchor="start" fill="#000" stroke="#000" stroke-width="0.1" >si<tspan font-style="italic">Xist</tspan></text>
<text x="481.25" y="10.75" font-size="14.5" font-weight="bold" font-family="'Liberation Sans',Arial,sans-serif" fill="#000">C</text>
<text transform="translate(515.60,75.25) rotate(-90)" font-size="11.4" font-family="'Liberation Serif','Times New Roman',serif" text-anchor="middle" fill="#000" stroke="#000" stroke-width="0.1" >Relative <tspan font-style="italic">Xist</tspan></text>
<text transform="translate(529.15,76.10) rotate(-90)" font-size="11.6" font-family="'Liberation Serif','Times New Roman',serif" text-anchor="middle" fill="#000" stroke="#000" stroke-width="0.1" >mRNA expression</text>
<text x="546.60" y="120.00" font-size="11" font-family="'Liberation Serif','Times New Roman',serif" text-anchor="end" fill="#000" stroke="#000" stroke-width="0.1" >0</text>
<text x="546.60" y="103.60" font-size="11" font-family="'Liberation Serif','Times New Roman',serif" text-anchor="end" fill="#000" stroke="#000" stroke-width="0.1" >2</text>
<text x="546.60" y="87.20" font-size="11" font-family="'Liberation Serif','Times New Roman',serif" text-anchor="end" fill="#000" stroke="#000" stroke-width="0.1" >4</text>
<text x="546.60" y="70.80" font-size="11" font-family="'Liberation Serif','Times New Roman',serif" text-anchor="end" fill="#000" stroke="#000" stroke-width="0.1" >6</text>
<text x="546.60" y="54.40" font-size="11" font-family="'Liberation Serif','Times New Roman',serif" text-anchor="end" fill="#000" stroke="#000" stroke-width="0.1" >8</text>
<text x="546.40" y="38.65" font-size="11" font-family="'Liberation Serif','Times New Roman',serif" text-anchor="end" fill="#000" stroke="#000" stroke-width="0.1" >10</text>
<text x="646.35" y="43.50" font-size="12" font-family="'Liberation Serif','Times New Roman',serif" text-anchor="middle" fill="#666" stroke="#666" stroke-width="0.2" >***</text>
<text x="579.00" y="131.30" font-size="12" font-family="'Liberation Serif','Times New Roman',serif" text-anchor="start" fill="#000" stroke="#000" stroke-width="0.1" >NC</text>
<text x="622.30" y="131.60" font-size="12" font-family="'Liberation Serif','Times New Roman',serif" text-anchor="start" fill="#000" stroke="#000" stroke-width="0.1" ><tspan font-style="italic">Xist</tspan> OE</text>
<text x="0.30" y="169.20" font-size="14.5" font-weight="bold" font-family="'Liberation Sans',Arial,sans-serif" fill="#000">D</text>
<text x="51.85" y="179.00" font-size="12.8" font-family="'Liberation Serif','Times New Roman',serif" text-anchor="start" fill="#000" stroke="#000" stroke-width="0.1" >si<tspan font-style="italic">NC</tspan></text>
<text x="134.25" y="179.55" font-size="12.8" font-family="'Liberation Serif','Times New Roman',serif" text-anchor="start" fill="#000" stroke="#000" stroke-width="0.1" >si<tspan font-style="italic">Xist</tspan></text>
<text transform="translate(222.95,224.10) rotate(-90)" font-size="12.2" font-family="'Liberation Serif','Times New Roman',serif" text-anchor="middle" fill="#000" stroke="#000" stroke-width="0.1" >The number of</text>
<text transform="translate(236.40,226.35) rotate(-90)" font-size="12" font-family="'Liberation Serif','Times New Roman',serif" text-anchor="middle" fill="#000" stroke="#000" stroke-width="0.1" >oocytes/ovary</text>
<text x="277.30" y="272.60" font-size="12" font-family="'Liberation Serif','Times New Roman',serif" text-anchor="end" fill="#000" stroke="#000" stroke-width="0.1" >0</text>
<text x="277.30" y="250.92" font-size="12" font-family="'Liberation Serif','Times New Roman',serif" text-anchor="end" fill="#000" stroke="#000" stroke-width="0.1" >5 000</text>
<text x="277.30" y="229.24" font-size="12" font-family="'Liberation Serif','Times New Roman',serif" text-anchor="end" fill="#000" stroke="#000" stroke-width="0.1" >10 000</text>
<text x="277.30" y="207.56" font-size="12" font-family="'Liberation Serif','Times New Roman',serif" text-anchor="end" fill="#000" stroke="#000" stroke-width="0.1" >15 000</text>
<text x="276.85" y="186.43" font-size="12" font-family="'Liberation Serif','Times New Roman',serif" text-anchor="end" fill="#000" stroke="#000" stroke-width="0.1" >20 000</text>
<text x="356.30" y="202.41" font-size="12" font-family="'Liberation Serif','Times New Roman',serif" text-anchor="middle" fill="#222" stroke="#222" stroke-width="0.2" >*</text>
<text x="296.75" y="287.90" font-size="12" font-family="'Liberation Serif','Times New Roman',serif" text-anchor="start" fill="#000" stroke="#000" stroke-width="0.1" >si<tspan font-style="italic">NC</tspan></text>
<text x="337.60" y="287.60" font-size="12" font-family="'Liberation Serif','Times New Roman',serif" text-anchor="start" fill="#000" stroke="#000" stroke-width="0.1" >si<tspan font-style="italic">Xist</tspan></text>
<text x="2.15" y="317.55" font-size="14.5" font-weight="bold" font-family="'Liberation Sans',Arial,sans-serif" fill="#000">E</text>
<text x="55.25" y="329.20" font-size="12.6" font-family="'Liberation Serif','Times New Roman',serif" text-anchor="start" fill="#000" stroke="#000" stroke-width="0.1" >NC</text>
<text x="133.55" y="329.25" font-size="12.8" font-family="'Liberation Serif','Times New Roman',serif" text-anchor="start" fill="#000" stroke="#000" stroke-width="0.1" ><tspan font-style="italic">Xist</tspan> OE</text>
<text transform="translate(222.95,367.40) rotate(-90)" font-size="12.2" font-family="'Liberation Serif','Times New Roman',serif" text-anchor="middle" fill="#000" stroke="#000" stroke-width="0.1" >The number of</text>
<text transform="translate(236.90,369.90) rotate(-90)" font-size="12" font-family="'Liberation Serif','Times New Roman',serif" text-anchor="middle" fill="#000" stroke="#000" stroke-width="0.1" >oocytes/ovary</text>
<text x="277.30" y="417.40" font-size="12" font-family="'Liberation Serif','Times New Roman',serif" text-anchor="end" fill="#000" stroke="#000" stroke-width="0.1" >0</text>
<text x="277.30" y="399.72" font-size="12" font-family="'Liberation Serif','Times New Roman',serif" text-anchor="end" fill="#000" stroke="#000" stroke-width="0.1" >2 000</text>
<text x="277.30" y="382.04" font-size="12" font-family="'Liberation Serif','Times New Roman',serif" text-anchor="end" fill="#000" stroke="#000" stroke-width="0.1" >4 000</text>
<text x="277.30" y="364.36" font-size="12" font-family="'Liberation Serif','Times New Roman',serif" text-anchor="end" fill="#000" stroke="#000" stroke-width="0.1" >6 000</text>
<text x="277.30" y="346.68" font-size="12" font-family="'Liberation Serif','Times New Roman',serif" text-anchor="end" fill="#000" stroke="#000" stroke-width="0.1" >8 000</text>
<text x="277.15" y="330.10" font-size="12" font-family="'Liberation Serif','Times New Roman',serif" text-anchor="end" fill="#000" stroke="#000" stroke-width="0.1" >10 000</text>
<text x="357.70" y="387.25" font-size="12" font-family="'Liberation Serif','Times New Roman',serif" text-anchor="middle" fill="#222" stroke="#222" stroke-width="0.2" >***</text>
<text x="297.35" y="429.45" font-size="12" font-family="'Liberation Serif','Times New Roman',serif" text-anchor="start" fill="#000" stroke="#000" stroke-width="0.1" >NC</text>
<text x="335.60" y="429.00" font-size="12" font-family="'Liberation Serif','Times New Roman',serif" text-anchor="start" fill="#000" stroke="#000" stroke-width="0.1" ><tspan font-style="italic">Xist</tspan> OE</text>
<text x="395.50" y="163.75" font-size="14.5" font-weight="bold" font-family="'Liberation Sans',Arial,sans-serif" fill="#000">F</text>
<text transform="translate(412.45,210.15) rotate(-90)" font-size="12" font-family="'Liberation Serif','Times New Roman',serif" text-anchor="middle" fill="#000" stroke="#000" stroke-width="0.1" >Relative mRNA</text>
<text transform="translate(426.30,210.15) rotate(-90)" font-size="12" font-family="'Liberation Serif','Times New Roman',serif" text-anchor="middle" fill="#000" stroke="#000" stroke-width="0.1" >expression</text>
<text x="447.40" y="271.60" font-size="12" font-family="'Liberation Serif','Times New Roman',serif" text-anchor="end" fill="#000" stroke="#000" stroke-width="0.1" >0</text>
<text x="447.40" y="253.90" font-size="12" font-family="'Liberation Serif','Times New Roman',serif" text-anchor="end" fill="#000" stroke="#000" stroke-width="0.1" >0.5</text>
<text x="447.40" y="236.20" font-size="12" font-family="'Liberation Serif','Times New Roman',serif" text-anchor="end" fill="#000" stroke="#000" stroke-width="0.1" >1</text>
<text x="447.40" y="218.50" font-size="12" font-family="'Liberation Serif','Times New Roman',serif" text-anchor="end" fill="#000" stroke="#000" stroke-width="0.1" >1.5</text>
<text x="447.40" y="200.80" font-size="12" font-family="'Liberation Serif','Times New Roman',serif" text-anchor="end" fill="#000" stroke="#000" stroke-width="0.1" >2</text>
<text x="447.40" y="183.10" font-size="12" font-family="'Liberation Serif','Times New Roman',serif" text-anchor="end" fill="#000" stroke="#000" stroke-width="0.1" >2.5</text>
<text x="447.45" y="165.90" font-size="12" font-family="'Liberation Serif','Times New Roman',serif" text-anchor="end" fill="#000" stroke="#000" stroke-width="0.1" >3</text>
<text x="519.10" y="202.46" font-size="11.5" font-family="'Liberation Serif','Times New Roman',serif" text-anchor="middle" fill="#333" stroke="#333" stroke-width="0.2" >**</text>
<text x="558.40" y="218.30" font-size="11.5" font-family="'Liberation Serif','Times New Roman',serif" text-anchor="middle" fill="#333" stroke="#333" stroke-width="0.2" >**</text>
<text x="631.30" y="179.63" font-size="11.5" font-family="'Liberation Serif','Times New Roman',serif" text-anchor="middle" fill="#333" stroke="#333" stroke-width="0.2" >**</text>
<text x="668.20" y="185.45" font-size="11.5" font-family="'Liberation Serif','Times New Roman',serif" text-anchor="middle" fill="#333" stroke="#333" stroke-width="0.2" >**</text>
<text x="394.00" y="307.00" font-size="14.5" font-weight="bold" font-family="'Liberation Sans',Arial,sans-serif" fill="#000">G</text>
<text transform="translate(411.65,354.40) rotate(-90)" font-size="12" font-family="'Liberation Serif','Times New Roman',serif" text-anchor="middle" fill="#000" stroke="#000" stroke-width="0.1" >Relative mRNA</text>
<text transform="translate(426.80,354.60) rotate(-90)" font-size="12" font-family="'Liberation Serif','Times New Roman',serif" text-anchor="middle" fill="#000" stroke="#000" stroke-width="0.1" >expression</text>
<text x="447.40" y="418.70" font-size="12" font-family="'Liberation Serif','Times New Roman',serif" text-anchor="end" fill="#000" stroke="#000" stroke-width="0.1" >0</text>
<text x="447.40" y="401.45" font-size="12" font-family="'Liberation Serif','Times New Roman',serif" text-anchor="end" fill="#000" stroke="#000" stroke-width="0.1" >0.2</text>
<text x="447.40" y="384.20" font-size="12" font-family="'Liberation Serif','Times New Roman',serif" text-anchor="end" fill="#000" stroke="#000" stroke-width="0.1" >0.4</text>
<text x="447.40" y="366.95" font-size="12" font-family="'Liberation Serif','Times New Roman',serif" text-anchor="end" fill="#000" stroke="#000" stroke-width="0.1" >0.6</text>
<text x="447.40" y="349.70" font-size="12" font-family="'Liberation Serif','Times New Roman',serif" text-anchor="end" fill="#000" stroke="#000" stroke-width="0.1" >0.8</text>
<text x="447.40" y="332.45" font-size="12" font-family="'Liberation Serif','Times New Roman',serif" text-anchor="end" fill="#000" stroke="#000" stroke-width="0.1" >1</text>
<text x="447.80" y="315.20" font-size="12" font-family="'Liberation Serif','Times New Roman',serif" text-anchor="end" fill="#000" stroke="#000" stroke-width="0.1" >1.2</text>
<text x="482.30" y="365.95" font-size="11.5" font-family="'Liberation Serif','Times New Roman',serif" text-anchor="middle" fill="#333" stroke="#333" stroke-width="0.2" >**</text>
<text x="519.30" y="361.21" font-size="11.5" font-family="'Liberation Serif','Times New Roman',serif" text-anchor="middle" fill="#333" stroke="#333" stroke-width="0.2" >**</text>
<text x="556.30" y="362.41" font-size="11.5" font-family="'Liberation Serif','Times New Roman',serif" text-anchor="middle" fill="#333" stroke="#333" stroke-width="0.2" >*</text>
<text x="593.40" y="366.01" font-size="11.5" font-family="'Liberation Serif','Times New Roman',serif" text-anchor="middle" fill="#333" stroke="#333" stroke-width="0.2" >*</text>
<text x="630.10" y="373.59" font-size="11.5" font-family="'Liberation Serif','Times New Roman',serif" text-anchor="middle" fill="#333" stroke="#333" stroke-width="0.2" >**</text>
<text x="667.30" y="391.33" font-size="11.5" font-family="'Liberation Serif','Times New Roman',serif" text-anchor="middle" fill="#333" stroke="#333" stroke-width="0.2" >**</text>
<text x="527.70" y="169.60" font-size="12" font-family="'Liberation Serif','Times New Roman',serif" text-anchor="start" fill="#000" stroke="#000" stroke-width="0.1" >siNC</text>
<text x="574.20" y="169.40" font-size="12" font-family="'Liberation Serif','Times New Roman',serif" text-anchor="start" fill="#000" stroke="#000" stroke-width="0.1" >si<tspan font-style="italic">Xist</tspan></text>
<text x="526.75" y="318.00" font-size="12" font-family="'Liberation Serif','Times New Roman',serif" text-anchor="start" fill="#000" stroke="#000" stroke-width="0.1" >NC</text>
<text x="564.70" y="318.50" font-size="12" font-family="'Liberation Serif','Times New Roman',serif" text-anchor="start" fill="#000" stroke="#000" stroke-width="0.1" ><tspan font-style="italic">Xist</tspan> OE</text>
<text transform="translate(477.40,279.95) rotate(-25)" font-size="11" font-family="'Liberation Serif','Times New Roman',serif" font-style="italic" text-anchor="end" fill="#000" stroke="#000" stroke-width="0.1">Kit</text>
<text transform="translate(513.00,278.70) rotate(-25)" font-size="11" font-family="'Liberation Serif','Times New Roman',serif" font-style="italic" text-anchor="end" fill="#000" stroke="#000" stroke-width="0.1">Figla</text>
<text transform="translate(548.80,282.00) rotate(-25)" font-size="11" font-family="'Liberation Serif','Times New Roman',serif" font-style="italic" text-anchor="end" fill="#000" stroke="#000" stroke-width="0.1">Sohlh1</text>
<text transform="translate(590.30,280.25) rotate(-25)" font-size="11" font-family="'Liberation Serif','Times New Roman',serif" font-style="italic" text-anchor="end" fill="#000" stroke="#000" stroke-width="0.1">Nobox</text>
<text transform="translate(632.55,280.05) rotate(-25)" font-size="11" font-family="'Liberation Serif','Times New Roman',serif" font-style="italic" text-anchor="end" fill="#000" stroke="#000" stroke-width="0.1">Amhr2</text>
<text transform="translate(669.55,282.15) rotate(-25)" font-size="11" font-family="'Liberation Serif','Times New Roman',serif" font-style="italic" text-anchor="end" fill="#000" stroke="#000" stroke-width="0.1">Kitl</text>
<text transform="translate(478.35,425.80) rotate(-25)" font-size="11" font-family="'Liberation Serif','Times New Roman',serif" font-style="italic" text-anchor="end" fill="#000" stroke="#000" stroke-width="0.1">Kit</text>
<text transform="translate(513.75,425.25) rotate(-25)" font-size="11" font-family="'Liberation Serif','Times New Roman',serif" font-style="italic" text-anchor="end" fill="#000" stroke="#000" stroke-width="0.1">Figla</text>
<text transform="translate(549.55,428.05) rotate(-25)" font-size="11" font-family="'Liberation Serif','Times New Roman',serif" font-style="italic" text-anchor="end" fill="#000" stroke="#000" stroke-width="0.1">Sohlh1</text>
<text transform="translate(591.30,427.50) rotate(-25)" font-size="11" font-family="'Liberation Serif','Times New Roman',serif" font-style="italic" text-anchor="end" fill="#000" stroke="#000" stroke-width="0.1">Nobox</text>
<text transform="translate(633.40,427.55) rotate(-25)" font-size="11" font-family="'Liberation Serif','Times New Roman',serif" font-style="italic" text-anchor="end" fill="#000" stroke="#000" stroke-width="0.1">Amhr2</text>
<text transform="translate(671.00,428.20) rotate(-25)" font-size="11" font-family="'Liberation Serif','Times New Roman',serif" font-style="italic" text-anchor="end" fill="#000" stroke="#000" stroke-width="0.1">Kitl</text>
<text transform="translate(13.65,229.45) rotate(-90)" font-size="10.9" font-family="'Liberation Serif','Times New Roman',serif" text-anchor="middle" fill="#000" stroke="#000" stroke-width="0.1" ><tspan fill="#22b04e" stroke="#22b04e">DDX4</tspan><tspan fill="#333" stroke="#333">/</tspan><tspan fill="#3a30d0" stroke="#3a30d0">DAPI</tspan></text>
<text transform="translate(9.55,382.15) rotate(-90)" font-size="10.9" font-family="'Liberation Serif','Times New Roman',serif" text-anchor="middle" fill="#000" stroke="#000" stroke-width="0.1" ><tspan fill="#22b04e" stroke="#22b04e">DDX4</tspan><tspan fill="#333" stroke="#333">/</tspan><tspan fill="#3a30d0" stroke="#3a30d0">DAPI</tspan></text>
</svg>
</body></html>
